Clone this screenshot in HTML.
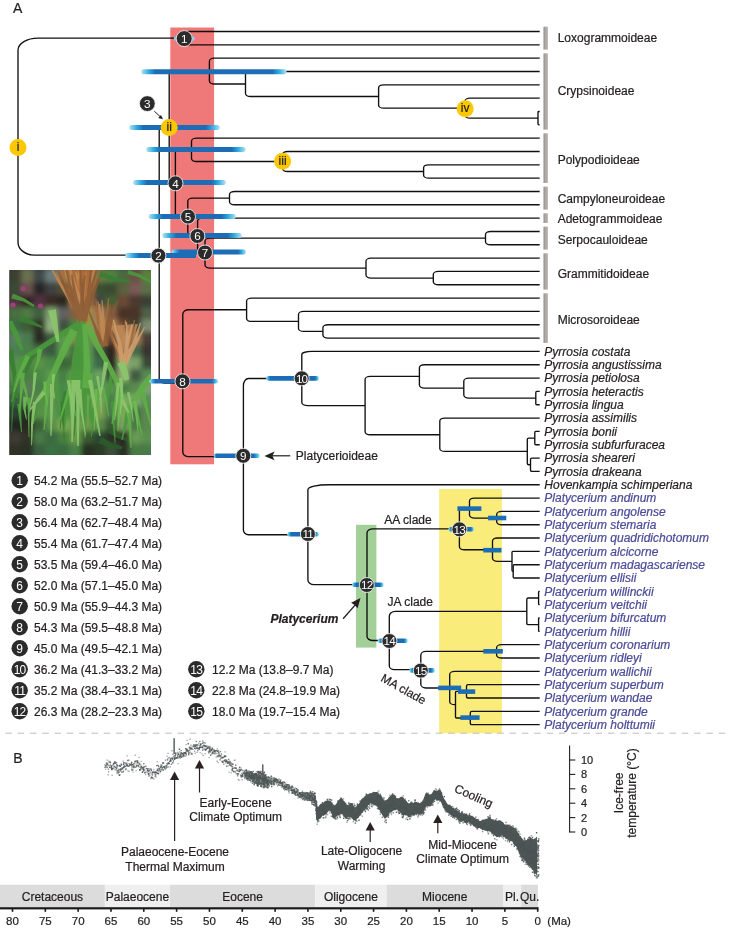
<!DOCTYPE html>
<html><head><meta charset="utf-8"><title>Figure</title>
<style>
html,body{margin:0;padding:0;background:#fff;}
body{width:730px;height:928px;overflow:hidden;font-family:"Liberation Sans", sans-serif;}
svg{display:block;}
</style></head><body>
<svg width="730" height="928" viewBox="0 0 730 928" font-family='"Liberation Sans", sans-serif'><defs><clipPath id="pc"><rect x="9.3" y="270.0" width="141.7" height="185.0"/></clipPath><filter id="pb" x="-5%" y="-5%" width="110%" height="110%"><feGaussianBlur stdDeviation="2.6"/></filter><linearGradient id="bg1" gradientUnits="userSpaceOnUse" x1="174" y1="0" x2="194.5" y2="0"><stop offset="0" stop-color="#B5E2F2"/><stop offset="0.1341" stop-color="#2DA9E0"/><stop offset="0.2439" stop-color="#1D6DB6"/><stop offset="0.7561" stop-color="#1D6DB6"/><stop offset="0.8659" stop-color="#2DA9E0"/><stop offset="1" stop-color="#B5E2F2"/></linearGradient><linearGradient id="bg2" gradientUnits="userSpaceOnUse" x1="141.3" y1="0" x2="286.5" y2="0"><stop offset="0" stop-color="#B5E2F2"/><stop offset="0.0530" stop-color="#2DA9E0"/><stop offset="0.0964" stop-color="#1D6DB6"/><stop offset="0.9036" stop-color="#1D6DB6"/><stop offset="0.9470" stop-color="#2DA9E0"/><stop offset="1" stop-color="#B5E2F2"/></linearGradient><linearGradient id="bg3" gradientUnits="userSpaceOnUse" x1="129.2" y1="0" x2="219.8" y2="0"><stop offset="0" stop-color="#B5E2F2"/><stop offset="0.0850" stop-color="#2DA9E0"/><stop offset="0.1545" stop-color="#1D6DB6"/><stop offset="0.8455" stop-color="#1D6DB6"/><stop offset="0.9150" stop-color="#2DA9E0"/><stop offset="1" stop-color="#B5E2F2"/></linearGradient><linearGradient id="bg4" gradientUnits="userSpaceOnUse" x1="146.2" y1="0" x2="245.6" y2="0"><stop offset="0" stop-color="#B5E2F2"/><stop offset="0.0775" stop-color="#2DA9E0"/><stop offset="0.1408" stop-color="#1D6DB6"/><stop offset="0.8592" stop-color="#1D6DB6"/><stop offset="0.9225" stop-color="#2DA9E0"/><stop offset="1" stop-color="#B5E2F2"/></linearGradient><linearGradient id="bg5" gradientUnits="userSpaceOnUse" x1="133.1" y1="0" x2="225.8" y2="0"><stop offset="0" stop-color="#B5E2F2"/><stop offset="0.0831" stop-color="#2DA9E0"/><stop offset="0.1510" stop-color="#1D6DB6"/><stop offset="0.8490" stop-color="#1D6DB6"/><stop offset="0.9169" stop-color="#2DA9E0"/><stop offset="1" stop-color="#B5E2F2"/></linearGradient><linearGradient id="bg6" gradientUnits="userSpaceOnUse" x1="148.6" y1="0" x2="235.8" y2="0"><stop offset="0" stop-color="#B5E2F2"/><stop offset="0.0883" stop-color="#2DA9E0"/><stop offset="0.1606" stop-color="#1D6DB6"/><stop offset="0.8394" stop-color="#1D6DB6"/><stop offset="0.9117" stop-color="#2DA9E0"/><stop offset="1" stop-color="#B5E2F2"/></linearGradient><linearGradient id="bg7" gradientUnits="userSpaceOnUse" x1="162.3" y1="0" x2="241.7" y2="0"><stop offset="0" stop-color="#B5E2F2"/><stop offset="0.0970" stop-color="#2DA9E0"/><stop offset="0.1763" stop-color="#1D6DB6"/><stop offset="0.8237" stop-color="#1D6DB6"/><stop offset="0.9030" stop-color="#2DA9E0"/><stop offset="1" stop-color="#B5E2F2"/></linearGradient><linearGradient id="bg8" gradientUnits="userSpaceOnUse" x1="171.5" y1="0" x2="246.0" y2="0"><stop offset="0" stop-color="#B5E2F2"/><stop offset="0.0591" stop-color="#2DA9E0"/><stop offset="0.1074" stop-color="#1D6DB6"/><stop offset="0.8926" stop-color="#1D6DB6"/><stop offset="0.9409" stop-color="#2DA9E0"/><stop offset="1" stop-color="#B5E2F2"/></linearGradient><linearGradient id="bg9" gradientUnits="userSpaceOnUse" x1="125.4" y1="0" x2="196.0" y2="0"><stop offset="0" stop-color="#B5E2F2"/><stop offset="0.1091" stop-color="#2DA9E0"/><stop offset="0.1983" stop-color="#1D6DB6"/><stop offset="0.9858" stop-color="#1D6DB6"/><stop offset="0.9922" stop-color="#1D6DB6"/><stop offset="1" stop-color="#1D6DB6"/></linearGradient><linearGradient id="bg10" gradientUnits="userSpaceOnUse" x1="149.4" y1="0" x2="218.0" y2="0"><stop offset="0" stop-color="#B5E2F2"/><stop offset="0.0481" stop-color="#2DA9E0"/><stop offset="0.0875" stop-color="#1D6DB6"/><stop offset="0.9125" stop-color="#1D6DB6"/><stop offset="0.9519" stop-color="#2DA9E0"/><stop offset="1" stop-color="#B5E2F2"/></linearGradient><linearGradient id="bg11" gradientUnits="userSpaceOnUse" x1="213.6" y1="0" x2="259.8" y2="0"><stop offset="0" stop-color="#B5E2F2"/><stop offset="0.0357" stop-color="#2DA9E0"/><stop offset="0.0649" stop-color="#1D6DB6"/><stop offset="0.8701" stop-color="#1D6DB6"/><stop offset="0.9286" stop-color="#2DA9E0"/><stop offset="1" stop-color="#B5E2F2"/></linearGradient><linearGradient id="bg12" gradientUnits="userSpaceOnUse" x1="266.2" y1="0" x2="319.0" y2="0"><stop offset="0" stop-color="#B5E2F2"/><stop offset="0.0417" stop-color="#2DA9E0"/><stop offset="0.0758" stop-color="#1D6DB6"/><stop offset="0.9242" stop-color="#1D6DB6"/><stop offset="0.9583" stop-color="#2DA9E0"/><stop offset="1" stop-color="#B5E2F2"/></linearGradient><linearGradient id="bg13" gradientUnits="userSpaceOnUse" x1="287.3" y1="0" x2="319.0" y2="0"><stop offset="0" stop-color="#B5E2F2"/><stop offset="0.0694" stop-color="#2DA9E0"/><stop offset="0.1262" stop-color="#1D6DB6"/><stop offset="0.8738" stop-color="#1D6DB6"/><stop offset="0.9306" stop-color="#2DA9E0"/><stop offset="1" stop-color="#B5E2F2"/></linearGradient><linearGradient id="bg14" gradientUnits="userSpaceOnUse" x1="352.0" y1="0" x2="383.7" y2="0"><stop offset="0" stop-color="#B5E2F2"/><stop offset="0.0694" stop-color="#2DA9E0"/><stop offset="0.1262" stop-color="#1D6DB6"/><stop offset="0.8738" stop-color="#1D6DB6"/><stop offset="0.9306" stop-color="#2DA9E0"/><stop offset="1" stop-color="#B5E2F2"/></linearGradient><linearGradient id="bg15" gradientUnits="userSpaceOnUse" x1="377.7" y1="0" x2="407.8" y2="0"><stop offset="0" stop-color="#B5E2F2"/><stop offset="0.0731" stop-color="#2DA9E0"/><stop offset="0.1329" stop-color="#1D6DB6"/><stop offset="0.8671" stop-color="#1D6DB6"/><stop offset="0.9269" stop-color="#2DA9E0"/><stop offset="1" stop-color="#B5E2F2"/></linearGradient><linearGradient id="bg16" gradientUnits="userSpaceOnUse" x1="409.3" y1="0" x2="434.9" y2="0"><stop offset="0" stop-color="#B5E2F2"/><stop offset="0.0859" stop-color="#2DA9E0"/><stop offset="0.1563" stop-color="#1D6DB6"/><stop offset="0.8437" stop-color="#1D6DB6"/><stop offset="0.9141" stop-color="#2DA9E0"/><stop offset="1" stop-color="#B5E2F2"/></linearGradient><linearGradient id="bg17" gradientUnits="userSpaceOnUse" x1="448.4" y1="0" x2="474.0" y2="0"><stop offset="0" stop-color="#B5E2F2"/><stop offset="0.0645" stop-color="#2DA9E0"/><stop offset="0.1172" stop-color="#1D6DB6"/><stop offset="0.8828" stop-color="#1D6DB6"/><stop offset="0.9355" stop-color="#2DA9E0"/><stop offset="1" stop-color="#B5E2F2"/></linearGradient><linearGradient id="gbar" x1="0" y1="0" x2="1" y2="0"><stop offset="0" stop-color="#8F8B87"/><stop offset="0.55" stop-color="#B4B0AC"/><stop offset="1" stop-color="#A9A5A1"/></linearGradient></defs><rect width="730" height="928" fill="#FFFFFF"/><g clip-path="url(#pc)"><rect x="9.3" y="270.0" width="141.7" height="185.0" fill="#2B3324"/><g filter="url(#pb)"><rect x="7.30" y="268.00" width="15.50" height="15.90" fill="#3a4030"/><rect x="21.30" y="268.00" width="12.50" height="15.90" fill="#6a7050"/><rect x="33.30" y="268.00" width="12.50" height="15.90" fill="#404848"/><rect x="45.30" y="268.00" width="12.50" height="15.90" fill="#6a7a7a"/><rect x="57.30" y="268.00" width="12.50" height="15.90" fill="#a08050"/><rect x="69.30" y="268.00" width="12.50" height="15.90" fill="#c08850"/><rect x="81.30" y="268.00" width="12.50" height="15.90" fill="#b87840"/><rect x="93.30" y="268.00" width="12.50" height="15.90" fill="#6a7a45"/><rect x="105.30" y="268.00" width="12.50" height="15.90" fill="#508040"/><rect x="117.30" y="268.00" width="12.50" height="15.90" fill="#4a6a40"/><rect x="129.30" y="268.00" width="12.50" height="15.90" fill="#6a5045"/><rect x="141.30" y="268.00" width="15.50" height="15.90" fill="#5a8040"/><rect x="7.30" y="282.40" width="15.50" height="12.90" fill="#3a4a35"/><rect x="21.30" y="282.40" width="12.50" height="12.90" fill="#6a5050"/><rect x="33.30" y="282.40" width="12.50" height="12.90" fill="#252525"/><rect x="45.30" y="282.40" width="12.50" height="12.90" fill="#404040"/><rect x="57.30" y="282.40" width="12.50" height="12.90" fill="#505038"/><rect x="69.30" y="282.40" width="12.50" height="12.90" fill="#c08040"/><rect x="81.30" y="282.40" width="12.50" height="12.90" fill="#b87a45"/><rect x="93.30" y="282.40" width="12.50" height="12.90" fill="#3a5035"/><rect x="105.30" y="282.40" width="12.50" height="12.90" fill="#3a4a30"/><rect x="117.30" y="282.40" width="12.50" height="12.90" fill="#5a6040"/><rect x="129.30" y="282.40" width="12.50" height="12.90" fill="#7a5a55"/><rect x="141.30" y="282.40" width="15.50" height="12.90" fill="#5a7045"/><rect x="7.30" y="294.80" width="15.50" height="12.90" fill="#503540"/><rect x="21.30" y="294.80" width="12.50" height="12.90" fill="#302828"/><rect x="33.30" y="294.80" width="12.50" height="12.90" fill="#503040"/><rect x="45.30" y="294.80" width="12.50" height="12.90" fill="#3a2a25"/><rect x="57.30" y="294.80" width="12.50" height="12.90" fill="#2a2520"/><rect x="69.30" y="294.80" width="12.50" height="12.90" fill="#b08050"/><rect x="81.30" y="294.80" width="12.50" height="12.90" fill="#b07040"/><rect x="93.30" y="294.80" width="12.50" height="12.90" fill="#454840"/><rect x="105.30" y="294.80" width="12.50" height="12.90" fill="#406035"/><rect x="117.30" y="294.80" width="12.50" height="12.90" fill="#6a4a35"/><rect x="129.30" y="294.80" width="12.50" height="12.90" fill="#4a3a30"/><rect x="141.30" y="294.80" width="15.50" height="12.90" fill="#3a4035"/><rect x="7.30" y="307.20" width="15.50" height="12.90" fill="#4a7040"/><rect x="21.30" y="307.20" width="12.50" height="12.90" fill="#507a45"/><rect x="33.30" y="307.20" width="12.50" height="12.90" fill="#406040"/><rect x="45.30" y="307.20" width="12.50" height="12.90" fill="#80a070"/><rect x="57.30" y="307.20" width="12.50" height="12.90" fill="#606060"/><rect x="69.30" y="307.20" width="12.50" height="12.90" fill="#806040"/><rect x="81.30" y="307.20" width="12.50" height="12.90" fill="#a08a45"/><rect x="93.30" y="307.20" width="12.50" height="12.90" fill="#a07a55"/><rect x="105.30" y="307.20" width="12.50" height="12.90" fill="#7a5a45"/><rect x="117.30" y="307.20" width="12.50" height="12.90" fill="#4a3025"/><rect x="129.30" y="307.20" width="12.50" height="12.90" fill="#4a3525"/><rect x="141.30" y="307.20" width="15.50" height="12.90" fill="#506048"/><rect x="7.30" y="319.60" width="15.50" height="12.90" fill="#3a6a40"/><rect x="21.30" y="319.60" width="12.50" height="12.90" fill="#405a38"/><rect x="33.30" y="319.60" width="12.50" height="12.90" fill="#303028"/><rect x="45.30" y="319.60" width="12.50" height="12.90" fill="#90b080"/><rect x="57.30" y="319.60" width="12.50" height="12.90" fill="#405040"/><rect x="69.30" y="319.60" width="12.50" height="12.90" fill="#4a8040"/><rect x="81.30" y="319.60" width="12.50" height="12.90" fill="#8a9a40"/><rect x="93.30" y="319.60" width="12.50" height="12.90" fill="#a08060"/><rect x="105.30" y="319.60" width="12.50" height="12.90" fill="#b08050"/><rect x="117.30" y="319.60" width="12.50" height="12.90" fill="#6a4a35"/><rect x="129.30" y="319.60" width="12.50" height="12.90" fill="#3a4030"/><rect x="141.30" y="319.60" width="15.50" height="12.90" fill="#7a8a70"/><rect x="7.30" y="332.00" width="15.50" height="12.90" fill="#5a8060"/><rect x="21.30" y="332.00" width="12.50" height="12.90" fill="#4a7a50"/><rect x="33.30" y="332.00" width="12.50" height="12.90" fill="#2a2a20"/><rect x="45.30" y="332.00" width="12.50" height="12.90" fill="#405a40"/><rect x="57.30" y="332.00" width="12.50" height="12.90" fill="#5a9a50"/><rect x="69.30" y="332.00" width="12.50" height="12.90" fill="#7a9050"/><rect x="81.30" y="332.00" width="12.50" height="12.90" fill="#5a9a50"/><rect x="93.30" y="332.00" width="12.50" height="12.90" fill="#a07040"/><rect x="105.30" y="332.00" width="12.50" height="12.90" fill="#6a4a35"/><rect x="117.30" y="332.00" width="12.50" height="12.90" fill="#b08a60"/><rect x="129.30" y="332.00" width="12.50" height="12.90" fill="#a07a55"/><rect x="141.30" y="332.00" width="15.50" height="12.90" fill="#4a4038"/><rect x="7.30" y="344.40" width="15.50" height="12.90" fill="#4a8050"/><rect x="21.30" y="344.40" width="12.50" height="12.90" fill="#4a8048"/><rect x="33.30" y="344.40" width="12.50" height="12.90" fill="#4a6a48"/><rect x="45.30" y="344.40" width="12.50" height="12.90" fill="#3a5a40"/><rect x="57.30" y="344.40" width="12.50" height="12.90" fill="#5a9a50"/><rect x="69.30" y="344.40" width="12.50" height="12.90" fill="#4a7040"/><rect x="81.30" y="344.40" width="12.50" height="12.90" fill="#5a9a55"/><rect x="93.30" y="344.40" width="12.50" height="12.90" fill="#3a5a40"/><rect x="105.30" y="344.40" width="12.50" height="12.90" fill="#302520"/><rect x="117.30" y="344.40" width="12.50" height="12.90" fill="#b08a60"/><rect x="129.30" y="344.40" width="12.50" height="12.90" fill="#4a6a48"/><rect x="141.30" y="344.40" width="15.50" height="12.90" fill="#3a3530"/><rect x="7.30" y="356.80" width="15.50" height="12.90" fill="#5a9050"/><rect x="21.30" y="356.80" width="12.50" height="12.90" fill="#4a8a45"/><rect x="33.30" y="356.80" width="12.50" height="12.90" fill="#5a9048"/><rect x="45.30" y="356.80" width="12.50" height="12.90" fill="#4a8a45"/><rect x="57.30" y="356.80" width="12.50" height="12.90" fill="#3a6a38"/><rect x="69.30" y="356.80" width="12.50" height="12.90" fill="#4a6a40"/><rect x="81.30" y="356.80" width="12.50" height="12.90" fill="#5a9a55"/><rect x="93.30" y="356.80" width="12.50" height="12.90" fill="#3a6a48"/><rect x="105.30" y="356.80" width="12.50" height="12.90" fill="#2a2a20"/><rect x="117.30" y="356.80" width="12.50" height="12.90" fill="#8ab070"/><rect x="129.30" y="356.80" width="12.50" height="12.90" fill="#7aa068"/><rect x="141.30" y="356.80" width="15.50" height="12.90" fill="#3a4a38"/><rect x="7.30" y="369.20" width="15.50" height="12.90" fill="#5a9050"/><rect x="21.30" y="369.20" width="12.50" height="12.90" fill="#4a8040"/><rect x="33.30" y="369.20" width="12.50" height="12.90" fill="#4a8a45"/><rect x="45.30" y="369.20" width="12.50" height="12.90" fill="#5a9a50"/><rect x="57.30" y="369.20" width="12.50" height="12.90" fill="#4a8045"/><rect x="69.30" y="369.20" width="12.50" height="12.90" fill="#6aa055"/><rect x="81.30" y="369.20" width="12.50" height="12.90" fill="#4a8a48"/><rect x="93.30" y="369.20" width="12.50" height="12.90" fill="#6aa060"/><rect x="105.30" y="369.20" width="12.50" height="12.90" fill="#3a4a35"/><rect x="117.30" y="369.20" width="12.50" height="12.90" fill="#90b070"/><rect x="129.30" y="369.20" width="12.50" height="12.90" fill="#405a40"/><rect x="141.30" y="369.20" width="15.50" height="12.90" fill="#5a8a58"/><rect x="7.30" y="381.60" width="15.50" height="12.90" fill="#4a8045"/><rect x="21.30" y="381.60" width="12.50" height="12.90" fill="#5a7a58"/><rect x="33.30" y="381.60" width="12.50" height="12.90" fill="#4a8045"/><rect x="45.30" y="381.60" width="12.50" height="12.90" fill="#5a9048"/><rect x="57.30" y="381.60" width="12.50" height="12.90" fill="#4a8a48"/><rect x="69.30" y="381.60" width="12.50" height="12.90" fill="#6aa05a"/><rect x="81.30" y="381.60" width="12.50" height="12.90" fill="#4a8a48"/><rect x="93.30" y="381.60" width="12.50" height="12.90" fill="#5a9a55"/><rect x="105.30" y="381.60" width="12.50" height="12.90" fill="#5a9050"/><rect x="117.30" y="381.60" width="12.50" height="12.90" fill="#4a8045"/><rect x="129.30" y="381.60" width="12.50" height="12.90" fill="#5a8a50"/><rect x="141.30" y="381.60" width="15.50" height="12.90" fill="#7aa070"/><rect x="7.30" y="394.00" width="15.50" height="12.90" fill="#3a6040"/><rect x="21.30" y="394.00" width="12.50" height="12.90" fill="#4a7a48"/><rect x="33.30" y="394.00" width="12.50" height="12.90" fill="#5a8a50"/><rect x="45.30" y="394.00" width="12.50" height="12.90" fill="#5a9050"/><rect x="57.30" y="394.00" width="12.50" height="12.90" fill="#4a8a48"/><rect x="69.30" y="394.00" width="12.50" height="12.90" fill="#4a8a48"/><rect x="81.30" y="394.00" width="12.50" height="12.90" fill="#5a9048"/><rect x="93.30" y="394.00" width="12.50" height="12.90" fill="#7aa858"/><rect x="105.30" y="394.00" width="12.50" height="12.90" fill="#4a8048"/><rect x="117.30" y="394.00" width="12.50" height="12.90" fill="#7aa860"/><rect x="129.30" y="394.00" width="12.50" height="12.90" fill="#7aa868"/><rect x="141.30" y="394.00" width="15.50" height="12.90" fill="#5a9055"/><rect x="7.30" y="406.40" width="15.50" height="12.90" fill="#2a4030"/><rect x="21.30" y="406.40" width="12.50" height="12.90" fill="#253025"/><rect x="33.30" y="406.40" width="12.50" height="12.90" fill="#5a9048"/><rect x="45.30" y="406.40" width="12.50" height="12.90" fill="#5a9a50"/><rect x="57.30" y="406.40" width="12.50" height="12.90" fill="#4a8a45"/><rect x="69.30" y="406.40" width="12.50" height="12.90" fill="#5a9a50"/><rect x="81.30" y="406.40" width="12.50" height="12.90" fill="#5a9048"/><rect x="93.30" y="406.40" width="12.50" height="12.90" fill="#7aa050"/><rect x="105.30" y="406.40" width="12.50" height="12.90" fill="#4a7a48"/><rect x="117.30" y="406.40" width="12.50" height="12.90" fill="#7aa858"/><rect x="129.30" y="406.40" width="12.50" height="12.90" fill="#4a7048"/><rect x="141.30" y="406.40" width="15.50" height="12.90" fill="#5a8a50"/><rect x="7.30" y="418.80" width="15.50" height="12.90" fill="#202820"/><rect x="21.30" y="418.80" width="12.50" height="12.90" fill="#252a20"/><rect x="33.30" y="418.80" width="12.50" height="12.90" fill="#3a6038"/><rect x="45.30" y="418.80" width="12.50" height="12.90" fill="#5a9048"/><rect x="57.30" y="418.80" width="12.50" height="12.90" fill="#7aa850"/><rect x="69.30" y="418.80" width="12.50" height="12.90" fill="#6aa050"/><rect x="81.30" y="418.80" width="12.50" height="12.90" fill="#6a9a48"/><rect x="93.30" y="418.80" width="12.50" height="12.90" fill="#5a8a48"/><rect x="105.30" y="418.80" width="12.50" height="12.90" fill="#3a5a38"/><rect x="117.30" y="418.80" width="12.50" height="12.90" fill="#7aa060"/><rect x="129.30" y="418.80" width="12.50" height="12.90" fill="#4a7a45"/><rect x="141.30" y="418.80" width="15.50" height="12.90" fill="#5a8a50"/><rect x="7.30" y="431.20" width="15.50" height="12.90" fill="#3a3a30"/><rect x="21.30" y="431.20" width="12.50" height="12.90" fill="#303028"/><rect x="33.30" y="431.20" width="12.50" height="12.90" fill="#4a7a45"/><rect x="45.30" y="431.20" width="12.50" height="12.90" fill="#3a6a40"/><rect x="57.30" y="431.20" width="12.50" height="12.90" fill="#4a8040"/><rect x="69.30" y="431.20" width="12.50" height="12.90" fill="#6a9a48"/><rect x="81.30" y="431.20" width="12.50" height="12.90" fill="#3a5a30"/><rect x="93.30" y="431.20" width="12.50" height="12.90" fill="#2a4a30"/><rect x="105.30" y="431.20" width="12.50" height="12.90" fill="#2a3025"/><rect x="117.30" y="431.20" width="12.50" height="12.90" fill="#2a2a20"/><rect x="129.30" y="431.20" width="12.50" height="12.90" fill="#6a9a55"/><rect x="141.30" y="431.20" width="15.50" height="12.90" fill="#5a9050"/><rect x="7.30" y="443.60" width="15.50" height="15.90" fill="#303028"/><rect x="21.30" y="443.60" width="12.50" height="15.90" fill="#2a3025"/><rect x="33.30" y="443.60" width="12.50" height="15.90" fill="#3a6040"/><rect x="45.30" y="443.60" width="12.50" height="15.90" fill="#3a7040"/><rect x="57.30" y="443.60" width="12.50" height="15.90" fill="#3a6a40"/><rect x="69.30" y="443.60" width="12.50" height="15.90" fill="#4a8045"/><rect x="81.30" y="443.60" width="12.50" height="15.90" fill="#253020"/><rect x="93.30" y="443.60" width="12.50" height="15.90" fill="#2a3a28"/><rect x="105.30" y="443.60" width="12.50" height="15.90" fill="#3a5038"/><rect x="117.30" y="443.60" width="12.50" height="15.90" fill="#2a3025"/><rect x="129.30" y="443.60" width="12.50" height="15.90" fill="#4a7a45"/><rect x="141.30" y="443.60" width="15.50" height="15.90" fill="#4a7a48"/></g><path fill="#A8683A" opacity="0.85" d="M62,270 L100,270 L92,300 L86,322 L80,322 L70,298 ZM87.2,319.3 L71.8,296.5 L54.2,273.7 L53.0,274.6 L68.4,298.7 L81.6,322.7ZM84.3,319.8 L70.7,293.9 L60.0,267.9 L58.6,268.4 L67.6,295.2 L79.4,322.2ZM83.9,320.0 L73.4,296.1 L65.2,272.2 L63.8,272.6 L70.1,297.3 L78.6,322.0ZM86.7,320.7 L82.8,296.0 L76.8,271.5 L75.3,271.8 L79.4,296.6 L81.5,321.3ZM84.8,320.7 L81.7,297.8 L81.1,274.8 L79.6,274.7 L77.9,297.9 L78.8,321.3ZM85.1,320.9 L83.2,295.1 L79.0,269.4 L77.5,269.6 L79.7,295.4 L79.4,321.1ZM87.3,320.9 L85.4,295.9 L87.0,270.7 L85.5,270.6 L81.7,295.8 L81.4,321.1ZM84.5,322.1 L94.0,295.4 L98.6,268.8 L97.2,268.5 L90.4,294.3 L78.9,319.9ZM86.9,321.7 L91.6,296.9 L100.6,271.8 L99.2,271.2 L87.8,295.6 L80.7,320.3ZM127.3,362.9 L115.8,342.2 L105.5,321.4 L104.4,321.8 L113.1,343.4 L123.1,365.1ZM126.1,363.8 L123.2,343.2 L118.4,322.7 L117.2,322.9 L119.6,343.6 L120.1,364.2ZM125.4,363.7 L122.0,344.2 L119.9,324.6 L118.7,324.6 L118.7,344.5 L120.0,364.3ZM124.5,364.0 L123.4,343.6 L121.6,323.2 L120.4,323.2 L120.6,343.6 L120.1,364.0ZM126.9,364.5 L130.5,345.6 L135.3,326.5 L134.2,326.2 L127.6,344.8 L122.3,363.5ZM126.4,364.6 L131.0,342.3 L135.1,320.1 L134.0,319.8 L128.1,341.7 L121.9,363.4ZM107.2,345.4 L99.4,322.4 L96.5,299.2 L95.3,299.3 L96.9,322.9 L103.4,346.6ZM106.8,345.5 L102.1,325.3 L95.1,305.3 L93.9,305.6 L98.7,326.1 L101.2,346.5ZM104.8,346.6 L108.7,322.2 L109.1,298.0 L107.9,297.9 L105.4,321.8 L99.3,345.4Z"/><path fill="#C08A55" opacity="0.85" d="M108,326 L138,324 L130,350 L125,364 L120,360 L112,342 ZM84.8,319.7 L68.1,293.9 L52.0,268.0 L50.7,268.8 L65.2,295.6 L80.3,322.3ZM85.1,320.2 L77.6,294.6 L65.1,269.3 L63.8,269.9 L73.5,296.0 L78.4,321.8ZM84.6,320.3 L78.2,294.4 L70.3,268.5 L68.8,268.8 L74.1,295.3 L77.8,321.7ZM84.2,320.7 L80.1,294.4 L70.7,268.4 L69.3,268.9 L76.6,295.2 L78.7,321.3ZM87.8,321.4 L90.2,295.7 L94.8,269.8 L93.3,269.5 L86.5,295.0 L82.0,320.6ZM126.4,362.8 L115.8,342.4 L107.6,321.9 L106.5,322.3 L112.7,343.7 L121.4,365.2ZM127.9,362.9 L118.3,344.6 L111.3,326.3 L110.1,326.6 L115.2,345.8 L123.0,365.1ZM125.1,363.6 L121.1,343.6 L115.6,323.5 L114.5,323.8 L118.2,344.1 L120.5,364.4ZM125.4,364.3 L127.6,342.3 L126.0,320.5 L124.8,320.5 L124.9,342.2 L121.1,363.7ZM126.7,364.7 L132.5,344.4 L135.0,324.2 L133.8,324.0 L129.6,343.7 L122.2,363.3ZM107.2,345.8 L104.4,323.5 L98.3,301.3 L97.2,301.6 L101.3,324.0 L102.0,346.2ZM107.4,345.5 L102.6,324.7 L100.3,303.8 L99.1,303.9 L99.5,325.1 L102.3,346.5ZM104.5,346.1 L105.0,323.1 L102.6,300.1 L101.4,300.2 L102.4,323.1 L100.5,345.9Z"/><path fill="#8A5A35" opacity="0.85" d="M84.6,319.5 L70.9,295.0 L58.5,270.4 L57.1,271.0 L67.3,296.7 L78.7,322.5ZM84.2,320.1 L74.3,295.2 L67.0,270.3 L65.5,270.6 L71.1,296.2 L79.2,321.9ZM85.4,320.1 L77.4,297.4 L72.6,274.5 L71.1,274.7 L73.7,298.2 L79.5,321.9ZM84.2,321.1 L83.9,294.6 L80.7,268.3 L79.2,268.4 L80.6,294.7 L79.1,320.9ZM85.0,321.0 L83.8,298.2 L85.7,275.3 L84.2,275.2 L80.4,298.0 L79.6,321.0ZM84.3,321.8 L90.5,294.9 L91.9,268.3 L90.4,268.1 L86.9,294.3 L78.6,320.2ZM87.2,321.4 L90.4,296.5 L96.9,271.5 L95.5,271.1 L87.1,295.8 L82.0,320.6ZM85.3,322.3 L93.4,298.0 L102.2,273.6 L100.9,273.0 L89.4,296.4 L78.8,319.7ZM104.5,345.3 L95.8,325.3 L87.2,305.3 L86.1,305.7 L93.4,326.2 L100.7,346.7ZM108.3,346.3 L109.5,324.9 L111.1,303.5 L110.0,303.3 L106.1,324.5 L102.6,345.7ZM107.3,346.5 L112.0,325.0 L114.8,303.6 L113.6,303.4 L109.4,324.5 L103.3,345.5ZM107.7,346.4 L111.4,323.8 L118.3,301.1 L117.2,300.7 L108.7,323.1 L103.5,345.6Z"/><path fill="#D0A070" opacity="0.85" d="M125.4,363.6 L121.0,341.5 L113.9,319.6 L112.8,319.9 L117.7,342.2 L119.9,364.4ZM128.1,364.2 L128.6,343.1 L127.0,322.1 L125.8,322.2 L125.4,343.0 L122.8,363.8ZM126.5,364.4 L128.7,344.3 L132.8,324.1 L131.6,323.8 L125.9,343.7 L121.9,363.6ZM125.8,365.4 L135.7,344.1 L141.0,323.0 L139.9,322.7 L132.5,342.8 L120.5,362.6ZM127.0,365.1 L136.0,346.3 L145.1,327.5 L144.1,326.9 L133.4,344.9 L122.9,362.9Z"/><path fill="#2C5A2A" opacity="0.92" d="M98.4,443.1 L109.1,447.4 L121.6,449.5 L122.4,446.5 L110.9,442.6 L101.6,436.9ZM108.2,432.4 L116.9,438.0 L127.4,441.4 L128.6,438.6 L119.1,434.0 L111.8,427.6Z"/><path fill="#3A7E32" opacity="0.92" d="M31.7,351.1 L26.8,365.4 L21.3,379.7 L22.7,380.3 L29.8,366.6 L36.3,352.9ZM7.0,350.5 L11.9,372.3 L16.0,398.1 L18.0,397.9 L16.1,371.7 L13.0,349.5ZM99.2,276.4 L114.6,280.7 L129.8,283.0 L130.2,281.0 L115.4,277.3 L100.8,271.6ZM18.9,320.8 L29.2,323.9 L41.6,327.9 L42.4,326.1 L30.8,320.1 L21.1,315.2ZM73.2,390.5 L74.6,413.5 L73.8,436.5 L74.6,436.5 L76.4,413.5 L76.0,390.4ZM14.7,385.3 L11.8,408.4 L11.2,431.5 L12.0,431.5 L13.5,408.6 L17.3,385.7ZM67.8,380.1 L67.2,391.7 L66.1,403.4 L66.9,403.5 L68.9,391.9 L70.5,380.3ZM60.5,401.5 L62.3,423.8 L64.0,446.0 L64.8,446.0 L64.8,423.6 L64.6,401.3ZM63.8,390.9 L60.6,410.0 L59.8,429.0 L60.6,429.1 L62.5,410.3 L66.7,391.5Z"/><path fill="#4A983C" opacity="0.92" d="M80.0,321.5 L75.6,339.4 L71.9,359.7 L70.0,383.0 L86.0,383.0 L84.1,360.3 L84.4,340.6 L86.0,322.5ZM67.5,379.7 L65.4,405.8 L63.3,431.9 L64.7,432.1 L68.6,406.2 L72.5,380.3ZM79.5,380.1 L81.9,409.1 L84.3,438.0 L85.7,438.0 L85.1,408.9 L84.5,379.9ZM83.5,380.4 L87.9,404.2 L92.3,428.1 L93.7,427.9 L91.1,403.8 L88.5,379.6ZM78.3,321.0 L64.4,329.3 L48.5,339.7 L32.8,350.0 L19.0,358.3 L21.0,361.7 L35.2,354.0 L51.5,344.3 L67.6,334.7 L81.7,327.0ZM19.6,359.3 L14.5,380.6 L11.3,401.9 L12.7,402.1 L17.6,381.4 L24.4,360.7ZM43.9,389.2 L38.2,406.5 L32.4,423.8 L33.6,424.2 L40.8,407.5 L48.1,390.8ZM53.8,378.2 L56.6,396.2 L59.4,414.1 L60.6,413.9 L59.4,395.8 L58.2,377.8ZM6.0,323.8 L13.6,335.1 L20.6,350.5 L23.4,349.5 L18.4,332.9 L12.0,320.2ZM109.8,371.6 L107.6,390.8 L105.4,409.9 L106.6,410.1 L110.4,391.2 L114.2,372.4ZM125.8,411.5 L123.6,425.7 L121.4,439.9 L122.6,440.1 L126.4,426.3 L130.2,412.5ZM127.4,273.9 L139.4,277.4 L150.5,282.9 L151.5,281.1 L140.6,274.6 L128.6,270.1ZM11.2,298.4 L23.3,301.6 L33.5,306.9 L34.5,305.1 L24.7,298.4 L12.8,293.6ZM65.7,374.5 L67.5,393.7 L70.2,412.8 L71.0,412.7 L69.4,393.5 L68.8,374.3ZM17.2,403.9 L19.0,418.0 L21.2,432.0 L22.0,431.9 L21.4,417.8 L21.2,403.6ZM91.8,402.5 L92.7,419.6 L90.9,436.8 L91.7,436.9 L94.4,419.7 L94.3,402.4ZM110.9,401.8 L112.4,422.4 L114.8,442.9 L115.6,442.8 L114.7,422.2 L114.6,401.6Z"/><path fill="#60AE48" opacity="0.92" d="M82.0,324.2 L83.3,345.2 L83.6,368.0 L82.0,387.8 L90.0,388.2 L90.4,368.0 L88.7,344.8 L86.0,323.8ZM70.1,379.4 L64.7,399.6 L59.3,419.8 L60.7,420.2 L67.3,400.4 L73.9,380.6ZM25.8,354.9 L17.8,373.4 L13.3,391.8 L14.7,392.2 L20.8,374.6 L30.2,357.1ZM37.5,348.6 L36.6,360.1 L33.3,371.7 L34.7,372.3 L39.8,360.9 L42.5,349.4ZM70.4,328.2 L60.8,348.5 L51.3,370.7 L41.8,390.9 L46.2,393.1 L56.7,373.3 L67.2,351.5 L77.6,331.8ZM45.8,387.8 L44.6,408.9 L43.4,429.9 L44.6,430.1 L47.4,409.1 L50.2,388.2ZM18.1,372.6 L24.7,392.3 L29.3,412.1 L30.7,411.9 L27.3,391.7 L21.9,371.4ZM85.1,327.4 L94.4,346.4 L104.7,363.3 L113.8,380.9 L120.1,400.6 L123.9,399.4 L118.2,379.1 L109.3,360.7 L99.6,343.6 L90.9,324.6ZM117.8,395.9 L117.6,413.4 L117.4,431.0 L118.6,431.0 L120.4,413.6 L122.2,396.1ZM115.8,389.6 L113.6,406.8 L111.4,423.9 L112.6,424.1 L116.4,407.2 L120.2,390.4ZM149.3,373.8 L139.6,386.2 L131.9,398.8 L127.2,410.2 L130.8,411.8 L136.1,401.2 L144.4,389.8 L154.7,378.2ZM126.8,410.1 L128.6,429.1 L130.4,448.0 L131.6,448.0 L131.4,428.9 L131.2,409.9ZM131.8,402.5 L136.6,418.8 L141.4,435.1 L142.6,434.9 L139.4,418.2 L136.2,401.5ZM139.8,390.5 L145.1,408.3 L150.4,426.1 L151.6,425.9 L147.9,407.7 L144.2,389.5ZM101.3,387.5 L105.4,401.9 L108.3,416.4 L109.1,416.3 L107.3,401.5 L104.2,386.7ZM20.9,372.4 L19.9,392.4 L19.1,412.3 L19.9,412.4 L22.4,392.6 L25.0,372.7ZM68.1,385.0 L71.2,401.0 L75.7,417.0 L76.4,416.8 L73.7,400.6 L72.2,384.4ZM89.8,373.4 L90.8,386.3 L90.2,399.2 L91.0,399.2 L92.7,386.3 L92.8,373.3ZM86.9,394.6 L87.0,410.7 L87.6,426.8 L88.4,426.8 L88.8,410.7 L89.6,394.7ZM97.5,387.7 L95.8,408.4 L96.7,428.9 L97.5,428.9 L97.9,408.5 L101.0,388.1ZM27.8,397.7 L27.8,417.3 L28.6,436.9 L29.4,436.9 L29.5,417.3 L30.5,397.8ZM90.1,382.5 L91.5,395.2 L91.7,408.0 L92.5,408.0 L94.0,395.2 L94.2,382.3Z"/><path fill="#70B852" opacity="0.92" d="M120.4,387.5 L118.4,406.6 L117.6,425.6 L118.4,425.7 L120.1,406.8 L123.0,387.9ZM120.8,395.4 L124.8,406.7 L127.9,418.1 L128.7,417.9 L126.9,406.2 L124.2,394.4ZM43.3,381.6 L44.2,393.6 L47.6,405.5 L48.4,405.3 L46.1,393.3 L46.3,381.5ZM119.9,382.0 L120.3,404.5 L117.8,427.0 L118.6,427.1 L122.5,404.6 L123.4,382.1ZM132.9,401.0 L135.6,417.3 L137.8,433.6 L138.6,433.6 L137.8,417.1 L136.5,400.5ZM67.8,383.0 L69.6,406.1 L71.7,429.2 L72.5,429.2 L71.9,406.0 L71.7,382.8ZM23.2,396.6 L23.2,408.2 L26.0,419.6 L26.8,419.5 L25.6,408.1 L27.3,396.9ZM94.5,389.0 L94.1,409.9 L93.7,430.7 L94.5,430.7 L96.0,409.9 L97.4,389.2Z"/><path fill="#8CC46C" opacity="0.92" d="M71.5,379.9 L71.4,410.9 L71.3,442.0 L72.7,442.0 L74.6,411.1 L76.5,380.1ZM75.5,380.0 L76.4,413.0 L77.2,446.0 L78.8,446.0 L79.6,413.0 L80.5,380.0ZM88.0,380.4 L93.6,408.2 L99.3,436.1 L100.7,435.9 L96.4,407.8 L92.0,379.6ZM49.8,384.0 L50.1,410.0 L50.4,436.0 L51.6,436.0 L52.9,410.0 L54.2,384.0ZM42.2,390.6 L35.9,400.1 L29.5,409.6 L30.5,410.4 L38.1,401.9 L45.8,393.4ZM120.0,401.1 L124.2,407.2 L128.5,413.3 L129.5,412.7 L126.8,405.8 L124.0,398.9ZM103.8,361.6 L101.6,380.8 L99.4,399.9 L100.6,400.1 L104.4,381.2 L108.2,362.4ZM48.1,310.8 L52.2,325.5 L56.5,342.3 L59.5,341.7 L57.8,324.5 L55.9,309.2ZM33.4,372.3 L32.5,390.2 L29.4,408.2 L30.2,408.3 L34.7,390.5 L36.9,372.6ZM116.6,382.6 L115.8,401.3 L114.2,420.1 L115.0,420.2 L117.9,401.6 L119.9,382.9ZM118.9,378.0 L120.8,396.1 L119.8,414.4 L120.6,414.4 L123.1,396.2 L122.7,377.7ZM52.1,374.3 L51.8,386.6 L54.3,398.8 L55.1,398.7 L53.7,386.6 L55.3,374.5ZM96.0,376.4 L99.6,394.9 L101.0,413.5 L101.8,413.4 L101.4,394.7 L98.8,376.0ZM32.9,401.8 L31.0,423.5 L31.2,445.2 L32.0,445.2 L33.2,423.7 L36.4,402.2ZM78.1,389.3 L80.8,412.4 L85.1,435.4 L85.9,435.3 L82.9,412.1 L81.5,389.0ZM126.9,392.6 L130.6,407.1 L132.8,421.6 L133.6,421.5 L132.3,406.8 L129.5,392.0ZM66.7,380.5 L70.2,399.6 L71.5,418.8 L72.3,418.7 L72.2,399.4 L69.8,380.0ZM117.3,363.4 L120.8,371.1 L124.6,380.7 L129.4,379.3 L127.2,368.9 L124.7,360.6Z"/><circle cx="23" cy="288.5" r="2.6" fill="#A0407A"/><circle cx="13" cy="305" r="2.6" fill="#A0407A"/><circle cx="40.5" cy="306" r="2.6" fill="#A0407A"/></g>
<g fill="none" stroke="#111111" stroke-width="1.35" stroke-linecap="butt"><path d="M184.30,38.16 H38.00 C27.00,38.16 18.00,43.56 18.00,50.16 V242.19 C18.00,249.34 25.47,255.19 34.60,255.19 H159.20"/><path d="M539.70,31.50 H189.30 C186.55,31.50 184.30,32.85 184.30,34.50 V41.83 C184.30,43.48 186.55,44.83 189.30,44.83 H539.70"/><path d="M169.20,127.21 H163.20 C161.00,127.21 159.20,128.78 159.20,130.71 V378.68 C159.20,381.16 161.45,383.18 164.20,383.18 H182.80"/><path d="M209.40,71.07 H173.20 C171.00,71.07 169.20,72.42 169.20,74.07 V180.34 C169.20,181.99 171.00,183.34 173.20,183.34 H175.40"/><path d="M539.70,58.16 H214.40 C211.65,58.16 209.40,59.51 209.40,61.16 V80.99 C209.40,82.64 211.65,83.99 214.40,83.99 H245.50"/><path d="M539.70,71.49 H250.50 C247.75,71.49 245.50,72.84 245.50,74.49 V93.48 C245.50,95.13 247.75,96.48 250.50,96.48 H378.60"/><path d="M539.70,84.82 H383.60 C380.85,84.82 378.60,86.17 378.60,87.82 V105.15 C378.60,106.80 380.85,108.15 383.60,108.15 H465.00"/><path d="M539.70,98.15 H470.00 C467.25,98.15 465.00,99.50 465.00,101.15 V115.15 C465.00,116.80 467.25,118.15 470.00,118.15 H538.00"/><path d="M539.70,111.48 H538.80 C538.36,111.48 538.00,111.84 538.00,112.28 V124.01 C538.00,124.45 538.36,124.81 538.80,124.81 H539.70"/><path d="M191.50,149.80 H180.40 C177.65,149.80 175.40,151.15 175.40,152.80 V213.87 C175.40,215.52 177.65,216.87 180.40,216.87 H187.80"/><path d="M539.70,138.14 H196.50 C193.75,138.14 191.50,139.49 191.50,141.14 V158.47 C191.50,160.12 193.75,161.47 196.50,161.47 H282.50"/><path d="M539.70,151.47 H287.50 C284.75,151.47 282.50,152.82 282.50,154.47 V168.47 C282.50,170.12 284.75,171.47 287.50,171.47 H423.60"/><path d="M539.70,164.80 H428.60 C425.85,164.80 423.60,166.15 423.60,167.80 V175.13 C423.60,176.78 425.85,178.13 428.60,178.13 H539.70"/><path d="M229.50,198.12 H192.80 C190.05,198.12 187.80,199.47 187.80,201.12 V232.62 C187.80,234.27 190.05,235.62 192.80,235.62 H197.60"/><path d="M539.70,191.46 H234.50 C231.75,191.46 229.50,192.81 229.50,194.46 V201.79 C229.50,203.44 231.75,204.79 234.50,204.79 H539.70"/><path d="M539.70,218.12 H202.60 C199.85,218.12 197.60,219.47 197.60,221.12 V250.11 C197.60,251.76 199.85,253.11 202.60,253.11 H205.00"/><path d="M485.50,238.12 H210.00 C207.25,238.12 205.00,239.47 205.00,241.12 V265.11 C205.00,266.76 207.25,268.11 210.00,268.11 H366.00"/><path d="M539.70,231.45 H490.50 C487.75,231.45 485.50,232.80 485.50,234.45 V241.78 C485.50,243.43 487.75,244.78 490.50,244.78 H539.70"/><path d="M539.70,258.11 H371.00 C368.25,258.11 366.00,259.46 366.00,261.11 V275.11 C366.00,276.75 368.25,278.11 371.00,278.11 H433.30"/><path d="M539.70,271.44 H438.30 C435.55,271.44 433.30,272.79 433.30,274.44 V281.77 C433.30,283.42 435.55,284.77 438.30,284.77 H539.70"/><path d="M246.60,309.76 H188.50 C185.37,309.76 182.80,311.74 182.80,314.16 V452.10 C182.80,454.58 185.05,456.60 187.80,456.60 H243.40"/><path d="M539.70,298.10 H251.60 C248.85,298.10 246.60,299.45 246.60,301.10 V318.43 C246.60,320.08 248.85,321.43 251.60,321.43 H298.50"/><path d="M539.70,311.43 H303.50 C300.75,311.43 298.50,312.78 298.50,314.43 V328.42 C298.50,330.07 300.75,331.42 303.50,331.42 H322.90"/><path d="M539.70,324.76 H327.90 C325.15,324.76 322.90,326.11 322.90,327.76 V335.09 C322.90,336.74 325.15,338.09 327.90,338.09 H539.70"/><path d="M301.80,378.50 H248.40 C245.65,378.50 243.40,381.65 243.40,385.50 V529.71 C243.40,532.46 245.65,534.71 248.40,534.71 H307.90"/><path d="M539.70,351.42 H311.80 C306.30,351.42 301.80,352.77 301.80,354.42 V402.57 C301.80,404.22 304.50,405.57 307.80,405.57 H365.10"/><path d="M419.40,376.41 H370.10 C367.35,376.41 365.10,377.76 365.10,379.41 V431.73 C365.10,433.38 367.35,434.73 370.10,434.73 H439.80"/><path d="M539.70,364.75 H424.40 C421.65,364.75 419.40,366.10 419.40,367.75 V385.08 C419.40,386.73 421.65,388.08 424.40,388.08 H463.80"/><path d="M539.70,378.08 H468.80 C466.05,378.08 463.80,379.43 463.80,381.08 V395.08 C463.80,396.73 466.05,398.08 468.80,398.08 H535.80"/><path d="M539.70,391.41 H536.80 C536.25,391.41 535.80,391.86 535.80,392.41 V403.74 C535.80,404.29 536.25,404.74 536.80,404.74 H539.70"/><path d="M539.70,418.07 H444.80 C442.05,418.07 439.80,419.42 439.80,421.07 V448.39 C439.80,450.04 442.05,451.39 444.80,451.39 H527.30"/><path d="M534.80,438.06 H528.80 C527.97,438.06 527.30,438.74 527.30,439.56 V463.23 C527.30,464.05 527.97,464.73 528.80,464.73 H530.50"/><path d="M539.70,431.40 H535.80 C535.25,431.40 534.80,431.85 534.80,432.40 V443.73 C534.80,444.28 535.25,444.73 535.80,444.73 H539.70"/><path d="M539.70,458.06 H532.00 C531.17,458.06 530.50,458.74 530.50,459.56 V469.89 C530.50,470.71 531.17,471.39 532.00,471.39 H539.70"/><path d="M539.70,484.72 H328.90 C317.35,484.72 307.90,486.97 307.90,489.72 V579.69 C307.90,582.44 310.60,584.69 313.90,584.69 H367.00"/><path d="M459.40,528.88 H373.00 C369.70,528.88 367.00,530.68 367.00,532.88 V636.51 C367.00,638.71 369.70,640.51 373.00,640.51 H389.30"/><path d="M469.50,508.05 H464.40 C461.65,508.05 459.40,509.40 459.40,511.05 V546.70 C459.40,548.35 461.65,549.70 464.40,549.70 H492.50"/><path d="M539.70,498.05 H474.50 C471.75,498.05 469.50,499.40 469.50,501.05 V515.05 C469.50,516.70 471.75,518.05 474.50,518.05 H496.70"/><path d="M539.70,511.38 H501.70 C498.95,511.38 496.70,512.73 496.70,514.38 V521.71 C496.70,523.36 498.95,524.71 501.70,524.71 H539.70"/><path d="M539.70,538.04 H497.50 C494.75,538.04 492.50,539.39 492.50,541.04 V558.37 C492.50,560.02 494.75,561.37 497.50,561.37 H512.00"/><path d="M539.70,551.37 H513.00 C512.45,551.37 512.00,551.82 512.00,552.37 V570.37 C512.00,570.91 512.45,571.37 513.00,571.37 H513.20"/><path d="M539.70,564.70 H514.20 C513.65,564.70 513.20,565.15 513.20,565.70 V577.03 C513.20,577.58 513.65,578.03 514.20,578.03 H539.70"/><path d="M526.80,611.36 H395.30 C392.00,611.36 389.30,613.61 389.30,616.36 V665.67 C389.30,667.87 391.55,669.67 394.30,669.67 H420.80"/><path d="M538.60,598.03 H528.30 C527.47,598.03 526.80,598.70 526.80,599.53 V623.18 C526.80,624.01 527.47,624.68 528.30,624.68 H538.60"/><path d="M539.70,591.36 H539.20 C538.87,591.36 538.60,591.63 538.60,591.96 V604.09 C538.60,604.42 538.87,604.69 539.20,604.69 H539.70"/><path d="M539.70,618.02 H539.20 C538.87,618.02 538.60,618.29 538.60,618.62 V630.75 C538.60,631.08 538.87,631.35 539.20,631.35 H539.70"/><path d="M496.60,651.35 H425.80 C423.05,651.35 420.80,653.14 420.80,655.35 V684.00 C420.80,686.20 423.05,688.00 425.80,688.00 H449.70"/><path d="M539.70,644.68 H501.60 C498.85,644.68 496.60,646.03 496.60,647.68 V655.01 C496.60,656.66 498.85,658.01 501.60,658.01 H539.70"/><path d="M539.70,671.34 H454.70 C451.95,671.34 449.70,672.69 449.70,674.34 V701.66 C449.70,703.31 451.95,704.66 454.70,704.66 H455.50"/><path d="M466.50,691.34 H456.50 C455.95,691.34 455.50,691.79 455.50,692.34 V717.00 C455.50,717.54 455.95,718.00 456.50,718.00 H470.30"/><path d="M539.70,684.67 H468.00 C467.18,684.67 466.50,685.34 466.50,686.17 V696.50 C466.50,697.33 467.18,698.00 468.00,698.00 H539.70"/><path d="M539.70,711.33 H471.80 C470.98,711.33 470.30,712.00 470.30,712.83 V723.16 C470.30,723.99 470.98,724.66 471.80,724.66 H539.70"/></g>
<g style="mix-blend-mode:multiply">
<rect x="170.3" y="27.5" width="43.8" height="436.8" fill="#EF7978"/>
<rect x="356" y="524.8" width="20.4" height="122.8" fill="#A3CF98"/>
<rect x="439.2" y="489" width="62.7" height="244.2" fill="#FAEC7B"/>
</g>
<rect x="174.00" y="36.10" width="20.50" height="5" rx="2.5" fill="url(#bg1)"/>
<rect x="141.30" y="69.20" width="145.20" height="5.0" rx="2.5" fill="url(#bg2)"/>
<rect x="129.20" y="124.90" width="90.60" height="5.0" rx="2.5" fill="url(#bg3)"/>
<rect x="146.20" y="147.10" width="99.40" height="5.0" rx="2.5" fill="url(#bg4)"/>
<rect x="133.10" y="180.10" width="92.70" height="5.0" rx="2.5" fill="url(#bg5)"/>
<rect x="148.60" y="214.10" width="87.20" height="5.0" rx="2.5" fill="url(#bg6)"/>
<rect x="162.30" y="233.10" width="79.40" height="5.0" rx="2.5" fill="url(#bg7)"/>
<rect x="171.50" y="249.50" width="74.50" height="5.0" rx="2.5" fill="url(#bg8)"/>
<rect x="125.40" y="253.10" width="70.60" height="5.0" rx="1" fill="url(#bg9)"/>
<rect x="149.40" y="378.90" width="68.60" height="4.6" rx="2.3" fill="url(#bg10)"/>
<rect x="213.60" y="453.55" width="46.20" height="4.5" rx="2.25" fill="url(#bg11)"/>
<rect x="266.20" y="376.10" width="52.80" height="4.6" rx="2.3" fill="url(#bg12)"/>
<rect x="287.30" y="531.90" width="31.70" height="4.6" rx="2.3" fill="url(#bg13)"/>
<rect x="352.00" y="582.50" width="31.70" height="4.6" rx="2.3" fill="url(#bg14)"/>
<rect x="377.70" y="638.50" width="30.10" height="4.6" rx="2.3" fill="url(#bg15)"/>
<rect x="409.30" y="668.10" width="25.60" height="4.6" rx="2.3" fill="url(#bg16)"/>
<rect x="448.40" y="526.90" width="25.60" height="4.6" rx="2.3" fill="url(#bg17)"/>
<rect x="457.40" y="506.30" width="24.00" height="4.6" fill="#1D6DB6"/>
<rect x="488.10" y="515.70" width="18.20" height="4.6" fill="#1D6DB6"/>
<rect x="483.30" y="547.90" width="18.20" height="4.6" fill="#1D6DB6"/>
<rect x="483.30" y="649.00" width="19.50" height="4.6" fill="#1D6DB6"/>
<rect x="438.20" y="685.60" width="23.00" height="4.6" fill="#1D6DB6"/>
<rect x="458.00" y="689.30" width="17.20" height="4.6" fill="#1D6DB6"/>
<rect x="460.40" y="715.30" width="19.20" height="4.6" fill="#1D6DB6"/>
<circle cx="18.0" cy="147.5" r="8.5" fill="#FBC800"/>
<text x="18.0" y="151.10" font-size="12" fill="#231F20" text-anchor="middle" stroke="#231F20" stroke-width="0.22">i</text>
<circle cx="169.2" cy="127.4" r="8.5" fill="#FBC800"/>
<text x="169.2" y="131.00" font-size="12" fill="#231F20" text-anchor="middle" stroke="#231F20" stroke-width="0.22">ii</text>
<circle cx="282.6" cy="161.3" r="8.5" fill="#FBC800"/>
<text x="282.6" y="164.90" font-size="12" fill="#231F20" text-anchor="middle" stroke="#231F20" stroke-width="0.22">iii</text>
<circle cx="465.2" cy="108.8" r="8.5" fill="#FBC800"/>
<text x="465.2" y="112.40" font-size="12" fill="#231F20" text-anchor="middle" stroke="#231F20" stroke-width="0.22">iv</text>
<circle cx="184.2" cy="38.6" r="8.0" fill="#2B2B2B" stroke="#FFFFFF" stroke-width="0.8"/>
<text x="184.20" y="42.80" font-size="11.7" fill="#FFFFFF" text-anchor="middle">1</text>
<circle cx="158.4" cy="255.6" r="7.5" fill="#2B2B2B" stroke="#FFFFFF" stroke-width="0.8"/>
<text x="158.40" y="259.80" font-size="11.7" fill="#FFFFFF" text-anchor="middle">2</text>
<circle cx="147.3" cy="103.6" r="7.9" fill="#2B2B2B" stroke="#FFFFFF" stroke-width="0.8"/>
<text x="147.30" y="107.80" font-size="11.7" fill="#FFFFFF" text-anchor="middle">3</text>
<circle cx="175.5" cy="183.3" r="7.5" fill="#2B2B2B" stroke="#FFFFFF" stroke-width="0.8"/>
<text x="175.50" y="187.50" font-size="11.7" fill="#FFFFFF" text-anchor="middle">4</text>
<circle cx="188.0" cy="216.6" r="7.5" fill="#2B2B2B" stroke="#FFFFFF" stroke-width="0.8"/>
<text x="188.00" y="220.80" font-size="11.7" fill="#FFFFFF" text-anchor="middle">5</text>
<circle cx="197.4" cy="236.0" r="7.5" fill="#2B2B2B" stroke="#FFFFFF" stroke-width="0.8"/>
<text x="197.40" y="240.20" font-size="11.7" fill="#FFFFFF" text-anchor="middle">6</text>
<circle cx="205.0" cy="252.5" r="7.5" fill="#2B2B2B" stroke="#FFFFFF" stroke-width="0.8"/>
<text x="205.00" y="256.70" font-size="11.7" fill="#FFFFFF" text-anchor="middle">7</text>
<circle cx="182.5" cy="381.3" r="7.5" fill="#2B2B2B" stroke="#FFFFFF" stroke-width="0.8"/>
<text x="182.50" y="385.50" font-size="11.7" fill="#FFFFFF" text-anchor="middle">8</text>
<circle cx="243.3" cy="455.8" r="7.5" fill="#2B2B2B" stroke="#FFFFFF" stroke-width="0.8"/>
<text x="243.30" y="460.00" font-size="11.7" fill="#FFFFFF" text-anchor="middle">9</text>
<circle cx="301.7" cy="378.3" r="7.5" fill="#2B2B2B" stroke="#FFFFFF" stroke-width="0.8"/>
<text x="301.60" y="382.50" font-size="11.7" fill="#FFFFFF" text-anchor="middle" letter-spacing="-0.8">10</text>
<circle cx="307.9" cy="534.0" r="7.5" fill="#2B2B2B" stroke="#FFFFFF" stroke-width="0.8"/>
<text x="307.80" y="538.20" font-size="11.7" fill="#FFFFFF" text-anchor="middle" letter-spacing="-0.8">11</text>
<circle cx="366.8" cy="585.0" r="7.5" fill="#2B2B2B" stroke="#FFFFFF" stroke-width="0.8"/>
<text x="366.70" y="589.20" font-size="11.7" fill="#FFFFFF" text-anchor="middle" letter-spacing="-0.8">12</text>
<circle cx="459.4" cy="529.3" r="7.5" fill="#2B2B2B" stroke="#FFFFFF" stroke-width="0.8"/>
<text x="459.30" y="533.50" font-size="11.7" fill="#FFFFFF" text-anchor="middle" letter-spacing="-0.8">13</text>
<circle cx="389.4" cy="641.0" r="7.5" fill="#2B2B2B" stroke="#FFFFFF" stroke-width="0.8"/>
<text x="389.30" y="645.20" font-size="11.7" fill="#FFFFFF" text-anchor="middle" letter-spacing="-0.8">14</text>
<circle cx="420.8" cy="670.6" r="7.5" fill="#2B2B2B" stroke="#FFFFFF" stroke-width="0.8"/>
<text x="420.70" y="674.80" font-size="11.7" fill="#FFFFFF" text-anchor="middle" letter-spacing="-0.8">15</text>
<line x1="154.3" y1="111.2" x2="160.8" y2="117.2" stroke="#231F20" stroke-width="1"/>
<path d="M163.0,119.2 L158.2,117.9 L161.0,114.9 Z" fill="#231F20"/>
<rect x="543.5" y="26.70" width="4.3" height="22.93" fill="url(#gbar)"/>
<text x="557.7" y="41.56" font-size="12" fill="#231F20" stroke="#231F20" stroke-width="0.22">Loxogrammoideae</text>
<rect x="543.5" y="53.36" width="4.3" height="76.25" fill="url(#gbar)"/>
<text x="557.7" y="94.59" font-size="12" fill="#231F20" stroke="#231F20" stroke-width="0.22">Crypsinoideae</text>
<rect x="543.5" y="133.34" width="4.3" height="49.59" fill="url(#gbar)"/>
<text x="557.7" y="164.43" font-size="12" fill="#231F20" stroke="#231F20" stroke-width="0.22">Polypodioideae</text>
<rect x="543.5" y="186.66" width="4.3" height="22.93" fill="url(#gbar)"/>
<text x="557.7" y="202.72" font-size="12" fill="#231F20" stroke="#231F20" stroke-width="0.22">Campyloneuroideae</text>
<rect x="543.5" y="213.32" width="4.3" height="9.60" fill="url(#gbar)"/>
<text x="557.7" y="222.72" font-size="12" fill="#231F20" stroke="#231F20" stroke-width="0.22">Adetogrammoideae</text>
<rect x="543.5" y="226.65" width="4.3" height="22.93" fill="url(#gbar)"/>
<text x="557.7" y="244.02" font-size="12" fill="#231F20" stroke="#231F20" stroke-width="0.22">Serpocauloideae</text>
<rect x="543.5" y="253.31" width="4.3" height="36.26" fill="url(#gbar)"/>
<text x="557.7" y="277.74" font-size="12" fill="#231F20" stroke="#231F20" stroke-width="0.22">Grammitidoideae</text>
<rect x="543.5" y="293.30" width="4.3" height="49.59" fill="url(#gbar)"/>
<text x="557.7" y="323.70" font-size="12" fill="#231F20" stroke="#231F20" stroke-width="0.22">Microsoroideae</text>
<text x="544.3" y="355.82" font-size="12" font-style="italic" fill="#231F20" stroke="#231F20" stroke-width="0.22">Pyrrosia costata</text>
<text x="544.3" y="369.15" font-size="12" font-style="italic" fill="#231F20" stroke="#231F20" stroke-width="0.22">Pyrrosia angustissima</text>
<text x="544.3" y="382.48" font-size="12" font-style="italic" fill="#231F20" stroke="#231F20" stroke-width="0.22">Pyrrosia petiolosa</text>
<text x="544.3" y="395.81" font-size="12" font-style="italic" fill="#231F20" stroke="#231F20" stroke-width="0.22">Pyrrosia heteractis</text>
<text x="544.3" y="409.14" font-size="12" font-style="italic" fill="#231F20" stroke="#231F20" stroke-width="0.22">Pyrrosia lingua</text>
<text x="544.3" y="422.47" font-size="12" font-style="italic" fill="#231F20" stroke="#231F20" stroke-width="0.22">Pyrrosia assimilis</text>
<text x="544.3" y="435.80" font-size="12" font-style="italic" fill="#231F20" stroke="#231F20" stroke-width="0.22">Pyrrosia bonii</text>
<text x="544.3" y="449.13" font-size="12" font-style="italic" fill="#231F20" stroke="#231F20" stroke-width="0.22">Pyrrosia subfurfuracea</text>
<text x="544.3" y="462.46" font-size="12" font-style="italic" fill="#231F20" stroke="#231F20" stroke-width="0.22">Pyrrosia sheareri</text>
<text x="544.3" y="475.79" font-size="12" font-style="italic" fill="#231F20" stroke="#231F20" stroke-width="0.22">Pyrrosia drakeana</text>
<text x="544.3" y="489.12" font-size="12" font-style="italic" fill="#231F20" stroke="#231F20" stroke-width="0.22">Hovenkampia schimperiana</text>
<text x="544.3" y="502.45" font-size="12" font-style="italic" fill="#4B4B98" stroke="#4B4B98" stroke-width="0.22">Platycerium andinum</text>
<text x="544.3" y="515.78" font-size="12" font-style="italic" fill="#4B4B98" stroke="#4B4B98" stroke-width="0.22">Platycerium angolense</text>
<text x="544.3" y="529.11" font-size="12" font-style="italic" fill="#4B4B98" stroke="#4B4B98" stroke-width="0.22">Platycerium stemaria</text>
<text x="544.3" y="542.44" font-size="12" font-style="italic" fill="#4B4B98" stroke="#4B4B98" stroke-width="0.22">Platycerium quadridichotomum</text>
<text x="544.3" y="555.77" font-size="12" font-style="italic" fill="#4B4B98" stroke="#4B4B98" stroke-width="0.22">Platycerium alcicorne</text>
<text x="544.3" y="569.10" font-size="12" font-style="italic" fill="#4B4B98" stroke="#4B4B98" stroke-width="0.22">Platycerium madagascariense</text>
<text x="544.3" y="582.43" font-size="12" font-style="italic" fill="#4B4B98" stroke="#4B4B98" stroke-width="0.22">Platycerium ellisii</text>
<text x="544.3" y="595.76" font-size="12" font-style="italic" fill="#4B4B98" stroke="#4B4B98" stroke-width="0.22">Platycerium willinckii</text>
<text x="544.3" y="609.09" font-size="12" font-style="italic" fill="#4B4B98" stroke="#4B4B98" stroke-width="0.22">Platycerium veitchii</text>
<text x="544.3" y="622.42" font-size="12" font-style="italic" fill="#4B4B98" stroke="#4B4B98" stroke-width="0.22">Platycerium bifurcatum</text>
<text x="544.3" y="635.75" font-size="12" font-style="italic" fill="#4B4B98" stroke="#4B4B98" stroke-width="0.22">Platycerium hillii</text>
<text x="544.3" y="649.08" font-size="12" font-style="italic" fill="#4B4B98" stroke="#4B4B98" stroke-width="0.22">Platycerium coronarium</text>
<text x="544.3" y="662.41" font-size="12" font-style="italic" fill="#4B4B98" stroke="#4B4B98" stroke-width="0.22">Platycerium ridleyi</text>
<text x="544.3" y="675.74" font-size="12" font-style="italic" fill="#4B4B98" stroke="#4B4B98" stroke-width="0.22">Platycerium wallichii</text>
<text x="544.3" y="689.07" font-size="12" font-style="italic" fill="#4B4B98" stroke="#4B4B98" stroke-width="0.22">Platycerium superbum</text>
<text x="544.3" y="702.40" font-size="12" font-style="italic" fill="#4B4B98" stroke="#4B4B98" stroke-width="0.22">Platycerium wandae</text>
<text x="544.3" y="715.73" font-size="12" font-style="italic" fill="#4B4B98" stroke="#4B4B98" stroke-width="0.22">Platycerium grande</text>
<text x="544.3" y="729.06" font-size="12" font-style="italic" fill="#4B4B98" stroke="#4B4B98" stroke-width="0.22">Platycerium holttumii</text>
<text x="13" y="13.2" font-size="14" fill="#231F20" stroke="#231F20" stroke-width="0.22">A</text>
<line x1="268" y1="455.8" x2="290.2" y2="455.8" stroke="#231F20" stroke-width="1.2"/>
<path d="M264.4,455.9 L274.6,451.5 L272.4,455.9 L274.6,460.3 Z" fill="#231F20"/>
<text x="295.8" y="460.1" font-size="12" fill="#231F20" stroke="#231F20" stroke-width="0.22">Platycerioideae</text>
<text x="384.3" y="523.9" font-size="12" fill="#231F20" stroke="#231F20" stroke-width="0.22">AA clade</text>
<text x="387.6" y="606.2" font-size="12" fill="#231F20" stroke="#231F20" stroke-width="0.22">JA clade</text>
<text x="0" y="0" font-size="12" fill="#231F20" transform="translate(380.1,680.5) rotate(29.5)" stroke="#231F20" stroke-width="0.22">MA clade</text>
<text x="270.4" y="622.6" font-size="12" font-weight="bold" font-style="italic" fill="#231F20" stroke="#231F20" stroke-width="0.22">Platycerium</text>
<line x1="343.1" y1="618.8" x2="355.5" y2="604.6" stroke="#231F20" stroke-width="1.3"/>
<path d="M360.5,597.9 L357.6,608.3 L354.6,605.0 L351.1,602.7 Z" fill="#231F20"/>
<circle cx="19.7" cy="480.2" r="8.2" fill="#2B2B2B"/>
<text x="19.70" y="484.50" font-size="12" fill="#FFFFFF" text-anchor="middle">1</text>
<text x="34" y="484.60" font-size="12" fill="#231F20" stroke="#231F20" stroke-width="0.22">54.2 Ma (55.5–52.7 Ma)</text>
<circle cx="19.7" cy="501.2" r="8.2" fill="#2B2B2B"/>
<text x="19.70" y="505.50" font-size="12" fill="#FFFFFF" text-anchor="middle">2</text>
<text x="34" y="505.60" font-size="12" fill="#231F20" stroke="#231F20" stroke-width="0.22">58.0 Ma (63.2–51.7 Ma)</text>
<circle cx="19.7" cy="522.2" r="8.2" fill="#2B2B2B"/>
<text x="19.70" y="526.50" font-size="12" fill="#FFFFFF" text-anchor="middle">3</text>
<text x="34" y="526.60" font-size="12" fill="#231F20" stroke="#231F20" stroke-width="0.22">56.4 Ma (62.7–48.4 Ma)</text>
<circle cx="19.7" cy="543.2" r="8.2" fill="#2B2B2B"/>
<text x="19.70" y="547.50" font-size="12" fill="#FFFFFF" text-anchor="middle">4</text>
<text x="34" y="547.60" font-size="12" fill="#231F20" stroke="#231F20" stroke-width="0.22">55.4 Ma (61.7–47.4 Ma)</text>
<circle cx="19.7" cy="564.2" r="8.2" fill="#2B2B2B"/>
<text x="19.70" y="568.50" font-size="12" fill="#FFFFFF" text-anchor="middle">5</text>
<text x="34" y="568.60" font-size="12" fill="#231F20" stroke="#231F20" stroke-width="0.22">53.5 Ma (59.4–46.0 Ma)</text>
<circle cx="19.7" cy="585.2" r="8.2" fill="#2B2B2B"/>
<text x="19.70" y="589.50" font-size="12" fill="#FFFFFF" text-anchor="middle">6</text>
<text x="34" y="589.60" font-size="12" fill="#231F20" stroke="#231F20" stroke-width="0.22">52.0 Ma (57.1–45.0 Ma)</text>
<circle cx="19.7" cy="606.2" r="8.2" fill="#2B2B2B"/>
<text x="19.70" y="610.50" font-size="12" fill="#FFFFFF" text-anchor="middle">7</text>
<text x="34" y="610.60" font-size="12" fill="#231F20" stroke="#231F20" stroke-width="0.22">50.9 Ma (55.9–44.3 Ma)</text>
<circle cx="19.7" cy="627.2" r="8.2" fill="#2B2B2B"/>
<text x="19.70" y="631.50" font-size="12" fill="#FFFFFF" text-anchor="middle">8</text>
<text x="34" y="631.60" font-size="12" fill="#231F20" stroke="#231F20" stroke-width="0.22">54.3 Ma (59.5–48.8 Ma)</text>
<circle cx="19.7" cy="648.2" r="8.2" fill="#2B2B2B"/>
<text x="19.70" y="652.50" font-size="12" fill="#FFFFFF" text-anchor="middle">9</text>
<text x="34" y="652.60" font-size="12" fill="#231F20" stroke="#231F20" stroke-width="0.22">45.0 Ma (49.5–42.1 Ma)</text>
<circle cx="19.7" cy="669.2" r="8.2" fill="#2B2B2B"/>
<text x="19.60" y="673.50" font-size="12" fill="#FFFFFF" text-anchor="middle" letter-spacing="-0.8">10</text>
<text x="34" y="673.60" font-size="12" fill="#231F20" stroke="#231F20" stroke-width="0.22">36.2 Ma (41.3–33.2 Ma)</text>
<circle cx="19.7" cy="690.2" r="8.2" fill="#2B2B2B"/>
<text x="19.60" y="694.50" font-size="12" fill="#FFFFFF" text-anchor="middle" letter-spacing="-0.8">11</text>
<text x="34" y="694.60" font-size="12" fill="#231F20" stroke="#231F20" stroke-width="0.22">35.2 Ma (38.4–33.1 Ma)</text>
<circle cx="19.7" cy="711.2" r="8.2" fill="#2B2B2B"/>
<text x="19.60" y="715.50" font-size="12" fill="#FFFFFF" text-anchor="middle" letter-spacing="-0.8">12</text>
<text x="34" y="715.60" font-size="12" fill="#231F20" stroke="#231F20" stroke-width="0.22">26.3 Ma (28.2–23.3 Ma)</text>
<circle cx="196.3" cy="669.2" r="8.2" fill="#2B2B2B"/>
<text x="196.20" y="673.50" font-size="12" fill="#FFFFFF" text-anchor="middle" letter-spacing="-0.8">13</text>
<text x="212" y="673.60" font-size="12" fill="#231F20" stroke="#231F20" stroke-width="0.22">12.2 Ma (13.8–9.7 Ma)</text>
<circle cx="196.3" cy="690.2" r="8.2" fill="#2B2B2B"/>
<text x="196.20" y="694.50" font-size="12" fill="#FFFFFF" text-anchor="middle" letter-spacing="-0.8">14</text>
<text x="212" y="694.60" font-size="12" fill="#231F20" stroke="#231F20" stroke-width="0.22">22.8 Ma (24.8–19.9 Ma)</text>
<circle cx="196.3" cy="711.2" r="8.2" fill="#2B2B2B"/>
<text x="196.20" y="715.50" font-size="12" fill="#FFFFFF" text-anchor="middle" letter-spacing="-0.8">15</text>
<text x="212" y="715.60" font-size="12" fill="#231F20" stroke="#231F20" stroke-width="0.22">18.0 Ma (19.7–15.4 Ma)</text>
<line x1="5.3" y1="733.2" x2="730" y2="733.2" stroke="#BDBDBD" stroke-width="1" stroke-dasharray="6.5 5.8"/>
<text x="13.2" y="763.4" font-size="14" fill="#231F20" stroke="#231F20" stroke-width="0.22">B</text>
<rect x="0" y="884.7" width="104.90" height="22.4" fill="#DCDCDC"/>
<text x="52.45" y="900.8" font-size="12" fill="#231F20" text-anchor="middle" stroke="#231F20" stroke-width="0.22">Cretaceous</text>
<rect x="104.9" y="884.7" width="65.10" height="22.4" fill="#EFEFEF"/>
<text x="137.45" y="900.8" font-size="12" fill="#231F20" text-anchor="middle" stroke="#231F20" stroke-width="0.22">Palaeocene</text>
<rect x="170.0" y="884.7" width="145.20" height="22.4" fill="#DCDCDC"/>
<text x="242.60" y="900.8" font-size="12" fill="#231F20" text-anchor="middle" stroke="#231F20" stroke-width="0.22">Eocene</text>
<rect x="315.2" y="884.7" width="71.40" height="22.4" fill="#EFEFEF"/>
<text x="350.90" y="900.8" font-size="12" fill="#231F20" text-anchor="middle" stroke="#231F20" stroke-width="0.22">Oligocene</text>
<rect x="386.6" y="884.7" width="116.40" height="22.4" fill="#DCDCDC"/>
<text x="444.80" y="900.8" font-size="12" fill="#231F20" text-anchor="middle" stroke="#231F20" stroke-width="0.22">Miocene</text>
<rect x="503.0" y="884.7" width="18.20" height="22.4" fill="#EFEFEF"/>
<text x="512.10" y="900.8" font-size="12" fill="#231F20" text-anchor="middle" stroke="#231F20" stroke-width="0.22">Pl.</text>
<rect x="521.2" y="884.7" width="16.80" height="22.4" fill="#DCDCDC"/>
<text x="529.60" y="900.8" font-size="12" fill="#231F20" text-anchor="middle" stroke="#231F20" stroke-width="0.22">Qu.</text>
<rect x="0" y="907.2" width="538.6" height="2.2" fill="#1A1A1A"/>
<rect x="536.90" y="909" width="1.6" height="2.8" fill="#1A1A1A"/>
<text x="537.70" y="925.2" font-size="11.5" fill="#231F20" text-anchor="middle" stroke="#231F20" stroke-width="0.22">0</text>
<rect x="504.08" y="909" width="1.6" height="2.8" fill="#1A1A1A"/>
<text x="504.88" y="925.2" font-size="11.5" fill="#231F20" text-anchor="middle" stroke="#231F20" stroke-width="0.22">5</text>
<rect x="471.25" y="909" width="1.6" height="2.8" fill="#1A1A1A"/>
<text x="472.05" y="925.2" font-size="11.5" fill="#231F20" text-anchor="middle" stroke="#231F20" stroke-width="0.22">10</text>
<rect x="438.43" y="909" width="1.6" height="2.8" fill="#1A1A1A"/>
<text x="439.23" y="925.2" font-size="11.5" fill="#231F20" text-anchor="middle" stroke="#231F20" stroke-width="0.22">15</text>
<rect x="405.60" y="909" width="1.6" height="2.8" fill="#1A1A1A"/>
<text x="406.40" y="925.2" font-size="11.5" fill="#231F20" text-anchor="middle" stroke="#231F20" stroke-width="0.22">20</text>
<rect x="372.78" y="909" width="1.6" height="2.8" fill="#1A1A1A"/>
<text x="373.58" y="925.2" font-size="11.5" fill="#231F20" text-anchor="middle" stroke="#231F20" stroke-width="0.22">25</text>
<rect x="339.95" y="909" width="1.6" height="2.8" fill="#1A1A1A"/>
<text x="340.75" y="925.2" font-size="11.5" fill="#231F20" text-anchor="middle" stroke="#231F20" stroke-width="0.22">30</text>
<rect x="307.13" y="909" width="1.6" height="2.8" fill="#1A1A1A"/>
<text x="307.93" y="925.2" font-size="11.5" fill="#231F20" text-anchor="middle" stroke="#231F20" stroke-width="0.22">35</text>
<rect x="274.30" y="909" width="1.6" height="2.8" fill="#1A1A1A"/>
<text x="275.10" y="925.2" font-size="11.5" fill="#231F20" text-anchor="middle" stroke="#231F20" stroke-width="0.22">40</text>
<rect x="241.48" y="909" width="1.6" height="2.8" fill="#1A1A1A"/>
<text x="242.28" y="925.2" font-size="11.5" fill="#231F20" text-anchor="middle" stroke="#231F20" stroke-width="0.22">45</text>
<rect x="208.65" y="909" width="1.6" height="2.8" fill="#1A1A1A"/>
<text x="209.45" y="925.2" font-size="11.5" fill="#231F20" text-anchor="middle" stroke="#231F20" stroke-width="0.22">50</text>
<rect x="175.82" y="909" width="1.6" height="2.8" fill="#1A1A1A"/>
<text x="176.62" y="925.2" font-size="11.5" fill="#231F20" text-anchor="middle" stroke="#231F20" stroke-width="0.22">55</text>
<rect x="143.00" y="909" width="1.6" height="2.8" fill="#1A1A1A"/>
<text x="143.80" y="925.2" font-size="11.5" fill="#231F20" text-anchor="middle" stroke="#231F20" stroke-width="0.22">60</text>
<rect x="110.18" y="909" width="1.6" height="2.8" fill="#1A1A1A"/>
<text x="110.98" y="925.2" font-size="11.5" fill="#231F20" text-anchor="middle" stroke="#231F20" stroke-width="0.22">65</text>
<rect x="77.35" y="909" width="1.6" height="2.8" fill="#1A1A1A"/>
<text x="78.15" y="925.2" font-size="11.5" fill="#231F20" text-anchor="middle" stroke="#231F20" stroke-width="0.22">70</text>
<rect x="44.52" y="909" width="1.6" height="2.8" fill="#1A1A1A"/>
<text x="45.32" y="925.2" font-size="11.5" fill="#231F20" text-anchor="middle" stroke="#231F20" stroke-width="0.22">75</text>
<rect x="11.70" y="909" width="1.6" height="2.8" fill="#1A1A1A"/>
<text x="12.50" y="925.2" font-size="11.5" fill="#231F20" text-anchor="middle" stroke="#231F20" stroke-width="0.22">80</text>
<text x="547.3" y="924.8" font-size="11.5" fill="#231F20" stroke="#231F20" stroke-width="0.22">(Ma)</text>
<line x1="569.6" y1="745.6" x2="569.6" y2="832.6" stroke="#231F20" stroke-width="1.1"/>
<line x1="569.6" y1="832.00" x2="575.3" y2="832.00" stroke="#231F20" stroke-width="1.1"/>
<text x="581.0" y="836.00" font-size="11" fill="#231F20" stroke="#231F20" stroke-width="0.22">0</text>
<line x1="569.6" y1="817.60" x2="575.3" y2="817.60" stroke="#231F20" stroke-width="1.1"/>
<text x="581.0" y="821.60" font-size="11" fill="#231F20" stroke="#231F20" stroke-width="0.22">2</text>
<line x1="569.6" y1="803.20" x2="575.3" y2="803.20" stroke="#231F20" stroke-width="1.1"/>
<text x="581.0" y="807.20" font-size="11" fill="#231F20" stroke="#231F20" stroke-width="0.22">4</text>
<line x1="569.6" y1="788.80" x2="575.3" y2="788.80" stroke="#231F20" stroke-width="1.1"/>
<text x="581.0" y="792.80" font-size="11" fill="#231F20" stroke="#231F20" stroke-width="0.22">6</text>
<line x1="569.6" y1="774.40" x2="575.3" y2="774.40" stroke="#231F20" stroke-width="1.1"/>
<text x="581.0" y="778.40" font-size="11" fill="#231F20" stroke="#231F20" stroke-width="0.22">8</text>
<line x1="569.6" y1="760.00" x2="575.3" y2="760.00" stroke="#231F20" stroke-width="1.1"/>
<text x="581.0" y="764.00" font-size="11" fill="#231F20" stroke="#231F20" stroke-width="0.22">10</text>
<text transform="translate(622.6,792.8) rotate(-90)" font-size="12" fill="#231F20" text-anchor="middle" stroke="#231F20" stroke-width="0.22">Ice-free</text>
<text transform="translate(636.3,793.0) rotate(-90)" font-size="12" fill="#231F20" text-anchor="middle" stroke="#231F20" stroke-width="0.22">temperature (°C)</text>
<polygon points="316.0,803.5 317.3,806.4 318.6,806.6 319.9,805.0 321.2,803.9 322.5,802.8 323.8,802.4 325.1,800.7 326.4,801.1 327.7,800.6 329.0,800.9 330.3,801.5 331.6,802.3 332.9,804.8 334.2,805.5 335.5,804.8 336.8,803.0 338.1,800.4 339.4,800.1 340.7,797.7 342.0,798.5 343.3,801.0 344.6,801.7 345.9,804.1 347.2,804.7 348.5,805.0 349.8,803.6 351.1,802.9 352.4,803.7 353.7,806.3 355.0,807.6 356.3,806.2 357.6,804.6 358.9,803.8 360.2,801.4 361.5,798.9 362.8,798.3 364.1,796.9 365.4,795.5 366.7,794.3 368.0,794.2 369.3,793.5 370.6,793.2 371.9,793.1 373.2,791.8 374.5,792.1 375.8,792.0 377.1,791.9 378.4,793.3 379.7,795.7 381.0,795.3 382.3,797.3 383.6,800.2 384.9,800.6 386.2,799.9 387.5,799.6 388.8,797.2 390.1,796.0 391.4,795.0 392.7,794.3 394.0,795.2 395.3,796.6 396.6,798.4 397.9,798.5 399.2,798.1 400.5,796.9 401.8,796.5 403.1,796.9 404.4,799.3 405.7,799.9 407.0,801.4 408.3,803.6 409.6,803.2 410.9,802.2 412.2,802.5 413.5,803.2 414.8,801.3 416.1,802.3 417.4,802.5 418.7,802.6 420.0,803.5 421.3,802.4 422.6,800.8 423.9,798.1 425.2,794.3 426.5,792.2 427.8,793.4 429.1,794.5 430.4,794.4 431.7,793.8 433.0,791.5 434.3,790.2 435.6,790.6 436.9,790.6 438.2,790.8 439.5,789.4 440.8,789.9 442.1,793.8 443.4,797.3 444.7,799.9 446.0,801.5 447.3,804.1 448.6,804.8 449.9,804.6 451.2,805.9 452.5,808.1 453.8,807.8 455.1,809.4 456.4,809.0 457.7,811.5 459.0,810.8 460.3,813.3 461.6,812.4 462.9,812.4 464.2,814.5 465.5,814.0 466.8,814.2 468.1,815.4 469.4,814.8 470.7,815.5 472.0,816.2 473.3,816.6 474.6,817.7 475.9,818.8 477.2,819.1 478.5,820.2 479.8,821.1 481.1,820.8 482.4,819.5 483.7,819.4 485.0,820.1 486.3,818.7 487.6,818.6 488.9,817.0 490.2,817.6 491.5,819.2 492.8,819.4 494.1,820.6 495.4,820.6 496.7,820.9 498.0,820.7 499.3,820.7 500.6,821.1 501.9,821.5 503.2,822.2 504.5,824.4 505.8,824.4 507.1,824.5 508.4,824.8 509.7,826.4 511.0,825.4 512.3,827.1 513.6,828.3 514.9,827.8 516.2,828.9 517.5,832.2 518.8,833.3 520.1,836.7 521.4,837.4 522.7,839.6 524.0,840.4 525.3,839.9 526.6,840.3 527.9,838.3 529.2,839.0 530.5,837.8 531.8,838.3 533.1,839.3 534.4,838.7 535.7,838.6 537.0,836.5 537.0,876.3 535.7,873.7 534.4,873.4 533.1,870.3 531.8,869.5 530.5,866.4 529.2,866.0 527.9,864.8 526.6,862.6 525.3,861.0 524.0,860.0 522.7,857.8 521.4,857.2 520.1,855.6 518.8,852.4 517.5,849.8 516.2,846.3 514.9,845.8 513.6,844.4 512.3,841.3 511.0,841.1 509.7,841.1 508.4,840.2 507.1,838.9 505.8,838.9 504.5,837.1 503.2,837.4 501.9,834.8 500.6,836.5 499.3,837.0 498.0,836.6 496.7,837.3 495.4,836.1 494.1,834.9 492.8,834.4 491.5,832.8 490.2,831.3 488.9,831.0 487.6,831.3 486.3,830.5 485.0,830.4 483.7,829.9 482.4,830.2 481.1,828.6 479.8,827.9 478.5,828.3 477.2,828.4 475.9,827.6 474.6,826.0 473.3,826.1 472.0,824.3 470.7,823.9 469.4,822.5 468.1,821.9 466.8,823.0 465.5,822.9 464.2,822.1 462.9,820.6 461.6,821.4 460.3,821.4 459.0,820.9 457.7,820.0 456.4,817.8 455.1,817.0 453.8,817.7 452.5,815.7 451.2,815.6 449.9,814.6 448.6,813.0 447.3,812.6 446.0,811.4 444.7,809.6 443.4,806.6 442.1,805.1 440.8,801.4 439.5,800.5 438.2,800.1 436.9,800.7 435.6,798.9 434.3,800.5 433.0,801.9 431.7,803.7 430.4,806.2 429.1,806.5 427.8,806.4 426.5,806.6 425.2,807.3 423.9,810.8 422.6,813.2 421.3,813.6 420.0,814.4 418.7,815.2 417.4,813.4 416.1,813.8 414.8,815.7 413.5,814.6 412.2,815.2 410.9,815.2 409.6,816.4 408.3,817.5 407.0,815.4 405.7,815.5 404.4,814.8 403.1,815.9 401.8,814.1 400.5,812.5 399.2,811.0 397.9,810.0 396.6,808.8 395.3,810.2 394.0,810.1 392.7,811.2 391.4,812.3 390.1,812.3 388.8,814.9 387.5,816.6 386.2,817.8 384.9,819.0 383.6,817.0 382.3,815.3 381.0,812.6 379.7,810.3 378.4,809.5 377.1,806.4 375.8,805.4 374.5,805.0 373.2,803.8 371.9,804.3 370.6,802.7 369.3,805.0 368.0,805.1 366.7,807.2 365.4,809.0 364.1,809.6 362.8,812.6 361.5,813.6 360.2,815.1 358.9,817.3 357.6,818.0 356.3,820.0 355.0,820.8 353.7,820.0 352.4,818.9 351.1,817.3 349.8,818.1 348.5,817.0 347.2,817.6 345.9,818.6 344.6,816.9 343.3,815.9 342.0,814.0 340.7,814.2 339.4,814.9 338.1,815.4 336.8,816.1 335.5,817.7 334.2,819.1 332.9,817.9 331.6,813.7 330.3,811.2 329.0,810.1 327.7,812.0 326.4,814.3 325.1,814.0 323.8,816.1 322.5,815.6 321.2,817.3 319.9,818.4 318.6,819.4 317.3,820.7 316.0,819.5" fill="#505958"/>
<path fill="#4A5352" opacity="0.5" d="M104.0 766.6h1.4v1.4h-1.4zM104.9 768.4h1.4v1.4h-1.4zM104.2 764.0h1.4v1.4h-1.4zM105.8 763.0h1.4v1.4h-1.4zM106.5 759.4h1.4v1.4h-1.4zM107.2 762.3h1.4v1.4h-1.4zM107.9 771.0h1.4v1.4h-1.4zM107.2 764.0h1.4v1.4h-1.4zM107.5 774.1h1.3v1.3h-1.3zM108.2 760.6h1.4v1.4h-1.4zM109.0 761.4h1.4v1.4h-1.4zM109.8 764.7h1.4v1.4h-1.4zM109.4 761.4h1.4v1.4h-1.4zM109.7 763.5h1.4v1.4h-1.4zM111.9 767.4h1.4v1.4h-1.4zM111.0 769.0h1.4v1.4h-1.4zM111.5 774.8h1.3v1.3h-1.3zM112.0 764.6h1.4v1.4h-1.4zM112.5 767.5h1.4v1.4h-1.4zM113.8 762.2h1.4v1.4h-1.4zM113.2 766.2h1.4v1.4h-1.4zM113.0 767.9h1.4v1.4h-1.4zM114.6 769.1h1.4v1.4h-1.4zM114.5 766.8h1.4v1.4h-1.4zM116.0 770.0h1.4v1.4h-1.4zM116.0 772.2h1.4v1.4h-1.4zM117.2 773.0h1.4v1.4h-1.4zM118.0 769.6h1.4v1.4h-1.4zM118.2 771.3h1.4v1.4h-1.4zM119.1 765.1h1.4v1.4h-1.4zM119.4 774.1h1.4v1.4h-1.4zM120.6 764.1h1.4v1.4h-1.4zM121.0 771.0h1.4v1.4h-1.4zM120.9 771.5h1.4v1.4h-1.4zM122.2 771.5h1.4v1.4h-1.4zM123.1 762.3h1.4v1.4h-1.4zM122.5 760.5h1.3v1.3h-1.3zM123.4 766.4h1.4v1.4h-1.4zM125.4 765.4h1.4v1.4h-1.4zM125.5 768.1h1.4v1.4h-1.4zM126.5 755.3h1.3v1.3h-1.3zM127.3 765.6h1.4v1.4h-1.4zM127.3 770.2h1.4v1.4h-1.4zM128.3 763.0h1.4v1.4h-1.4zM129.1 764.9h1.4v1.4h-1.4zM128.5 770.7h1.3v1.3h-1.3zM128.9 763.1h1.4v1.4h-1.4zM129.1 763.5h1.4v1.4h-1.4zM130.9 764.2h1.4v1.4h-1.4zM132.0 763.9h1.4v1.4h-1.4zM132.2 769.1h1.4v1.4h-1.4zM132.5 771.4h1.3v1.3h-1.3zM135.1 766.4h1.4v1.4h-1.4zM134.5 754.6h1.3v1.3h-1.3zM135.3 763.2h1.4v1.4h-1.4zM135.9 761.3h1.4v1.4h-1.4zM135.7 765.8h1.4v1.4h-1.4zM135.5 770.0h1.3v1.3h-1.3zM137.0 761.9h1.4v1.4h-1.4zM137.7 765.0h1.4v1.4h-1.4zM138.1 764.2h1.4v1.4h-1.4zM138.0 762.1h1.4v1.4h-1.4zM138.5 766.4h1.4v1.4h-1.4zM138.5 756.8h1.3v1.3h-1.3zM140.0 764.3h1.4v1.4h-1.4zM139.9 766.4h1.4v1.4h-1.4zM140.1 769.1h1.4v1.4h-1.4zM140.5 760.7h1.3v1.3h-1.3zM141.3 767.9h1.4v1.4h-1.4zM142.0 767.1h1.4v1.4h-1.4zM142.3 770.6h1.4v1.4h-1.4zM143.9 772.1h1.4v1.4h-1.4zM144.9 773.8h1.4v1.4h-1.4zM144.2 769.6h1.4v1.4h-1.4zM146.0 768.1h1.4v1.4h-1.4zM146.8 771.3h1.4v1.4h-1.4zM147.0 771.7h1.4v1.4h-1.4zM148.5 772.7h1.4v1.4h-1.4zM148.7 768.5h1.4v1.4h-1.4zM149.6 772.0h1.4v1.4h-1.4zM149.1 774.3h1.4v1.4h-1.4zM149.1 774.2h1.4v1.4h-1.4zM150.2 777.9h1.4v1.4h-1.4zM150.4 771.3h1.4v1.4h-1.4zM150.5 768.3h1.3v1.3h-1.3zM151.1 776.3h1.4v1.4h-1.4zM152.1 770.9h1.4v1.4h-1.4zM152.2 777.7h1.4v1.4h-1.4zM154.0 773.2h1.4v1.4h-1.4zM153.1 769.2h1.4v1.4h-1.4zM153.5 778.4h1.3v1.3h-1.3zM155.0 771.9h1.4v1.4h-1.4zM155.1 771.0h1.4v1.4h-1.4zM154.9 774.2h1.4v1.4h-1.4zM155.5 776.4h1.3v1.3h-1.3zM156.1 769.9h1.4v1.4h-1.4zM156.5 760.9h1.3v1.3h-1.3zM157.6 771.2h1.4v1.4h-1.4zM158.2 769.9h1.4v1.4h-1.4zM159.1 768.3h1.4v1.4h-1.4zM160.0 764.3h1.4v1.4h-1.4zM159.9 767.2h1.4v1.4h-1.4zM160.6 765.7h1.4v1.4h-1.4zM161.6 768.2h1.4v1.4h-1.4zM163.7 765.9h1.4v1.4h-1.4zM163.0 762.2h1.4v1.4h-1.4zM164.8 759.5h1.4v1.4h-1.4zM165.7 767.5h1.4v1.4h-1.4zM166.0 763.0h1.4v1.4h-1.4zM166.9 758.2h1.4v1.4h-1.4zM166.5 755.8h1.3v1.3h-1.3zM167.5 766.3h1.4v1.4h-1.4zM167.5 752.8h1.3v1.3h-1.3zM168.6 762.8h1.4v1.4h-1.4zM169.5 766.1h1.4v1.4h-1.4zM169.8 759.0h1.4v1.4h-1.4zM170.2 757.6h1.4v1.4h-1.4zM171.6 757.3h1.4v1.4h-1.4zM172.0 757.8h1.4v1.4h-1.4zM171.5 750.1h1.3v1.3h-1.3zM172.1 753.7h1.4v1.4h-1.4zM172.8 755.5h1.4v1.4h-1.4zM173.7 756.5h1.4v1.4h-1.4zM173.2 755.8h1.4v1.4h-1.4zM173.5 757.2h1.4v1.4h-1.4zM175.1 757.0h1.4v1.4h-1.4zM176.8 754.7h1.4v1.4h-1.4zM176.2 752.2h1.4v1.4h-1.4zM178.1 753.4h1.4v1.4h-1.4zM177.3 751.8h1.4v1.4h-1.4zM177.5 762.9h1.3v1.3h-1.3zM178.1 753.5h1.4v1.4h-1.4zM179.0 751.2h1.4v1.4h-1.4zM178.9 754.6h1.4v1.4h-1.4zM180.0 754.7h1.4v1.4h-1.4zM179.4 757.5h1.4v1.4h-1.4zM180.0 752.1h1.4v1.4h-1.4zM180.8 753.9h1.4v1.4h-1.4zM181.7 754.8h1.4v1.4h-1.4zM182.0 755.2h1.4v1.4h-1.4zM182.5 753.9h1.4v1.4h-1.4zM184.1 752.3h1.4v1.4h-1.4zM183.4 752.1h1.4v1.4h-1.4zM183.6 753.1h1.4v1.4h-1.4zM184.8 752.2h1.4v1.4h-1.4zM184.3 755.6h1.4v1.4h-1.4zM185.6 754.8h1.4v1.4h-1.4zM185.5 743.9h1.3v1.3h-1.3zM186.9 750.6h1.4v1.4h-1.4zM186.3 750.0h1.4v1.4h-1.4zM186.5 749.3h1.4v1.4h-1.4zM186.5 739.7h1.3v1.3h-1.3zM188.7 752.0h1.4v1.4h-1.4zM189.6 748.3h1.4v1.4h-1.4zM189.5 751.5h1.4v1.4h-1.4zM189.5 738.6h1.3v1.3h-1.3zM190.2 744.5h1.4v1.4h-1.4zM190.4 746.6h1.4v1.4h-1.4zM190.5 753.3h1.4v1.4h-1.4zM191.4 753.6h1.4v1.4h-1.4zM191.3 748.5h1.4v1.4h-1.4zM192.2 746.4h1.4v1.4h-1.4zM192.4 748.7h1.4v1.4h-1.4zM192.3 745.3h1.4v1.4h-1.4zM193.5 744.8h1.4v1.4h-1.4zM193.9 750.5h1.4v1.4h-1.4zM194.2 746.9h1.4v1.4h-1.4zM194.3 745.6h1.4v1.4h-1.4zM194.5 752.6h1.3v1.3h-1.3zM195.1 744.0h1.4v1.4h-1.4zM196.1 747.6h1.4v1.4h-1.4zM196.9 746.4h1.4v1.4h-1.4zM196.5 751.7h1.3v1.3h-1.3zM198.1 742.6h1.4v1.4h-1.4zM198.1 744.7h1.4v1.4h-1.4zM199.7 744.6h1.4v1.4h-1.4zM199.5 751.9h1.3v1.3h-1.3zM200.0 743.8h1.4v1.4h-1.4zM200.1 746.5h1.4v1.4h-1.4zM201.5 753.3h1.3v1.3h-1.3zM201.9 745.3h1.4v1.4h-1.4zM203.0 748.4h1.4v1.4h-1.4zM202.5 754.9h1.3v1.3h-1.3zM203.9 747.8h1.4v1.4h-1.4zM204.5 753.1h1.3v1.3h-1.3zM205.1 749.3h1.4v1.4h-1.4zM207.0 745.4h1.4v1.4h-1.4zM206.1 748.2h1.4v1.4h-1.4zM206.8 746.8h1.4v1.4h-1.4zM207.9 747.5h1.4v1.4h-1.4zM209.1 745.7h1.4v1.4h-1.4zM208.5 756.9h1.3v1.3h-1.3zM209.4 751.1h1.4v1.4h-1.4zM212.9 749.4h1.4v1.4h-1.4zM214.7 753.1h1.4v1.4h-1.4zM214.7 751.5h1.4v1.4h-1.4zM214.0 752.8h1.4v1.4h-1.4zM215.5 756.4h1.4v1.4h-1.4zM215.0 751.7h1.4v1.4h-1.4zM214.9 752.0h1.4v1.4h-1.4zM216.3 752.9h1.4v1.4h-1.4zM216.6 748.2h1.4v1.4h-1.4zM216.5 760.6h1.3v1.3h-1.3zM217.6 756.0h1.4v1.4h-1.4zM217.6 749.8h1.4v1.4h-1.4zM218.0 751.5h1.4v1.4h-1.4zM217.5 761.9h1.3v1.3h-1.3zM218.2 756.1h1.4v1.4h-1.4zM219.1 755.6h1.4v1.4h-1.4zM220.4 756.0h1.4v1.4h-1.4zM220.4 754.5h1.4v1.4h-1.4zM221.5 756.7h1.4v1.4h-1.4zM221.8 760.7h1.4v1.4h-1.4zM222.4 757.2h1.4v1.4h-1.4zM222.2 760.9h1.4v1.4h-1.4zM224.7 760.2h1.4v1.4h-1.4zM225.0 762.2h1.4v1.4h-1.4zM224.5 751.2h1.3v1.3h-1.3zM226.6 761.0h1.4v1.4h-1.4zM226.8 762.3h1.4v1.4h-1.4zM227.4 765.2h1.4v1.4h-1.4zM227.7 761.8h1.4v1.4h-1.4zM229.1 760.5h1.4v1.4h-1.4zM228.5 771.4h1.3v1.3h-1.3zM229.7 763.0h1.4v1.4h-1.4zM229.4 762.8h1.4v1.4h-1.4zM230.4 764.6h1.4v1.4h-1.4zM230.5 772.3h1.3v1.3h-1.3zM231.0 763.2h1.4v1.4h-1.4zM231.6 770.0h1.4v1.4h-1.4zM232.2 770.1h1.4v1.4h-1.4zM233.3 770.8h1.4v1.4h-1.4zM233.2 767.5h1.4v1.4h-1.4zM233.9 767.0h1.4v1.4h-1.4zM233.5 759.8h1.3v1.3h-1.3zM234.7 770.9h1.4v1.4h-1.4zM234.5 770.8h1.4v1.4h-1.4zM234.7 771.8h1.4v1.4h-1.4zM234.5 759.4h1.3v1.3h-1.3zM235.3 767.2h1.4v1.4h-1.4zM236.4 769.2h1.4v1.4h-1.4zM236.3 769.8h1.4v1.4h-1.4zM237.7 772.9h1.4v1.4h-1.4zM237.5 778.8h1.3v1.3h-1.3zM238.5 779.6h1.3v1.3h-1.3zM239.6 769.2h1.4v1.4h-1.4zM239.9 774.9h1.4v1.4h-1.4zM239.8 774.2h1.4v1.4h-1.4zM240.3 767.4h1.4v1.4h-1.4zM240.5 776.3h1.4v1.4h-1.4zM241.6 774.6h1.4v1.4h-1.4zM241.9 775.7h1.4v1.4h-1.4zM241.5 779.1h1.3v1.3h-1.3zM242.7 770.2h1.4v1.4h-1.4zM242.0 775.8h1.4v1.4h-1.4zM242.2 770.0h1.4v1.4h-1.4zM243.3 773.1h1.4v1.4h-1.4zM242.9 773.1h1.4v1.4h-1.4zM244.3 771.6h1.4v1.4h-1.4zM245.1 776.2h1.4v1.4h-1.4zM244.0 777.8h1.4v1.4h-1.4zM244.2 776.7h1.4v1.4h-1.4zM245.9 777.6h1.4v1.4h-1.4zM245.6 773.0h1.4v1.4h-1.4zM245.6 777.4h1.4v1.4h-1.4zM245.5 775.6h1.4v1.4h-1.4zM245.2 773.6h1.4v1.4h-1.4zM245.3 774.9h1.4v1.4h-1.4zM245.9 772.5h1.4v1.4h-1.4zM246.5 774.8h1.4v1.4h-1.4zM245.7 777.2h1.4v1.4h-1.4zM246.4 770.6h1.4v1.4h-1.4zM246.8 773.4h1.4v1.4h-1.4zM247.4 773.4h1.4v1.4h-1.4zM247.5 774.3h1.4v1.4h-1.4zM247.5 775.4h1.4v1.4h-1.4zM248.2 773.9h1.4v1.4h-1.4zM248.2 774.5h1.4v1.4h-1.4zM248.1 775.7h1.4v1.4h-1.4zM248.3 770.1h1.4v1.4h-1.4zM247.9 770.8h1.4v1.4h-1.4zM247.1 779.7h1.4v1.4h-1.4zM247.1 774.0h1.4v1.4h-1.4zM247.6 773.5h1.4v1.4h-1.4zM248.2 773.7h1.4v1.4h-1.4zM247.7 774.9h1.4v1.4h-1.4zM247.7 774.3h1.4v1.4h-1.4zM249.0 777.4h1.4v1.4h-1.4zM249.1 772.7h1.4v1.4h-1.4zM248.1 776.6h1.4v1.4h-1.4zM248.3 775.0h1.4v1.4h-1.4zM248.7 779.3h1.4v1.4h-1.4zM249.1 779.5h1.4v1.4h-1.4zM249.0 771.3h1.4v1.4h-1.4zM249.3 776.4h1.4v1.4h-1.4zM248.7 773.9h1.4v1.4h-1.4zM249.9 775.9h1.4v1.4h-1.4zM249.8 776.1h1.4v1.4h-1.4zM250.6 775.7h1.4v1.4h-1.4zM250.2 781.0h1.4v1.4h-1.4zM250.0 771.2h1.4v1.4h-1.4zM250.4 777.9h1.4v1.4h-1.4zM250.2 775.5h1.4v1.4h-1.4zM250.8 776.1h1.4v1.4h-1.4zM250.8 776.7h1.4v1.4h-1.4zM250.5 777.0h1.4v1.4h-1.4zM251.0 777.0h1.4v1.4h-1.4zM251.2 776.3h1.4v1.4h-1.4zM251.7 780.2h1.4v1.4h-1.4zM251.3 777.0h1.4v1.4h-1.4zM251.2 774.4h1.4v1.4h-1.4zM251.6 771.9h1.4v1.4h-1.4zM251.5 777.0h1.4v1.4h-1.4zM251.2 776.2h1.4v1.4h-1.4zM252.0 773.3h1.4v1.4h-1.4zM251.8 776.3h1.4v1.4h-1.4zM251.9 778.5h1.4v1.4h-1.4zM252.1 779.3h1.4v1.4h-1.4zM252.5 774.6h1.4v1.4h-1.4zM252.2 774.3h1.4v1.4h-1.4zM253.1 775.8h1.4v1.4h-1.4zM252.2 778.7h1.4v1.4h-1.4zM252.2 778.6h1.4v1.4h-1.4zM252.6 775.1h1.4v1.4h-1.4zM252.9 778.8h1.4v1.4h-1.4zM252.0 772.9h1.4v1.4h-1.4zM253.4 776.1h1.4v1.4h-1.4zM253.1 776.0h1.4v1.4h-1.4zM253.1 774.2h1.4v1.4h-1.4zM253.5 773.9h1.4v1.4h-1.4zM253.8 777.2h1.4v1.4h-1.4zM254.5 775.6h1.4v1.4h-1.4zM253.7 775.6h1.4v1.4h-1.4zM253.6 776.6h1.4v1.4h-1.4zM255.2 782.4h1.4v1.4h-1.4zM255.0 775.9h1.4v1.4h-1.4zM255.2 776.9h1.4v1.4h-1.4zM254.9 774.5h1.4v1.4h-1.4zM254.7 777.1h1.4v1.4h-1.4zM254.8 774.3h1.4v1.4h-1.4zM254.8 777.6h1.4v1.4h-1.4zM256.3 777.6h1.4v1.4h-1.4zM256.2 782.0h1.4v1.4h-1.4zM255.8 770.9h1.4v1.4h-1.4zM256.1 781.4h1.4v1.4h-1.4zM255.8 778.7h1.4v1.4h-1.4zM255.8 775.4h1.4v1.4h-1.4zM256.8 774.6h1.4v1.4h-1.4zM256.2 778.7h1.4v1.4h-1.4zM256.6 784.5h1.4v1.4h-1.4zM257.0 776.7h1.4v1.4h-1.4zM256.7 775.2h1.4v1.4h-1.4zM256.3 782.7h1.4v1.4h-1.4zM256.4 781.3h1.4v1.4h-1.4zM256.0 780.0h1.4v1.4h-1.4zM257.7 774.6h1.4v1.4h-1.4zM257.5 780.9h1.4v1.4h-1.4zM257.1 771.8h1.4v1.4h-1.4zM257.0 775.4h1.4v1.4h-1.4zM257.6 774.7h1.4v1.4h-1.4zM256.7 781.0h1.4v1.4h-1.4zM257.8 772.4h1.4v1.4h-1.4zM256.9 779.5h1.4v1.4h-1.4zM257.6 781.3h1.4v1.4h-1.4zM257.9 782.3h1.4v1.4h-1.4zM258.6 772.7h1.4v1.4h-1.4zM258.7 776.1h1.4v1.4h-1.4zM257.5 776.7h1.4v1.4h-1.4zM258.0 777.1h1.4v1.4h-1.4zM258.0 774.3h1.4v1.4h-1.4zM258.4 776.2h1.4v1.4h-1.4zM258.4 783.6h1.4v1.4h-1.4zM259.5 778.0h1.4v1.4h-1.4zM258.7 775.5h1.4v1.4h-1.4zM258.8 771.1h1.4v1.4h-1.4zM259.5 777.1h1.4v1.4h-1.4zM258.7 780.8h1.4v1.4h-1.4zM258.6 777.0h1.4v1.4h-1.4zM258.6 782.0h1.4v1.4h-1.4zM258.6 778.0h1.4v1.4h-1.4zM259.0 772.8h1.4v1.4h-1.4zM260.1 770.5h1.4v1.4h-1.4zM259.8 780.7h1.4v1.4h-1.4zM260.1 776.8h1.4v1.4h-1.4zM260.0 775.4h1.4v1.4h-1.4zM259.4 779.4h1.4v1.4h-1.4zM260.1 775.8h1.4v1.4h-1.4zM259.7 776.2h1.4v1.4h-1.4zM259.2 779.7h1.4v1.4h-1.4zM259.5 775.6h1.4v1.4h-1.4zM259.7 778.7h1.4v1.4h-1.4zM259.5 778.5h1.4v1.4h-1.4zM259.9 782.8h1.4v1.4h-1.4zM260.5 774.3h1.4v1.4h-1.4zM261.0 777.3h1.4v1.4h-1.4zM260.8 780.4h1.4v1.4h-1.4zM260.7 776.2h1.4v1.4h-1.4zM260.2 781.2h1.4v1.4h-1.4zM260.1 780.6h1.4v1.4h-1.4zM260.4 776.9h1.4v1.4h-1.4zM260.3 779.4h1.4v1.4h-1.4zM260.6 778.7h1.4v1.4h-1.4zM261.0 773.7h1.4v1.4h-1.4zM260.0 785.7h1.4v1.4h-1.4zM260.5 782.2h1.4v1.4h-1.4zM261.1 784.3h1.4v1.4h-1.4zM260.2 777.2h1.4v1.4h-1.4zM261.0 781.6h1.4v1.4h-1.4zM261.5 776.3h1.4v1.4h-1.4zM261.8 779.3h1.4v1.4h-1.4zM261.0 779.0h1.4v1.4h-1.4zM260.8 778.4h1.4v1.4h-1.4zM261.0 777.7h1.4v1.4h-1.4zM261.6 774.0h1.4v1.4h-1.4zM261.8 770.8h1.4v1.4h-1.4zM260.9 770.9h1.4v1.4h-1.4zM261.9 770.7h1.4v1.4h-1.4zM262.7 776.2h1.4v1.4h-1.4zM262.2 776.3h1.4v1.4h-1.4zM262.6 781.2h1.4v1.4h-1.4zM262.6 787.2h1.4v1.4h-1.4zM261.9 775.0h1.4v1.4h-1.4zM262.8 774.4h1.4v1.4h-1.4zM262.4 771.9h1.4v1.4h-1.4zM262.8 782.4h1.4v1.4h-1.4zM262.8 783.7h1.4v1.4h-1.4zM262.7 777.9h1.4v1.4h-1.4zM262.7 778.6h1.4v1.4h-1.4zM262.6 779.8h1.4v1.4h-1.4zM262.6 778.7h1.4v1.4h-1.4zM263.4 778.6h1.4v1.4h-1.4zM262.7 775.7h1.4v1.4h-1.4zM263.3 780.3h1.4v1.4h-1.4zM263.2 774.2h1.4v1.4h-1.4zM263.9 781.6h1.4v1.4h-1.4zM264.2 777.5h1.4v1.4h-1.4zM263.1 779.3h1.4v1.4h-1.4zM264.0 783.0h1.4v1.4h-1.4zM264.0 783.8h1.4v1.4h-1.4zM264.6 783.0h1.4v1.4h-1.4zM263.9 776.2h1.4v1.4h-1.4zM264.0 778.2h1.4v1.4h-1.4zM264.1 785.1h1.4v1.4h-1.4zM264.9 777.6h1.4v1.4h-1.4zM264.4 779.5h1.4v1.4h-1.4zM264.2 780.3h1.4v1.4h-1.4zM264.2 775.2h1.4v1.4h-1.4zM264.5 782.9h1.4v1.4h-1.4zM264.5 779.3h1.4v1.4h-1.4zM265.8 782.9h1.4v1.4h-1.4zM265.1 781.9h1.4v1.4h-1.4zM264.9 779.6h1.4v1.4h-1.4zM265.7 781.2h1.4v1.4h-1.4zM264.7 778.8h1.4v1.4h-1.4zM264.8 786.6h1.4v1.4h-1.4zM264.8 783.5h1.4v1.4h-1.4zM265.7 776.0h1.4v1.4h-1.4zM264.7 784.3h1.4v1.4h-1.4zM264.9 778.0h1.4v1.4h-1.4zM265.8 776.6h1.4v1.4h-1.4zM266.1 779.3h1.4v1.4h-1.4zM265.7 785.4h1.4v1.4h-1.4zM266.3 777.4h1.4v1.4h-1.4zM266.6 782.7h1.4v1.4h-1.4zM265.7 781.6h1.4v1.4h-1.4zM265.7 783.8h1.4v1.4h-1.4zM266.1 784.6h1.4v1.4h-1.4zM266.3 781.8h1.4v1.4h-1.4zM266.7 781.0h1.4v1.4h-1.4zM266.6 778.7h1.4v1.4h-1.4zM265.8 779.5h1.4v1.4h-1.4zM266.7 777.6h1.4v1.4h-1.4zM267.3 777.9h1.4v1.4h-1.4zM267.4 779.6h1.4v1.4h-1.4zM267.4 781.3h1.4v1.4h-1.4zM266.7 778.7h1.4v1.4h-1.4zM267.3 781.7h1.4v1.4h-1.4zM266.8 783.4h1.4v1.4h-1.4zM267.5 780.1h1.4v1.4h-1.4zM268.2 777.2h1.4v1.4h-1.4zM267.8 778.3h1.4v1.4h-1.4zM267.3 776.6h1.4v1.4h-1.4zM268.2 782.0h1.4v1.4h-1.4zM267.2 782.3h1.4v1.4h-1.4zM268.6 779.1h1.4v1.4h-1.4zM268.2 781.7h1.4v1.4h-1.4zM269.1 781.2h1.4v1.4h-1.4zM269.1 780.2h1.4v1.4h-1.4zM269.0 781.0h1.4v1.4h-1.4zM268.7 784.7h1.4v1.4h-1.4zM268.1 777.1h1.4v1.4h-1.4zM269.8 782.1h1.4v1.4h-1.4zM269.8 778.8h1.4v1.4h-1.4zM269.5 781.0h1.4v1.4h-1.4zM268.9 782.2h1.4v1.4h-1.4zM269.8 777.6h1.4v1.4h-1.4zM269.8 777.4h1.4v1.4h-1.4zM270.2 783.5h1.4v1.4h-1.4zM271.0 778.6h1.4v1.4h-1.4zM270.1 781.6h1.4v1.4h-1.4zM270.4 777.8h1.4v1.4h-1.4zM271.0 776.2h1.4v1.4h-1.4zM270.9 781.4h1.4v1.4h-1.4zM271.9 780.1h1.4v1.4h-1.4zM272.1 778.8h1.4v1.4h-1.4zM272.2 783.9h1.4v1.4h-1.4zM272.7 778.2h1.4v1.4h-1.4zM274.3 780.8h1.4v1.4h-1.4zM274.3 777.7h1.4v1.4h-1.4zM274.3 781.0h1.4v1.4h-1.4zM274.1 783.1h1.4v1.4h-1.4zM275.9 781.7h1.4v1.4h-1.4zM275.2 780.9h1.4v1.4h-1.4zM276.3 782.1h1.4v1.4h-1.4zM276.3 781.6h1.4v1.4h-1.4zM276.9 781.3h1.4v1.4h-1.4zM276.9 785.1h1.4v1.4h-1.4zM277.4 780.5h1.4v1.4h-1.4zM278.1 782.3h1.4v1.4h-1.4zM277.6 781.8h1.4v1.4h-1.4zM278.0 784.3h1.4v1.4h-1.4zM279.7 781.5h1.4v1.4h-1.4zM280.1 779.1h1.4v1.4h-1.4zM280.4 783.5h1.4v1.4h-1.4zM280.0 784.5h1.4v1.4h-1.4zM280.7 782.8h1.4v1.4h-1.4zM281.0 782.3h1.4v1.4h-1.4zM281.2 786.8h1.4v1.4h-1.4zM281.5 783.6h1.4v1.4h-1.4zM282.0 784.4h1.4v1.4h-1.4zM284.1 789.3h1.4v1.4h-1.4zM285.1 783.6h1.4v1.4h-1.4zM285.7 788.2h1.4v1.4h-1.4zM285.1 787.2h1.4v1.4h-1.4zM285.5 785.9h1.4v1.4h-1.4zM286.1 786.3h1.4v1.4h-1.4zM286.6 785.9h1.4v1.4h-1.4zM286.2 783.7h1.4v1.4h-1.4zM287.5 788.1h1.4v1.4h-1.4zM288.5 792.0h1.4v1.4h-1.4zM289.0 785.1h1.4v1.4h-1.4zM288.7 786.0h1.4v1.4h-1.4zM289.2 789.5h1.4v1.4h-1.4zM289.9 787.6h1.4v1.4h-1.4zM289.3 787.2h1.4v1.4h-1.4zM289.8 789.5h1.4v1.4h-1.4zM289.2 787.5h1.4v1.4h-1.4zM290.9 786.5h1.4v1.4h-1.4zM290.8 790.6h1.4v1.4h-1.4zM291.9 787.2h1.4v1.4h-1.4zM291.9 789.5h1.4v1.4h-1.4zM292.5 791.0h1.4v1.4h-1.4zM292.2 791.5h1.4v1.4h-1.4zM293.6 790.4h1.4v1.4h-1.4zM293.6 788.1h1.4v1.4h-1.4zM294.1 791.7h1.4v1.4h-1.4zM294.7 787.2h1.4v1.4h-1.4zM295.0 793.0h1.4v1.4h-1.4zM295.7 791.4h1.4v1.4h-1.4zM295.4 792.0h1.4v1.4h-1.4zM295.4 790.8h1.4v1.4h-1.4zM297.1 794.0h1.4v1.4h-1.4zM297.6 790.3h1.4v1.4h-1.4zM298.0 792.6h1.4v1.4h-1.4zM297.7 790.2h1.4v1.4h-1.4zM297.4 797.3h1.4v1.4h-1.4zM298.1 792.0h1.4v1.4h-1.4zM298.0 794.5h1.4v1.4h-1.4zM298.6 796.3h1.4v1.4h-1.4zM298.4 793.2h1.4v1.4h-1.4zM298.2 794.4h1.4v1.4h-1.4zM299.5 792.2h1.4v1.4h-1.4zM300.8 793.9h1.4v1.4h-1.4zM300.6 797.9h1.4v1.4h-1.4zM301.0 797.8h1.4v1.4h-1.4zM301.0 795.8h1.4v1.4h-1.4zM301.9 790.4h1.4v1.4h-1.4zM302.0 794.3h1.4v1.4h-1.4zM301.9 792.8h1.4v1.4h-1.4zM301.9 795.4h1.4v1.4h-1.4zM302.1 796.3h1.4v1.4h-1.4zM302.3 795.4h1.4v1.4h-1.4zM302.1 796.5h1.4v1.4h-1.4zM302.1 792.4h1.4v1.4h-1.4zM302.4 792.6h1.4v1.4h-1.4zM302.4 796.5h1.4v1.4h-1.4zM302.0 794.7h1.4v1.4h-1.4zM303.4 795.1h1.4v1.4h-1.4zM303.4 798.2h1.4v1.4h-1.4zM303.5 794.5h1.4v1.4h-1.4zM303.8 795.5h1.4v1.4h-1.4zM303.3 798.8h1.4v1.4h-1.4zM304.0 795.8h1.4v1.4h-1.4zM304.7 797.1h1.4v1.4h-1.4zM304.6 798.2h1.4v1.4h-1.4zM304.5 795.7h1.4v1.4h-1.4zM304.1 795.3h1.4v1.4h-1.4zM304.5 791.7h1.4v1.4h-1.4zM304.1 794.0h1.4v1.4h-1.4zM305.7 797.2h1.4v1.4h-1.4zM305.6 795.7h1.4v1.4h-1.4zM305.5 795.9h1.4v1.4h-1.4zM305.7 795.9h1.4v1.4h-1.4zM306.5 797.0h1.4v1.4h-1.4zM307.0 792.0h1.4v1.4h-1.4zM306.8 794.7h1.4v1.4h-1.4zM306.3 792.2h1.4v1.4h-1.4zM308.0 796.6h1.4v1.4h-1.4zM307.8 797.5h1.4v1.4h-1.4zM307.9 794.5h1.4v1.4h-1.4zM307.5 793.3h1.4v1.4h-1.4zM307.6 799.8h1.4v1.4h-1.4zM307.9 797.9h1.4v1.4h-1.4zM308.9 794.4h1.4v1.4h-1.4zM308.3 795.0h1.4v1.4h-1.4zM308.5 797.5h1.4v1.4h-1.4zM308.9 797.2h1.4v1.4h-1.4zM308.8 793.5h1.4v1.4h-1.4zM308.9 794.3h1.4v1.4h-1.4zM308.2 799.5h1.4v1.4h-1.4zM309.5 796.5h1.4v1.4h-1.4zM309.0 793.0h1.4v1.4h-1.4zM309.3 795.2h1.4v1.4h-1.4zM309.7 794.9h1.4v1.4h-1.4zM309.0 794.5h1.4v1.4h-1.4zM309.3 795.1h1.4v1.4h-1.4zM310.8 798.3h1.4v1.4h-1.4zM311.0 797.4h1.4v1.4h-1.4zM310.5 797.8h1.4v1.4h-1.4zM310.1 792.3h1.4v1.4h-1.4zM311.3 798.0h1.4v1.4h-1.4zM311.2 793.5h1.4v1.4h-1.4zM311.0 801.4h1.4v1.4h-1.4zM311.9 794.1h1.4v1.4h-1.4zM311.4 800.4h1.4v1.4h-1.4zM311.2 797.5h1.4v1.4h-1.4zM311.8 796.1h1.4v1.4h-1.4zM312.1 797.8h1.4v1.4h-1.4zM312.3 796.8h1.4v1.4h-1.4zM312.7 799.1h1.4v1.4h-1.4zM312.3 796.5h1.4v1.4h-1.4zM312.0 797.1h1.4v1.4h-1.4zM313.3 797.2h1.4v1.4h-1.4zM314.1 793.1h1.4v1.4h-1.4zM313.5 799.3h1.4v1.4h-1.4zM313.9 799.1h1.4v1.4h-1.4zM312.9 798.5h1.4v1.4h-1.4zM313.4 803.8h1.4v1.4h-1.4zM313.9 802.8h1.4v1.4h-1.4zM314.0 801.2h1.4v1.4h-1.4zM314.6 801.3h1.4v1.4h-1.4zM314.5 796.2h1.4v1.4h-1.4zM314.4 795.9h1.4v1.4h-1.4zM314.2 805.4h1.4v1.4h-1.4zM314.2 797.3h1.4v1.4h-1.4zM314.5 799.0h1.4v1.4h-1.4zM314.5 804.4h1.4v1.4h-1.4zM314.9 799.7h1.4v1.4h-1.4zM315.6 807.2h1.4v1.4h-1.4zM315.3 810.0h1.4v1.4h-1.4zM315.2 810.5h1.4v1.4h-1.4zM315.9 807.1h1.4v1.4h-1.4zM315.3 799.9h1.4v1.4h-1.4zM315.3 803.6h1.4v1.4h-1.4zM315.1 809.7h1.4v1.4h-1.4zM315.1 812.9h1.4v1.4h-1.4zM316.5 823.5h1.4v1.4h-1.4zM316.1 815.8h1.4v1.4h-1.4zM316.5 814.3h1.4v1.4h-1.4zM317.1 808.6h1.4v1.4h-1.4zM316.7 821.4h1.4v1.4h-1.4zM316.5 814.1h1.4v1.4h-1.4zM316.7 808.7h1.4v1.4h-1.4zM316.3 815.6h1.4v1.4h-1.4zM318.2 812.5h1.4v1.4h-1.4zM318.2 814.7h1.4v1.4h-1.4zM318.0 820.8h1.4v1.4h-1.4zM318.3 810.8h1.4v1.4h-1.4zM318.3 814.1h1.4v1.4h-1.4zM318.2 820.2h1.4v1.4h-1.4zM317.5 817.4h1.4v1.4h-1.4zM319.4 813.2h1.4v1.4h-1.4zM319.0 814.4h1.4v1.4h-1.4zM318.5 808.0h1.4v1.4h-1.4zM318.5 810.1h1.4v1.4h-1.4zM319.6 817.6h1.4v1.4h-1.4zM320.0 816.5h1.4v1.4h-1.4zM320.3 804.6h1.4v1.4h-1.4zM320.2 805.9h1.4v1.4h-1.4zM320.8 808.4h1.4v1.4h-1.4zM320.5 808.1h1.4v1.4h-1.4zM320.4 803.8h1.4v1.4h-1.4zM321.6 813.1h1.4v1.4h-1.4zM321.6 805.5h1.4v1.4h-1.4zM321.6 809.8h1.4v1.4h-1.4zM321.7 810.3h1.4v1.4h-1.4zM321.9 813.0h1.4v1.4h-1.4zM322.2 811.1h1.4v1.4h-1.4zM322.5 807.6h1.4v1.4h-1.4zM322.6 808.9h1.4v1.4h-1.4zM324.1 805.8h1.4v1.4h-1.4zM323.9 812.9h1.4v1.4h-1.4zM324.1 809.9h1.4v1.4h-1.4zM324.4 812.7h1.4v1.4h-1.4zM324.9 806.2h1.4v1.4h-1.4zM324.0 810.6h1.4v1.4h-1.4zM324.1 808.7h1.4v1.4h-1.4zM325.2 815.3h1.4v1.4h-1.4zM325.6 803.9h1.4v1.4h-1.4zM325.9 808.8h1.4v1.4h-1.4zM326.0 804.0h1.4v1.4h-1.4zM325.0 808.5h1.4v1.4h-1.4zM325.4 810.2h1.4v1.4h-1.4zM325.9 801.6h1.4v1.4h-1.4zM326.4 803.2h1.4v1.4h-1.4zM326.6 810.1h1.4v1.4h-1.4zM326.4 799.9h1.4v1.4h-1.4zM326.9 813.9h1.4v1.4h-1.4zM326.9 808.7h1.4v1.4h-1.4zM328.7 810.1h1.4v1.4h-1.4zM327.9 808.1h1.4v1.4h-1.4zM327.7 808.6h1.4v1.4h-1.4zM328.7 801.5h1.4v1.4h-1.4zM329.0 805.2h1.4v1.4h-1.4zM329.2 812.3h1.4v1.4h-1.4zM330.5 806.3h1.4v1.4h-1.4zM330.9 809.7h1.4v1.4h-1.4zM330.3 807.4h1.4v1.4h-1.4zM332.5 815.3h1.4v1.4h-1.4zM332.1 814.1h1.4v1.4h-1.4zM332.1 811.8h1.4v1.4h-1.4zM332.3 806.4h1.4v1.4h-1.4zM332.2 809.8h1.4v1.4h-1.4zM331.9 808.1h1.4v1.4h-1.4zM334.0 806.3h1.4v1.4h-1.4zM333.8 811.7h1.4v1.4h-1.4zM333.2 809.0h1.4v1.4h-1.4zM334.4 813.3h1.4v1.4h-1.4zM334.2 815.1h1.4v1.4h-1.4zM334.7 811.1h1.4v1.4h-1.4zM335.1 815.5h1.4v1.4h-1.4zM335.5 814.5h1.4v1.4h-1.4zM336.0 808.7h1.4v1.4h-1.4zM336.5 805.4h1.4v1.4h-1.4zM336.4 807.6h1.4v1.4h-1.4zM337.7 810.3h1.4v1.4h-1.4zM336.8 813.9h1.4v1.4h-1.4zM337.9 812.8h1.4v1.4h-1.4zM336.7 818.0h1.4v1.4h-1.4zM337.2 810.1h1.4v1.4h-1.4zM338.1 813.6h1.4v1.4h-1.4zM338.4 801.2h1.4v1.4h-1.4zM338.0 806.6h1.4v1.4h-1.4zM339.0 807.0h1.4v1.4h-1.4zM340.1 804.5h1.4v1.4h-1.4zM340.4 805.2h1.4v1.4h-1.4zM339.5 808.4h1.4v1.4h-1.4zM340.8 806.5h1.4v1.4h-1.4zM341.7 798.8h1.4v1.4h-1.4zM341.7 805.5h1.4v1.4h-1.4zM340.8 811.8h1.4v1.4h-1.4zM342.2 805.6h1.4v1.4h-1.4zM342.1 809.4h1.4v1.4h-1.4zM341.9 810.8h1.4v1.4h-1.4zM342.8 798.1h1.4v1.4h-1.4zM342.7 800.7h1.4v1.4h-1.4zM343.0 807.2h1.4v1.4h-1.4zM342.3 805.2h1.4v1.4h-1.4zM343.8 804.2h1.4v1.4h-1.4zM344.2 808.7h1.4v1.4h-1.4zM345.5 803.2h1.4v1.4h-1.4zM346.2 812.3h1.4v1.4h-1.4zM346.1 813.1h1.4v1.4h-1.4zM345.8 813.1h1.4v1.4h-1.4zM346.2 821.5h1.4v1.4h-1.4zM346.6 808.4h1.4v1.4h-1.4zM348.2 814.5h1.4v1.4h-1.4zM347.9 802.0h1.4v1.4h-1.4zM347.4 808.9h1.4v1.4h-1.4zM348.1 811.6h1.4v1.4h-1.4zM348.8 809.2h1.4v1.4h-1.4zM348.8 802.4h1.4v1.4h-1.4zM349.5 804.6h1.4v1.4h-1.4zM350.7 809.9h1.4v1.4h-1.4zM350.0 818.1h1.4v1.4h-1.4zM350.4 808.3h1.4v1.4h-1.4zM350.5 815.8h1.4v1.4h-1.4zM352.2 813.0h1.4v1.4h-1.4zM352.0 809.7h1.4v1.4h-1.4zM352.0 814.5h1.4v1.4h-1.4zM351.4 811.2h1.4v1.4h-1.4zM351.9 814.3h1.4v1.4h-1.4zM351.7 810.4h1.4v1.4h-1.4zM351.1 816.7h1.4v1.4h-1.4zM351.6 807.1h1.4v1.4h-1.4zM352.4 812.1h1.4v1.4h-1.4zM352.7 821.0h1.4v1.4h-1.4zM353.3 811.9h1.4v1.4h-1.4zM353.4 803.2h1.4v1.4h-1.4zM352.5 809.5h1.4v1.4h-1.4zM353.0 818.4h1.4v1.4h-1.4zM354.5 814.5h1.4v1.4h-1.4zM354.3 807.5h1.4v1.4h-1.4zM353.7 815.8h1.4v1.4h-1.4zM354.7 807.3h1.4v1.4h-1.4zM354.6 817.5h1.4v1.4h-1.4zM353.9 804.6h1.4v1.4h-1.4zM355.9 813.7h1.4v1.4h-1.4zM355.7 816.4h1.4v1.4h-1.4zM357.3 808.9h1.4v1.4h-1.4zM356.6 809.1h1.4v1.4h-1.4zM357.4 811.5h1.4v1.4h-1.4zM356.5 815.9h1.4v1.4h-1.4zM356.9 812.0h1.4v1.4h-1.4zM356.4 820.7h1.4v1.4h-1.4zM357.3 812.1h1.4v1.4h-1.4zM358.2 810.6h1.4v1.4h-1.4zM358.3 813.5h1.4v1.4h-1.4zM358.2 814.4h1.4v1.4h-1.4zM358.4 814.4h1.4v1.4h-1.4zM359.3 808.9h1.4v1.4h-1.4zM359.9 809.1h1.4v1.4h-1.4zM359.2 808.7h1.4v1.4h-1.4zM359.0 811.4h1.4v1.4h-1.4zM360.8 810.2h1.4v1.4h-1.4zM361.1 810.4h1.4v1.4h-1.4zM360.7 808.6h1.4v1.4h-1.4zM361.6 815.5h1.4v1.4h-1.4zM361.5 811.6h1.4v1.4h-1.4zM362.0 800.2h1.4v1.4h-1.4zM362.2 810.0h1.4v1.4h-1.4zM362.4 806.5h1.4v1.4h-1.4zM362.9 805.1h1.4v1.4h-1.4zM364.5 798.4h1.4v1.4h-1.4zM364.1 806.2h1.4v1.4h-1.4zM364.9 806.7h1.4v1.4h-1.4zM364.8 796.1h1.4v1.4h-1.4zM366.2 808.6h1.4v1.4h-1.4zM365.8 807.5h1.4v1.4h-1.4zM366.2 803.3h1.4v1.4h-1.4zM365.5 798.9h1.4v1.4h-1.4zM367.1 805.9h1.4v1.4h-1.4zM366.8 797.3h1.4v1.4h-1.4zM366.7 797.0h1.4v1.4h-1.4zM367.4 806.8h1.4v1.4h-1.4zM367.5 799.7h1.4v1.4h-1.4zM368.4 806.0h1.4v1.4h-1.4zM370.3 798.7h1.4v1.4h-1.4zM369.5 803.2h1.4v1.4h-1.4zM369.6 798.8h1.4v1.4h-1.4zM370.1 799.6h1.4v1.4h-1.4zM371.5 806.0h1.4v1.4h-1.4zM370.9 803.3h1.4v1.4h-1.4zM370.7 794.7h1.4v1.4h-1.4zM370.7 792.9h1.4v1.4h-1.4zM371.0 803.7h1.4v1.4h-1.4zM371.4 798.7h1.4v1.4h-1.4zM370.8 801.6h1.4v1.4h-1.4zM372.6 797.7h1.4v1.4h-1.4zM372.1 793.6h1.4v1.4h-1.4zM371.9 798.0h1.4v1.4h-1.4zM372.2 804.8h1.4v1.4h-1.4zM373.9 798.9h1.4v1.4h-1.4zM373.7 796.1h1.4v1.4h-1.4zM374.3 794.4h1.4v1.4h-1.4zM373.2 803.1h1.4v1.4h-1.4zM375.3 793.9h1.4v1.4h-1.4zM374.4 797.5h1.4v1.4h-1.4zM374.8 797.7h1.4v1.4h-1.4zM375.8 798.7h1.4v1.4h-1.4zM376.1 795.8h1.4v1.4h-1.4zM376.8 794.7h1.4v1.4h-1.4zM376.8 801.6h1.4v1.4h-1.4zM377.5 792.5h1.4v1.4h-1.4zM378.1 790.2h1.4v1.4h-1.4zM377.1 791.3h1.4v1.4h-1.4zM379.5 795.3h1.4v1.4h-1.4zM379.0 797.6h1.4v1.4h-1.4zM378.9 797.6h1.4v1.4h-1.4zM379.1 802.1h1.4v1.4h-1.4zM379.0 794.8h1.4v1.4h-1.4zM378.3 805.6h1.4v1.4h-1.4zM378.4 802.5h1.4v1.4h-1.4zM379.2 802.0h1.4v1.4h-1.4zM378.7 802.1h1.4v1.4h-1.4zM379.7 807.6h1.4v1.4h-1.4zM380.6 798.4h1.4v1.4h-1.4zM380.0 811.5h1.4v1.4h-1.4zM380.5 796.6h1.4v1.4h-1.4zM380.4 801.4h1.4v1.4h-1.4zM380.5 803.0h1.4v1.4h-1.4zM381.2 804.1h1.4v1.4h-1.4zM381.3 809.0h1.4v1.4h-1.4zM381.3 803.9h1.4v1.4h-1.4zM381.5 810.8h1.4v1.4h-1.4zM380.9 804.1h1.4v1.4h-1.4zM381.6 802.6h1.4v1.4h-1.4zM383.2 807.7h1.4v1.4h-1.4zM382.3 802.5h1.4v1.4h-1.4zM382.8 805.5h1.4v1.4h-1.4zM382.8 807.3h1.4v1.4h-1.4zM383.1 799.8h1.4v1.4h-1.4zM383.0 799.0h1.4v1.4h-1.4zM383.1 808.5h1.4v1.4h-1.4zM382.4 812.7h1.4v1.4h-1.4zM383.3 810.4h1.4v1.4h-1.4zM382.7 808.0h1.4v1.4h-1.4zM383.8 807.4h1.4v1.4h-1.4zM384.0 821.1h1.4v1.4h-1.4zM384.6 819.5h1.4v1.4h-1.4zM385.4 810.9h1.4v1.4h-1.4zM385.3 813.3h1.4v1.4h-1.4zM385.6 813.0h1.4v1.4h-1.4zM385.7 807.3h1.4v1.4h-1.4zM386.4 809.2h1.4v1.4h-1.4zM386.7 801.0h1.4v1.4h-1.4zM386.3 806.8h1.4v1.4h-1.4zM386.2 810.2h1.4v1.4h-1.4zM386.7 810.2h1.4v1.4h-1.4zM387.6 807.2h1.4v1.4h-1.4zM388.0 808.0h1.4v1.4h-1.4zM387.7 805.0h1.4v1.4h-1.4zM388.1 801.0h1.4v1.4h-1.4zM387.7 809.7h1.4v1.4h-1.4zM387.9 815.4h1.4v1.4h-1.4zM388.2 809.4h1.4v1.4h-1.4zM387.7 810.3h1.4v1.4h-1.4zM389.2 794.5h1.4v1.4h-1.4zM389.6 811.8h1.4v1.4h-1.4zM389.2 810.3h1.4v1.4h-1.4zM389.6 800.9h1.4v1.4h-1.4zM389.2 809.2h1.4v1.4h-1.4zM389.4 808.9h1.4v1.4h-1.4zM389.5 804.4h1.4v1.4h-1.4zM391.1 805.7h1.4v1.4h-1.4zM390.0 802.2h1.4v1.4h-1.4zM390.3 804.5h1.4v1.4h-1.4zM390.5 812.5h1.4v1.4h-1.4zM390.7 813.9h1.4v1.4h-1.4zM391.8 801.9h1.4v1.4h-1.4zM392.2 793.3h1.4v1.4h-1.4zM392.2 808.9h1.4v1.4h-1.4zM391.6 794.2h1.4v1.4h-1.4zM391.5 799.7h1.4v1.4h-1.4zM393.5 808.5h1.4v1.4h-1.4zM392.9 803.8h1.4v1.4h-1.4zM392.9 795.1h1.4v1.4h-1.4zM392.8 804.2h1.4v1.4h-1.4zM392.9 804.8h1.4v1.4h-1.4zM394.0 808.8h1.4v1.4h-1.4zM394.0 805.7h1.4v1.4h-1.4zM396.4 803.5h1.4v1.4h-1.4zM396.3 802.7h1.4v1.4h-1.4zM397.5 802.0h1.4v1.4h-1.4zM397.2 802.2h1.4v1.4h-1.4zM397.6 800.9h1.4v1.4h-1.4zM398.7 806.7h1.4v1.4h-1.4zM398.2 812.8h1.4v1.4h-1.4zM398.4 799.7h1.4v1.4h-1.4zM398.4 808.1h1.4v1.4h-1.4zM399.9 812.4h1.4v1.4h-1.4zM399.7 804.2h1.4v1.4h-1.4zM399.7 802.6h1.4v1.4h-1.4zM399.4 805.9h1.4v1.4h-1.4zM399.6 807.3h1.4v1.4h-1.4zM400.7 810.5h1.4v1.4h-1.4zM401.1 812.0h1.4v1.4h-1.4zM400.8 807.2h1.4v1.4h-1.4zM401.2 800.8h1.4v1.4h-1.4zM402.1 816.2h1.4v1.4h-1.4zM402.7 803.6h1.4v1.4h-1.4zM402.5 808.5h1.4v1.4h-1.4zM402.7 795.1h1.4v1.4h-1.4zM403.5 811.8h1.4v1.4h-1.4zM404.0 805.4h1.4v1.4h-1.4zM403.8 813.4h1.4v1.4h-1.4zM403.9 799.3h1.4v1.4h-1.4zM405.3 807.0h1.4v1.4h-1.4zM404.7 798.3h1.4v1.4h-1.4zM404.6 802.3h1.4v1.4h-1.4zM405.2 806.5h1.4v1.4h-1.4zM404.5 804.9h1.4v1.4h-1.4zM404.5 809.4h1.4v1.4h-1.4zM405.1 810.8h1.4v1.4h-1.4zM405.2 808.0h1.4v1.4h-1.4zM405.1 818.3h1.4v1.4h-1.4zM406.1 805.9h1.4v1.4h-1.4zM405.6 804.0h1.4v1.4h-1.4zM406.4 817.1h1.4v1.4h-1.4zM406.4 808.0h1.4v1.4h-1.4zM405.9 805.1h1.4v1.4h-1.4zM405.9 810.0h1.4v1.4h-1.4zM407.8 803.3h1.4v1.4h-1.4zM407.5 807.5h1.4v1.4h-1.4zM407.7 803.8h1.4v1.4h-1.4zM408.5 806.0h1.4v1.4h-1.4zM409.3 805.5h1.4v1.4h-1.4zM408.7 806.7h1.4v1.4h-1.4zM408.5 813.2h1.4v1.4h-1.4zM409.2 809.0h1.4v1.4h-1.4zM408.4 815.9h1.4v1.4h-1.4zM408.6 809.9h1.4v1.4h-1.4zM408.9 805.4h1.4v1.4h-1.4zM409.3 809.7h1.4v1.4h-1.4zM409.9 809.6h1.4v1.4h-1.4zM410.7 805.0h1.4v1.4h-1.4zM410.4 815.3h1.4v1.4h-1.4zM410.3 809.3h1.4v1.4h-1.4zM409.9 815.3h1.4v1.4h-1.4zM410.2 813.6h1.4v1.4h-1.4zM411.1 802.1h1.4v1.4h-1.4zM411.4 805.4h1.4v1.4h-1.4zM411.6 811.1h1.4v1.4h-1.4zM411.6 814.3h1.4v1.4h-1.4zM411.4 810.6h1.4v1.4h-1.4zM411.2 811.0h1.4v1.4h-1.4zM412.3 814.9h1.4v1.4h-1.4zM412.8 809.3h1.4v1.4h-1.4zM413.7 807.2h1.4v1.4h-1.4zM414.2 809.8h1.4v1.4h-1.4zM415.7 809.9h1.4v1.4h-1.4zM415.6 802.8h1.4v1.4h-1.4zM414.8 806.5h1.4v1.4h-1.4zM415.2 807.9h1.4v1.4h-1.4zM415.1 804.0h1.4v1.4h-1.4zM416.3 808.2h1.4v1.4h-1.4zM417.1 816.3h1.4v1.4h-1.4zM416.1 810.5h1.4v1.4h-1.4zM417.1 803.5h1.4v1.4h-1.4zM418.2 810.7h1.4v1.4h-1.4zM418.5 806.5h1.4v1.4h-1.4zM418.4 807.0h1.4v1.4h-1.4zM417.9 806.5h1.4v1.4h-1.4zM417.9 811.2h1.4v1.4h-1.4zM418.1 806.3h1.4v1.4h-1.4zM419.2 804.0h1.4v1.4h-1.4zM419.3 805.4h1.4v1.4h-1.4zM418.7 809.1h1.4v1.4h-1.4zM419.6 812.2h1.4v1.4h-1.4zM419.7 806.6h1.4v1.4h-1.4zM418.9 809.6h1.4v1.4h-1.4zM419.8 810.4h1.4v1.4h-1.4zM418.8 805.5h1.4v1.4h-1.4zM420.1 802.9h1.4v1.4h-1.4zM421.0 803.7h1.4v1.4h-1.4zM421.3 807.8h1.4v1.4h-1.4zM421.9 806.2h1.4v1.4h-1.4zM421.8 810.9h1.4v1.4h-1.4zM421.6 814.5h1.4v1.4h-1.4zM421.8 809.0h1.4v1.4h-1.4zM422.6 803.3h1.4v1.4h-1.4zM423.6 806.7h1.4v1.4h-1.4zM423.7 808.1h1.4v1.4h-1.4zM424.9 806.7h1.4v1.4h-1.4zM424.7 802.3h1.4v1.4h-1.4zM423.9 804.8h1.4v1.4h-1.4zM424.5 807.7h1.4v1.4h-1.4zM425.6 800.4h1.4v1.4h-1.4zM426.3 804.9h1.4v1.4h-1.4zM425.3 803.0h1.4v1.4h-1.4zM426.0 800.7h1.4v1.4h-1.4zM425.8 794.1h1.4v1.4h-1.4zM425.7 793.4h1.4v1.4h-1.4zM426.8 806.9h1.4v1.4h-1.4zM427.3 799.2h1.4v1.4h-1.4zM426.7 796.1h1.4v1.4h-1.4zM427.9 799.2h1.4v1.4h-1.4zM428.6 797.0h1.4v1.4h-1.4zM428.5 804.7h1.4v1.4h-1.4zM428.0 800.3h1.4v1.4h-1.4zM427.7 796.2h1.4v1.4h-1.4zM427.7 802.1h1.4v1.4h-1.4zM429.1 797.2h1.4v1.4h-1.4zM430.0 799.3h1.4v1.4h-1.4zM429.7 804.8h1.4v1.4h-1.4zM429.3 801.9h1.4v1.4h-1.4zM429.1 797.6h1.4v1.4h-1.4zM429.9 799.1h1.4v1.4h-1.4zM430.6 799.4h1.4v1.4h-1.4zM431.4 800.9h1.4v1.4h-1.4zM431.6 801.2h1.4v1.4h-1.4zM432.3 793.6h1.4v1.4h-1.4zM431.7 804.3h1.4v1.4h-1.4zM432.6 796.6h1.4v1.4h-1.4zM433.7 791.5h1.4v1.4h-1.4zM433.6 794.0h1.4v1.4h-1.4zM434.8 788.3h1.4v1.4h-1.4zM434.5 793.6h1.4v1.4h-1.4zM434.4 793.0h1.4v1.4h-1.4zM436.1 791.8h1.4v1.4h-1.4zM436.6 795.2h1.4v1.4h-1.4zM435.7 792.4h1.4v1.4h-1.4zM435.7 788.5h1.4v1.4h-1.4zM437.8 792.7h1.4v1.4h-1.4zM437.4 802.3h1.4v1.4h-1.4zM437.7 794.7h1.4v1.4h-1.4zM437.4 792.5h1.4v1.4h-1.4zM438.6 796.4h1.4v1.4h-1.4zM438.6 797.5h1.4v1.4h-1.4zM438.4 797.3h1.4v1.4h-1.4zM440.0 793.5h1.4v1.4h-1.4zM439.8 797.2h1.4v1.4h-1.4zM440.4 798.1h1.4v1.4h-1.4zM441.6 796.2h1.4v1.4h-1.4zM440.8 798.6h1.4v1.4h-1.4zM440.9 792.0h1.4v1.4h-1.4zM441.1 796.9h1.4v1.4h-1.4zM441.3 798.3h1.4v1.4h-1.4zM442.4 805.4h1.4v1.4h-1.4zM443.0 799.9h1.4v1.4h-1.4zM442.8 801.1h1.4v1.4h-1.4zM442.3 805.7h1.4v1.4h-1.4zM442.5 798.5h1.4v1.4h-1.4zM443.1 798.8h1.4v1.4h-1.4zM442.6 803.5h1.4v1.4h-1.4zM442.4 805.0h1.4v1.4h-1.4zM444.1 803.7h1.4v1.4h-1.4zM444.5 805.6h1.4v1.4h-1.4zM444.2 809.3h1.4v1.4h-1.4zM444.3 800.3h1.4v1.4h-1.4zM443.7 802.9h1.4v1.4h-1.4zM445.1 804.1h1.4v1.4h-1.4zM445.8 803.1h1.4v1.4h-1.4zM444.8 810.2h1.4v1.4h-1.4zM445.2 804.9h1.4v1.4h-1.4zM445.6 804.8h1.4v1.4h-1.4zM446.4 806.1h1.4v1.4h-1.4zM447.0 806.4h1.4v1.4h-1.4zM446.0 807.0h1.4v1.4h-1.4zM446.8 811.6h1.4v1.4h-1.4zM447.5 807.9h1.4v1.4h-1.4zM447.8 809.2h1.4v1.4h-1.4zM448.6 813.3h1.4v1.4h-1.4zM449.5 806.4h1.4v1.4h-1.4zM449.2 809.3h1.4v1.4h-1.4zM449.7 812.6h1.4v1.4h-1.4zM449.0 807.1h1.4v1.4h-1.4zM450.7 808.9h1.4v1.4h-1.4zM449.9 809.3h1.4v1.4h-1.4zM450.4 813.6h1.4v1.4h-1.4zM452.0 812.4h1.4v1.4h-1.4zM452.1 806.0h1.4v1.4h-1.4zM453.2 810.5h1.4v1.4h-1.4zM453.0 815.5h1.4v1.4h-1.4zM452.5 809.3h1.4v1.4h-1.4zM452.6 811.3h1.4v1.4h-1.4zM454.8 810.9h1.4v1.4h-1.4zM454.7 809.7h1.4v1.4h-1.4zM454.7 809.2h1.4v1.4h-1.4zM454.6 808.4h1.4v1.4h-1.4zM454.7 812.5h1.4v1.4h-1.4zM455.2 810.7h1.4v1.4h-1.4zM455.2 811.7h1.4v1.4h-1.4zM455.9 812.6h1.4v1.4h-1.4zM457.0 814.8h1.4v1.4h-1.4zM456.7 815.1h1.4v1.4h-1.4zM456.5 811.4h1.4v1.4h-1.4zM456.8 816.4h1.4v1.4h-1.4zM458.7 815.6h1.4v1.4h-1.4zM458.3 814.8h1.4v1.4h-1.4zM458.6 814.5h1.4v1.4h-1.4zM459.8 818.6h1.4v1.4h-1.4zM459.7 814.6h1.4v1.4h-1.4zM459.7 815.5h1.4v1.4h-1.4zM459.5 814.6h1.4v1.4h-1.4zM459.6 812.7h1.4v1.4h-1.4zM459.7 813.5h1.4v1.4h-1.4zM461.1 816.7h1.4v1.4h-1.4zM460.6 816.6h1.4v1.4h-1.4zM461.4 817.8h1.4v1.4h-1.4zM462.4 815.0h1.4v1.4h-1.4zM462.3 816.5h1.4v1.4h-1.4zM462.4 816.8h1.4v1.4h-1.4zM462.4 818.6h1.4v1.4h-1.4zM463.9 817.0h1.4v1.4h-1.4zM463.5 814.6h1.4v1.4h-1.4zM464.3 818.0h1.4v1.4h-1.4zM464.8 821.2h1.4v1.4h-1.4zM466.2 821.7h1.4v1.4h-1.4zM465.8 820.6h1.4v1.4h-1.4zM466.5 820.4h1.4v1.4h-1.4zM465.8 813.1h1.4v1.4h-1.4zM467.3 818.9h1.4v1.4h-1.4zM466.9 821.2h1.4v1.4h-1.4zM466.8 819.6h1.4v1.4h-1.4zM466.8 821.0h1.4v1.4h-1.4zM468.5 822.3h1.4v1.4h-1.4zM468.8 819.1h1.4v1.4h-1.4zM468.8 818.5h1.4v1.4h-1.4zM468.9 817.0h1.4v1.4h-1.4zM470.2 818.0h1.4v1.4h-1.4zM470.5 822.0h1.4v1.4h-1.4zM469.8 824.4h1.4v1.4h-1.4zM471.2 816.8h1.4v1.4h-1.4zM471.0 816.6h1.4v1.4h-1.4zM471.2 823.7h1.4v1.4h-1.4zM473.1 820.6h1.4v1.4h-1.4zM474.1 824.8h1.4v1.4h-1.4zM473.6 825.5h1.4v1.4h-1.4zM475.0 826.5h1.4v1.4h-1.4zM476.8 824.2h1.4v1.4h-1.4zM476.2 822.8h1.4v1.4h-1.4zM478.0 820.5h1.4v1.4h-1.4zM477.3 822.4h1.4v1.4h-1.4zM478.0 824.4h1.4v1.4h-1.4zM477.6 821.5h1.4v1.4h-1.4zM477.9 824.4h1.4v1.4h-1.4zM478.7 821.1h1.4v1.4h-1.4zM479.2 824.3h1.4v1.4h-1.4zM479.0 824.1h1.4v1.4h-1.4zM480.2 823.5h1.4v1.4h-1.4zM479.9 825.9h1.4v1.4h-1.4zM480.6 823.9h1.4v1.4h-1.4zM480.1 822.4h1.4v1.4h-1.4zM482.0 824.2h1.4v1.4h-1.4zM482.1 823.6h1.4v1.4h-1.4zM481.1 825.3h1.4v1.4h-1.4zM481.1 825.1h1.4v1.4h-1.4zM482.0 828.3h1.4v1.4h-1.4zM482.4 828.3h1.4v1.4h-1.4zM483.0 824.6h1.4v1.4h-1.4zM482.6 823.7h1.4v1.4h-1.4zM482.8 824.9h1.4v1.4h-1.4zM484.5 821.9h1.4v1.4h-1.4zM485.9 828.8h1.4v1.4h-1.4zM486.1 828.7h1.4v1.4h-1.4zM484.9 829.5h1.4v1.4h-1.4zM485.7 824.0h1.4v1.4h-1.4zM485.8 824.0h1.4v1.4h-1.4zM486.5 829.4h1.4v1.4h-1.4zM486.7 819.7h1.4v1.4h-1.4zM487.3 825.3h1.4v1.4h-1.4zM486.7 823.5h1.4v1.4h-1.4zM486.3 825.9h1.4v1.4h-1.4zM487.0 831.1h1.4v1.4h-1.4zM488.0 828.4h1.4v1.4h-1.4zM488.2 822.4h1.4v1.4h-1.4zM488.5 822.6h1.4v1.4h-1.4zM488.7 822.6h1.4v1.4h-1.4zM489.8 827.2h1.4v1.4h-1.4zM489.6 823.3h1.4v1.4h-1.4zM489.2 814.6h1.4v1.4h-1.4zM489.3 826.7h1.4v1.4h-1.4zM488.9 819.4h1.4v1.4h-1.4zM489.1 830.9h1.4v1.4h-1.4zM490.5 831.0h1.4v1.4h-1.4zM491.1 830.0h1.4v1.4h-1.4zM490.8 833.1h1.4v1.4h-1.4zM490.3 826.1h1.4v1.4h-1.4zM492.0 826.5h1.4v1.4h-1.4zM492.4 818.9h1.4v1.4h-1.4zM492.0 831.7h1.4v1.4h-1.4zM491.6 827.7h1.4v1.4h-1.4zM491.6 829.4h1.4v1.4h-1.4zM492.9 831.1h1.4v1.4h-1.4zM492.9 818.9h1.4v1.4h-1.4zM493.3 831.0h1.4v1.4h-1.4zM493.2 827.3h1.4v1.4h-1.4zM493.5 827.7h1.4v1.4h-1.4zM492.9 827.6h1.4v1.4h-1.4zM493.8 825.0h1.4v1.4h-1.4zM494.4 827.7h1.4v1.4h-1.4zM494.9 820.1h1.4v1.4h-1.4zM495.4 831.0h1.4v1.4h-1.4zM496.2 839.0h1.4v1.4h-1.4zM496.0 830.8h1.4v1.4h-1.4zM497.5 835.3h1.4v1.4h-1.4zM496.7 825.3h1.4v1.4h-1.4zM497.2 829.5h1.4v1.4h-1.4zM497.1 826.2h1.4v1.4h-1.4zM497.4 822.7h1.4v1.4h-1.4zM497.6 831.0h1.4v1.4h-1.4zM496.6 827.1h1.4v1.4h-1.4zM498.2 828.8h1.4v1.4h-1.4zM498.5 825.5h1.4v1.4h-1.4zM498.8 833.5h1.4v1.4h-1.4zM498.0 824.8h1.4v1.4h-1.4zM498.3 832.1h1.4v1.4h-1.4zM499.6 820.4h1.4v1.4h-1.4zM499.4 834.0h1.4v1.4h-1.4zM500.2 830.1h1.4v1.4h-1.4zM500.1 825.3h1.4v1.4h-1.4zM499.7 824.0h1.4v1.4h-1.4zM500.0 821.0h1.4v1.4h-1.4zM501.5 836.6h1.4v1.4h-1.4zM501.7 832.0h1.4v1.4h-1.4zM500.8 822.3h1.4v1.4h-1.4zM501.5 830.0h1.4v1.4h-1.4zM500.7 826.2h1.4v1.4h-1.4zM502.8 825.4h1.4v1.4h-1.4zM502.4 834.7h1.4v1.4h-1.4zM502.7 838.1h1.4v1.4h-1.4zM501.9 832.7h1.4v1.4h-1.4zM502.5 826.5h1.4v1.4h-1.4zM501.8 828.8h1.4v1.4h-1.4zM502.6 827.2h1.4v1.4h-1.4zM502.2 823.5h1.4v1.4h-1.4zM504.2 834.9h1.4v1.4h-1.4zM503.2 832.6h1.4v1.4h-1.4zM503.1 830.9h1.4v1.4h-1.4zM504.1 831.3h1.4v1.4h-1.4zM503.4 829.0h1.4v1.4h-1.4zM503.4 826.7h1.4v1.4h-1.4zM505.1 827.6h1.4v1.4h-1.4zM505.3 831.4h1.4v1.4h-1.4zM504.9 828.3h1.4v1.4h-1.4zM505.2 835.0h1.4v1.4h-1.4zM504.8 839.8h1.4v1.4h-1.4zM505.7 829.8h1.4v1.4h-1.4zM506.6 830.7h1.4v1.4h-1.4zM506.8 829.7h1.4v1.4h-1.4zM506.7 840.8h1.4v1.4h-1.4zM506.3 830.9h1.4v1.4h-1.4zM505.9 836.1h1.4v1.4h-1.4zM506.5 832.4h1.4v1.4h-1.4zM506.5 830.8h1.4v1.4h-1.4zM507.9 832.2h1.4v1.4h-1.4zM507.8 831.9h1.4v1.4h-1.4zM507.2 832.7h1.4v1.4h-1.4zM508.0 824.5h1.4v1.4h-1.4zM507.1 828.7h1.4v1.4h-1.4zM508.2 831.8h1.4v1.4h-1.4zM509.1 827.7h1.4v1.4h-1.4zM508.8 831.9h1.4v1.4h-1.4zM508.4 832.9h1.4v1.4h-1.4zM508.5 830.2h1.4v1.4h-1.4zM509.4 832.9h1.4v1.4h-1.4zM509.4 833.2h1.4v1.4h-1.4zM510.5 832.5h1.4v1.4h-1.4zM509.8 832.7h1.4v1.4h-1.4zM510.8 838.8h1.4v1.4h-1.4zM509.6 835.8h1.4v1.4h-1.4zM510.3 836.0h1.4v1.4h-1.4zM510.2 838.2h1.4v1.4h-1.4zM510.9 832.6h1.4v1.4h-1.4zM511.8 832.0h1.4v1.4h-1.4zM511.2 840.1h1.4v1.4h-1.4zM511.1 835.8h1.4v1.4h-1.4zM511.2 838.1h1.4v1.4h-1.4zM511.7 835.1h1.4v1.4h-1.4zM511.0 838.7h1.4v1.4h-1.4zM512.7 838.1h1.4v1.4h-1.4zM512.3 837.7h1.4v1.4h-1.4zM513.0 837.6h1.4v1.4h-1.4zM512.4 828.8h1.4v1.4h-1.4zM514.1 840.0h1.4v1.4h-1.4zM513.8 838.7h1.4v1.4h-1.4zM513.9 836.2h1.4v1.4h-1.4zM515.5 836.5h1.4v1.4h-1.4zM515.3 834.3h1.4v1.4h-1.4zM515.9 831.4h1.4v1.4h-1.4zM515.7 835.2h1.4v1.4h-1.4zM514.8 836.4h1.4v1.4h-1.4zM516.2 837.4h1.4v1.4h-1.4zM516.7 839.8h1.4v1.4h-1.4zM516.3 828.5h1.4v1.4h-1.4zM517.1 839.7h1.4v1.4h-1.4zM516.6 843.8h1.4v1.4h-1.4zM516.9 837.8h1.4v1.4h-1.4zM517.2 837.8h1.4v1.4h-1.4zM516.7 833.2h1.4v1.4h-1.4zM517.4 833.9h1.4v1.4h-1.4zM518.5 840.5h1.4v1.4h-1.4zM517.9 839.4h1.4v1.4h-1.4zM518.5 831.3h1.4v1.4h-1.4zM517.6 843.6h1.4v1.4h-1.4zM518.6 845.0h1.4v1.4h-1.4zM518.9 845.2h1.4v1.4h-1.4zM519.6 840.6h1.4v1.4h-1.4zM519.7 849.4h1.4v1.4h-1.4zM519.9 846.1h1.4v1.4h-1.4zM519.5 855.7h1.4v1.4h-1.4zM519.3 833.6h1.4v1.4h-1.4zM519.1 844.4h1.4v1.4h-1.4zM518.7 852.9h1.4v1.4h-1.4zM519.5 838.9h1.4v1.4h-1.4zM520.7 850.9h1.4v1.4h-1.4zM520.9 845.2h1.4v1.4h-1.4zM520.5 846.4h1.4v1.4h-1.4zM520.7 855.0h1.4v1.4h-1.4zM521.2 849.0h1.4v1.4h-1.4zM520.8 856.6h1.4v1.4h-1.4zM520.1 840.9h1.4v1.4h-1.4zM521.0 850.2h1.4v1.4h-1.4zM521.9 851.4h1.4v1.4h-1.4zM521.5 838.4h1.4v1.4h-1.4zM522.3 839.2h1.4v1.4h-1.4zM522.2 845.2h1.4v1.4h-1.4zM522.3 859.7h1.4v1.4h-1.4zM522.3 853.8h1.4v1.4h-1.4zM521.7 850.6h1.4v1.4h-1.4zM523.4 841.0h1.4v1.4h-1.4zM523.4 859.3h1.4v1.4h-1.4zM522.7 856.0h1.4v1.4h-1.4zM523.7 859.8h1.4v1.4h-1.4zM522.7 848.5h1.4v1.4h-1.4zM523.4 848.8h1.4v1.4h-1.4zM522.8 861.2h1.4v1.4h-1.4zM523.6 849.5h1.4v1.4h-1.4zM523.0 844.6h1.4v1.4h-1.4zM524.0 853.6h1.4v1.4h-1.4zM524.2 860.2h1.4v1.4h-1.4zM525.0 852.6h1.4v1.4h-1.4zM525.1 858.9h1.4v1.4h-1.4zM524.4 849.0h1.4v1.4h-1.4zM524.1 846.0h1.4v1.4h-1.4zM524.6 863.7h1.4v1.4h-1.4zM525.6 859.8h1.4v1.4h-1.4zM526.3 851.3h1.4v1.4h-1.4zM525.5 858.3h1.4v1.4h-1.4zM526.7 852.8h1.4v1.4h-1.4zM526.8 852.2h1.4v1.4h-1.4zM526.7 848.7h1.4v1.4h-1.4zM527.7 858.7h1.4v1.4h-1.4zM527.0 847.7h1.4v1.4h-1.4zM527.5 846.7h1.4v1.4h-1.4zM526.7 841.4h1.4v1.4h-1.4zM526.5 853.1h1.4v1.4h-1.4zM526.5 853.0h1.4v1.4h-1.4zM528.4 840.9h1.4v1.4h-1.4zM528.8 848.2h1.4v1.4h-1.4zM528.9 863.2h1.4v1.4h-1.4zM528.0 846.0h1.4v1.4h-1.4zM528.0 850.2h1.4v1.4h-1.4zM528.7 862.9h1.4v1.4h-1.4zM527.9 865.5h1.4v1.4h-1.4zM528.7 847.6h1.4v1.4h-1.4zM528.4 861.8h1.4v1.4h-1.4zM528.2 855.1h1.4v1.4h-1.4zM528.2 863.9h1.4v1.4h-1.4zM527.9 847.6h1.4v1.4h-1.4zM528.3 846.0h1.4v1.4h-1.4zM530.1 849.8h1.4v1.4h-1.4zM530.0 844.7h1.4v1.4h-1.4zM529.3 854.4h1.4v1.4h-1.4zM529.9 853.7h1.4v1.4h-1.4zM530.2 838.4h1.4v1.4h-1.4zM530.2 860.7h1.4v1.4h-1.4zM529.6 836.9h1.4v1.4h-1.4zM530.0 852.0h1.4v1.4h-1.4zM529.3 847.5h1.4v1.4h-1.4zM530.6 858.6h1.4v1.4h-1.4zM530.9 854.3h1.4v1.4h-1.4zM530.8 857.6h1.4v1.4h-1.4zM531.3 841.1h1.4v1.4h-1.4zM530.8 860.7h1.4v1.4h-1.4zM530.9 856.5h1.4v1.4h-1.4zM530.9 843.1h1.4v1.4h-1.4zM530.6 863.6h1.4v1.4h-1.4zM530.7 835.1h1.4v1.4h-1.4zM532.5 857.5h1.4v1.4h-1.4zM532.1 845.6h1.4v1.4h-1.4zM532.1 862.2h1.4v1.4h-1.4zM532.0 868.6h1.4v1.4h-1.4zM532.9 852.6h1.4v1.4h-1.4zM532.1 850.7h1.4v1.4h-1.4zM532.6 853.0h1.4v1.4h-1.4zM533.2 847.3h1.4v1.4h-1.4zM533.3 850.6h1.4v1.4h-1.4zM533.3 857.9h1.4v1.4h-1.4zM534.0 863.1h1.4v1.4h-1.4zM534.1 842.4h1.4v1.4h-1.4zM534.0 862.3h1.4v1.4h-1.4zM534.0 868.8h1.4v1.4h-1.4zM533.8 840.3h1.4v1.4h-1.4zM533.4 849.6h1.4v1.4h-1.4zM533.3 858.9h1.4v1.4h-1.4zM533.8 853.7h1.4v1.4h-1.4zM533.0 844.3h1.4v1.4h-1.4zM534.9 847.0h1.4v1.4h-1.4zM535.2 875.7h1.4v1.4h-1.4zM535.0 850.6h1.4v1.4h-1.4zM534.9 853.1h1.4v1.4h-1.4zM534.6 855.8h1.4v1.4h-1.4zM534.7 842.1h1.4v1.4h-1.4zM535.1 856.1h1.4v1.4h-1.4zM535.0 867.3h1.4v1.4h-1.4zM534.5 867.1h1.4v1.4h-1.4zM534.7 850.7h1.4v1.4h-1.4zM534.5 856.1h1.4v1.4h-1.4zM536.5 860.9h1.4v1.4h-1.4zM536.2 840.7h1.4v1.4h-1.4zM536.6 843.5h1.4v1.4h-1.4zM536.5 869.2h1.4v1.4h-1.4zM536.8 853.1h1.4v1.4h-1.4zM535.9 849.1h1.4v1.4h-1.4zM536.2 858.3h1.4v1.4h-1.4zM535.9 837.0h1.4v1.4h-1.4zM535.6 864.0h1.4v1.4h-1.4zM536.3 866.1h1.4v1.4h-1.4zM537.1 856.4h1.4v1.4h-1.4zM537.6 875.5h1.4v1.4h-1.4zM537.1 854.1h1.4v1.4h-1.4zM537.3 855.9h1.4v1.4h-1.4zM538.0 867.7h1.4v1.4h-1.4zM537.8 841.2h1.4v1.4h-1.4zM538.0 859.6h1.4v1.4h-1.4zM537.7 863.7h1.4v1.4h-1.4zM537.2 849.1h1.4v1.4h-1.4zM537.3 853.9h1.4v1.4h-1.4zM537.7 861.0h1.4v1.4h-1.4zM537.6 855.8h1.4v1.4h-1.4zM538.1 845.1h1.4v1.4h-1.4zM537.3 874.0h1.4v1.4h-1.4zM537.2 852.4h1.4v1.4h-1.4zM537.6 867.6h1.4v1.4h-1.4z"/>
<path fill="#4A5352" opacity="0.7" d="M105.0 764.9h1.4v1.4h-1.4zM106.0 764.4h1.4v1.4h-1.4zM105.1 766.4h1.4v1.4h-1.4zM105.1 766.0h1.4v1.4h-1.4zM105.9 762.2h1.4v1.4h-1.4zM106.5 766.6h1.4v1.4h-1.4zM107.7 768.4h1.4v1.4h-1.4zM108.2 764.9h1.4v1.4h-1.4zM112.8 763.3h1.4v1.4h-1.4zM113.5 765.5h1.4v1.4h-1.4zM115.0 766.6h1.4v1.4h-1.4zM115.9 764.1h1.4v1.4h-1.4zM115.8 762.0h1.4v1.4h-1.4zM116.5 764.6h1.4v1.4h-1.4zM116.1 766.5h1.4v1.4h-1.4zM116.3 764.8h1.4v1.4h-1.4zM117.3 770.1h1.4v1.4h-1.4zM117.0 770.6h1.4v1.4h-1.4zM117.3 771.6h1.4v1.4h-1.4zM118.8 764.8h1.4v1.4h-1.4zM118.1 771.8h1.4v1.4h-1.4zM120.1 768.3h1.4v1.4h-1.4zM119.6 770.1h1.4v1.4h-1.4zM120.6 763.6h1.4v1.4h-1.4zM120.8 764.0h1.4v1.4h-1.4zM121.4 767.1h1.4v1.4h-1.4zM122.7 770.5h1.4v1.4h-1.4zM123.0 766.9h1.4v1.4h-1.4zM125.1 762.3h1.4v1.4h-1.4zM125.0 768.8h1.4v1.4h-1.4zM123.9 765.6h1.4v1.4h-1.4zM123.9 765.2h1.4v1.4h-1.4zM125.2 763.3h1.4v1.4h-1.4zM124.9 765.8h1.4v1.4h-1.4zM126.1 764.5h1.4v1.4h-1.4zM126.2 762.8h1.4v1.4h-1.4zM126.6 764.5h1.4v1.4h-1.4zM127.0 759.8h1.4v1.4h-1.4zM127.5 765.7h1.4v1.4h-1.4zM128.0 759.6h1.4v1.4h-1.4zM128.3 765.3h1.4v1.4h-1.4zM130.7 762.9h1.4v1.4h-1.4zM131.4 769.5h1.4v1.4h-1.4zM131.1 768.4h1.4v1.4h-1.4zM131.3 766.3h1.4v1.4h-1.4zM132.5 766.2h1.4v1.4h-1.4zM132.1 764.0h1.4v1.4h-1.4zM133.2 764.7h1.4v1.4h-1.4zM133.0 766.8h1.4v1.4h-1.4zM134.2 761.3h1.4v1.4h-1.4zM134.3 766.4h1.4v1.4h-1.4zM135.9 765.3h1.4v1.4h-1.4zM136.1 760.3h1.4v1.4h-1.4zM137.7 765.3h1.4v1.4h-1.4zM137.6 765.4h1.4v1.4h-1.4zM139.1 769.6h1.4v1.4h-1.4zM141.0 765.7h1.4v1.4h-1.4zM140.1 767.9h1.4v1.4h-1.4zM142.4 768.5h1.4v1.4h-1.4zM143.1 763.1h1.4v1.4h-1.4zM142.8 768.0h1.4v1.4h-1.4zM143.0 770.0h1.4v1.4h-1.4zM144.2 771.9h1.4v1.4h-1.4zM145.6 767.7h1.4v1.4h-1.4zM145.2 771.4h1.4v1.4h-1.4zM145.1 765.5h1.4v1.4h-1.4zM146.9 769.8h1.4v1.4h-1.4zM147.6 773.2h1.4v1.4h-1.4zM147.9 770.4h1.4v1.4h-1.4zM148.2 775.3h1.4v1.4h-1.4zM149.7 768.4h1.4v1.4h-1.4zM151.7 774.3h1.4v1.4h-1.4zM151.3 773.2h1.4v1.4h-1.4zM151.8 777.0h1.4v1.4h-1.4zM152.8 771.6h1.4v1.4h-1.4zM153.1 771.9h1.4v1.4h-1.4zM154.5 775.7h1.4v1.4h-1.4zM154.9 774.0h1.4v1.4h-1.4zM156.0 764.9h1.4v1.4h-1.4zM156.7 768.6h1.4v1.4h-1.4zM157.3 768.7h1.4v1.4h-1.4zM158.0 765.8h1.4v1.4h-1.4zM159.9 766.7h1.4v1.4h-1.4zM160.0 770.7h1.4v1.4h-1.4zM161.1 764.5h1.4v1.4h-1.4zM161.1 769.0h1.4v1.4h-1.4zM162.1 766.5h1.4v1.4h-1.4zM163.9 766.3h1.4v1.4h-1.4zM164.7 765.3h1.4v1.4h-1.4zM165.4 765.3h1.4v1.4h-1.4zM166.2 764.7h1.4v1.4h-1.4zM167.1 763.6h1.4v1.4h-1.4zM168.2 762.5h1.4v1.4h-1.4zM168.4 757.1h1.4v1.4h-1.4zM169.9 760.0h1.4v1.4h-1.4zM170.1 758.3h1.4v1.4h-1.4zM170.2 760.6h1.4v1.4h-1.4zM170.7 763.5h1.4v1.4h-1.4zM172.0 758.7h1.4v1.4h-1.4zM174.5 754.9h1.4v1.4h-1.4zM176.9 755.4h1.4v1.4h-1.4zM176.9 756.7h1.4v1.4h-1.4zM177.3 757.3h1.4v1.4h-1.4zM177.8 753.3h1.4v1.4h-1.4zM179.9 754.4h1.4v1.4h-1.4zM180.7 756.5h1.4v1.4h-1.4zM180.5 749.9h1.4v1.4h-1.4zM181.4 756.0h1.4v1.4h-1.4zM182.8 755.4h1.4v1.4h-1.4zM182.9 752.5h1.4v1.4h-1.4zM182.9 754.5h1.4v1.4h-1.4zM182.9 753.3h1.4v1.4h-1.4zM185.7 749.7h1.4v1.4h-1.4zM185.0 752.3h1.4v1.4h-1.4zM185.6 750.7h1.4v1.4h-1.4zM186.0 748.6h1.4v1.4h-1.4zM187.6 751.0h1.4v1.4h-1.4zM187.0 750.0h1.4v1.4h-1.4zM188.1 752.5h1.4v1.4h-1.4zM188.1 749.9h1.4v1.4h-1.4zM188.9 746.4h1.4v1.4h-1.4zM188.9 749.6h1.4v1.4h-1.4zM191.1 752.8h1.4v1.4h-1.4zM193.0 745.5h1.4v1.4h-1.4zM193.3 744.1h1.4v1.4h-1.4zM195.0 748.2h1.4v1.4h-1.4zM195.6 740.8h1.4v1.4h-1.4zM195.9 747.3h1.4v1.4h-1.4zM197.0 749.8h1.4v1.4h-1.4zM197.9 747.6h1.4v1.4h-1.4zM199.0 746.2h1.4v1.4h-1.4zM199.1 740.7h1.4v1.4h-1.4zM201.8 747.2h1.4v1.4h-1.4zM202.0 742.6h1.4v1.4h-1.4zM202.1 740.4h1.4v1.4h-1.4zM203.1 744.6h1.4v1.4h-1.4zM203.5 745.5h1.4v1.4h-1.4zM203.0 741.9h1.4v1.4h-1.4zM205.0 744.9h1.4v1.4h-1.4zM204.3 742.4h1.4v1.4h-1.4zM204.9 749.2h1.4v1.4h-1.4zM208.0 752.2h1.4v1.4h-1.4zM207.8 751.1h1.4v1.4h-1.4zM208.7 750.2h1.4v1.4h-1.4zM209.4 751.0h1.4v1.4h-1.4zM210.1 754.2h1.4v1.4h-1.4zM209.9 754.5h1.4v1.4h-1.4zM211.0 749.8h1.4v1.4h-1.4zM213.1 752.9h1.4v1.4h-1.4zM212.0 748.6h1.4v1.4h-1.4zM213.1 752.4h1.4v1.4h-1.4zM214.0 750.7h1.4v1.4h-1.4zM213.6 749.4h1.4v1.4h-1.4zM217.9 754.9h1.4v1.4h-1.4zM217.9 751.7h1.4v1.4h-1.4zM218.3 753.0h1.4v1.4h-1.4zM219.4 759.1h1.4v1.4h-1.4zM219.5 755.0h1.4v1.4h-1.4zM219.7 750.8h1.4v1.4h-1.4zM220.8 753.2h1.4v1.4h-1.4zM220.3 757.5h1.4v1.4h-1.4zM221.4 760.8h1.4v1.4h-1.4zM222.6 756.6h1.4v1.4h-1.4zM223.8 754.9h1.4v1.4h-1.4zM223.1 763.4h1.4v1.4h-1.4zM225.9 765.5h1.4v1.4h-1.4zM228.0 758.8h1.4v1.4h-1.4zM228.1 762.0h1.4v1.4h-1.4zM229.5 761.3h1.4v1.4h-1.4zM229.6 764.5h1.4v1.4h-1.4zM230.9 765.9h1.4v1.4h-1.4zM230.2 764.8h1.4v1.4h-1.4zM231.0 762.4h1.4v1.4h-1.4zM231.9 765.7h1.4v1.4h-1.4zM234.4 767.4h1.4v1.4h-1.4zM235.8 773.2h1.4v1.4h-1.4zM236.5 769.9h1.4v1.4h-1.4zM236.9 775.1h1.4v1.4h-1.4zM237.6 770.5h1.4v1.4h-1.4zM237.7 773.2h1.4v1.4h-1.4zM238.6 769.3h1.4v1.4h-1.4zM238.4 768.6h1.4v1.4h-1.4zM241.0 775.9h1.4v1.4h-1.4zM241.3 772.8h1.4v1.4h-1.4zM242.7 771.9h1.4v1.4h-1.4zM244.1 772.2h1.4v1.4h-1.4zM243.1 772.4h1.4v1.4h-1.4zM244.0 776.2h1.4v1.4h-1.4zM244.3 769.7h1.4v1.4h-1.4zM245.0 772.7h1.4v1.4h-1.4zM244.2 772.8h1.4v1.4h-1.4zM244.7 775.8h1.4v1.4h-1.4zM245.3 775.6h1.4v1.4h-1.4zM245.7 769.6h1.4v1.4h-1.4zM245.6 772.6h1.4v1.4h-1.4zM245.8 775.4h1.4v1.4h-1.4zM245.9 772.7h1.4v1.4h-1.4zM244.9 774.8h1.4v1.4h-1.4zM246.7 776.4h1.4v1.4h-1.4zM245.5 772.8h1.4v1.4h-1.4zM246.0 778.3h1.4v1.4h-1.4zM245.8 773.7h1.4v1.4h-1.4zM247.1 771.8h1.4v1.4h-1.4zM246.9 778.0h1.4v1.4h-1.4zM247.5 774.7h1.4v1.4h-1.4zM247.4 775.3h1.4v1.4h-1.4zM247.3 772.8h1.4v1.4h-1.4zM246.6 774.7h1.4v1.4h-1.4zM246.5 772.8h1.4v1.4h-1.4zM246.9 778.8h1.4v1.4h-1.4zM247.7 771.8h1.4v1.4h-1.4zM247.9 775.2h1.4v1.4h-1.4zM248.1 775.3h1.4v1.4h-1.4zM248.4 771.6h1.4v1.4h-1.4zM248.3 775.9h1.4v1.4h-1.4zM248.8 772.6h1.4v1.4h-1.4zM249.0 774.6h1.4v1.4h-1.4zM248.9 773.0h1.4v1.4h-1.4zM249.7 772.1h1.4v1.4h-1.4zM249.2 775.0h1.4v1.4h-1.4zM249.3 775.7h1.4v1.4h-1.4zM249.2 772.8h1.4v1.4h-1.4zM249.5 775.0h1.4v1.4h-1.4zM249.4 771.2h1.4v1.4h-1.4zM250.1 774.1h1.4v1.4h-1.4zM250.0 776.3h1.4v1.4h-1.4zM249.6 775.8h1.4v1.4h-1.4zM250.4 772.3h1.4v1.4h-1.4zM249.6 775.9h1.4v1.4h-1.4zM250.2 774.6h1.4v1.4h-1.4zM250.0 779.8h1.4v1.4h-1.4zM250.6 774.3h1.4v1.4h-1.4zM249.7 777.6h1.4v1.4h-1.4zM251.1 773.3h1.4v1.4h-1.4zM250.6 773.5h1.4v1.4h-1.4zM250.8 773.4h1.4v1.4h-1.4zM250.7 776.7h1.4v1.4h-1.4zM250.6 775.3h1.4v1.4h-1.4zM251.4 777.0h1.4v1.4h-1.4zM252.3 776.2h1.4v1.4h-1.4zM251.3 778.5h1.4v1.4h-1.4zM251.2 775.1h1.4v1.4h-1.4zM251.5 772.2h1.4v1.4h-1.4zM251.7 782.7h1.4v1.4h-1.4zM251.3 774.1h1.4v1.4h-1.4zM252.5 773.7h1.4v1.4h-1.4zM252.8 776.4h1.4v1.4h-1.4zM252.6 779.2h1.4v1.4h-1.4zM252.6 770.7h1.4v1.4h-1.4zM252.6 775.4h1.4v1.4h-1.4zM252.8 775.6h1.4v1.4h-1.4zM252.1 772.5h1.4v1.4h-1.4zM251.9 773.0h1.4v1.4h-1.4zM253.7 779.4h1.4v1.4h-1.4zM253.2 776.9h1.4v1.4h-1.4zM253.6 784.0h1.4v1.4h-1.4zM252.9 777.7h1.4v1.4h-1.4zM253.6 777.8h1.4v1.4h-1.4zM253.5 776.8h1.4v1.4h-1.4zM253.8 780.5h1.4v1.4h-1.4zM253.5 773.7h1.4v1.4h-1.4zM254.0 781.6h1.4v1.4h-1.4zM254.0 780.1h1.4v1.4h-1.4zM253.8 776.1h1.4v1.4h-1.4zM253.5 776.6h1.4v1.4h-1.4zM254.3 773.0h1.4v1.4h-1.4zM254.2 778.4h1.4v1.4h-1.4zM253.8 779.4h1.4v1.4h-1.4zM254.4 776.1h1.4v1.4h-1.4zM254.2 775.7h1.4v1.4h-1.4zM254.3 781.0h1.4v1.4h-1.4zM255.0 779.1h1.4v1.4h-1.4zM255.5 778.8h1.4v1.4h-1.4zM254.4 777.9h1.4v1.4h-1.4zM255.2 781.9h1.4v1.4h-1.4zM254.7 778.9h1.4v1.4h-1.4zM254.7 778.1h1.4v1.4h-1.4zM255.4 773.9h1.4v1.4h-1.4zM254.5 777.2h1.4v1.4h-1.4zM255.2 779.5h1.4v1.4h-1.4zM254.8 778.6h1.4v1.4h-1.4zM255.0 776.8h1.4v1.4h-1.4zM255.8 777.7h1.4v1.4h-1.4zM255.7 779.7h1.4v1.4h-1.4zM256.2 779.0h1.4v1.4h-1.4zM255.2 773.9h1.4v1.4h-1.4zM255.8 777.7h1.4v1.4h-1.4zM255.2 778.3h1.4v1.4h-1.4zM256.0 775.5h1.4v1.4h-1.4zM255.7 775.1h1.4v1.4h-1.4zM255.9 772.9h1.4v1.4h-1.4zM256.0 773.1h1.4v1.4h-1.4zM256.3 783.8h1.4v1.4h-1.4zM256.1 774.5h1.4v1.4h-1.4zM256.4 774.4h1.4v1.4h-1.4zM256.8 777.8h1.4v1.4h-1.4zM256.3 775.1h1.4v1.4h-1.4zM257.0 779.7h1.4v1.4h-1.4zM256.9 784.9h1.4v1.4h-1.4zM257.0 778.6h1.4v1.4h-1.4zM256.9 782.7h1.4v1.4h-1.4zM257.8 777.1h1.4v1.4h-1.4zM257.8 777.8h1.4v1.4h-1.4zM257.6 784.7h1.4v1.4h-1.4zM256.9 779.3h1.4v1.4h-1.4zM256.7 778.9h1.4v1.4h-1.4zM258.4 775.0h1.4v1.4h-1.4zM257.9 773.0h1.4v1.4h-1.4zM258.0 777.9h1.4v1.4h-1.4zM258.3 776.1h1.4v1.4h-1.4zM258.2 776.9h1.4v1.4h-1.4zM257.8 779.3h1.4v1.4h-1.4zM258.3 781.5h1.4v1.4h-1.4zM258.7 782.9h1.4v1.4h-1.4zM257.9 777.2h1.4v1.4h-1.4zM258.6 776.3h1.4v1.4h-1.4zM258.4 780.8h1.4v1.4h-1.4zM258.3 771.0h1.4v1.4h-1.4zM258.6 783.6h1.4v1.4h-1.4zM258.7 772.3h1.4v1.4h-1.4zM259.5 771.9h1.4v1.4h-1.4zM259.4 777.6h1.4v1.4h-1.4zM260.0 782.7h1.4v1.4h-1.4zM260.2 781.6h1.4v1.4h-1.4zM259.2 774.5h1.4v1.4h-1.4zM260.2 783.3h1.4v1.4h-1.4zM260.2 772.8h1.4v1.4h-1.4zM259.9 774.2h1.4v1.4h-1.4zM259.7 776.3h1.4v1.4h-1.4zM259.6 774.1h1.4v1.4h-1.4zM259.9 772.3h1.4v1.4h-1.4zM260.3 785.3h1.4v1.4h-1.4zM261.0 778.2h1.4v1.4h-1.4zM261.1 778.6h1.4v1.4h-1.4zM260.6 778.0h1.4v1.4h-1.4zM260.0 774.8h1.4v1.4h-1.4zM260.5 780.8h1.4v1.4h-1.4zM260.2 778.5h1.4v1.4h-1.4zM260.7 782.5h1.4v1.4h-1.4zM261.9 776.5h1.4v1.4h-1.4zM261.4 778.9h1.4v1.4h-1.4zM261.3 779.1h1.4v1.4h-1.4zM261.0 772.7h1.4v1.4h-1.4zM261.4 774.0h1.4v1.4h-1.4zM261.5 777.8h1.4v1.4h-1.4zM261.6 777.0h1.4v1.4h-1.4zM261.4 777.9h1.4v1.4h-1.4zM261.3 773.9h1.4v1.4h-1.4zM261.7 778.7h1.4v1.4h-1.4zM261.9 783.1h1.4v1.4h-1.4zM262.0 783.7h1.4v1.4h-1.4zM262.5 778.0h1.4v1.4h-1.4zM262.5 784.4h1.4v1.4h-1.4zM262.6 779.2h1.4v1.4h-1.4zM261.6 783.4h1.4v1.4h-1.4zM262.2 774.9h1.4v1.4h-1.4zM263.1 783.1h1.4v1.4h-1.4zM262.8 778.1h1.4v1.4h-1.4zM262.5 777.4h1.4v1.4h-1.4zM262.7 786.2h1.4v1.4h-1.4zM262.7 779.4h1.4v1.4h-1.4zM263.2 785.0h1.4v1.4h-1.4zM262.8 777.8h1.4v1.4h-1.4zM263.7 786.9h1.4v1.4h-1.4zM263.4 784.6h1.4v1.4h-1.4zM263.3 777.4h1.4v1.4h-1.4zM263.7 778.6h1.4v1.4h-1.4zM264.2 778.6h1.4v1.4h-1.4zM263.2 786.6h1.4v1.4h-1.4zM264.0 777.5h1.4v1.4h-1.4zM264.1 781.7h1.4v1.4h-1.4zM264.2 778.4h1.4v1.4h-1.4zM264.6 785.6h1.4v1.4h-1.4zM264.3 780.3h1.4v1.4h-1.4zM264.0 777.3h1.4v1.4h-1.4zM265.1 777.7h1.4v1.4h-1.4zM264.8 776.2h1.4v1.4h-1.4zM265.0 779.4h1.4v1.4h-1.4zM265.2 782.2h1.4v1.4h-1.4zM265.3 778.4h1.4v1.4h-1.4zM265.4 776.4h1.4v1.4h-1.4zM265.1 780.8h1.4v1.4h-1.4zM265.1 778.5h1.4v1.4h-1.4zM264.9 779.5h1.4v1.4h-1.4zM265.2 782.5h1.4v1.4h-1.4zM266.2 782.7h1.4v1.4h-1.4zM266.0 782.5h1.4v1.4h-1.4zM266.2 786.7h1.4v1.4h-1.4zM266.4 780.4h1.4v1.4h-1.4zM265.6 782.6h1.4v1.4h-1.4zM267.4 781.1h1.4v1.4h-1.4zM267.4 782.6h1.4v1.4h-1.4zM267.1 779.9h1.4v1.4h-1.4zM266.9 781.6h1.4v1.4h-1.4zM266.4 782.8h1.4v1.4h-1.4zM267.2 778.7h1.4v1.4h-1.4zM267.9 783.5h1.4v1.4h-1.4zM267.2 779.0h1.4v1.4h-1.4zM268.5 781.8h1.4v1.4h-1.4zM268.5 785.4h1.4v1.4h-1.4zM268.1 779.2h1.4v1.4h-1.4zM269.0 780.3h1.4v1.4h-1.4zM269.6 781.3h1.4v1.4h-1.4zM269.8 782.4h1.4v1.4h-1.4zM269.9 780.2h1.4v1.4h-1.4zM270.2 780.3h1.4v1.4h-1.4zM270.5 778.0h1.4v1.4h-1.4zM271.4 777.4h1.4v1.4h-1.4zM271.0 780.5h1.4v1.4h-1.4zM271.1 782.5h1.4v1.4h-1.4zM272.8 779.0h1.4v1.4h-1.4zM272.4 780.9h1.4v1.4h-1.4zM272.0 781.0h1.4v1.4h-1.4zM273.5 784.0h1.4v1.4h-1.4zM273.3 780.9h1.4v1.4h-1.4zM273.5 779.8h1.4v1.4h-1.4zM273.0 781.0h1.4v1.4h-1.4zM273.7 781.1h1.4v1.4h-1.4zM274.3 779.3h1.4v1.4h-1.4zM275.0 781.1h1.4v1.4h-1.4zM275.4 778.5h1.4v1.4h-1.4zM275.8 779.2h1.4v1.4h-1.4zM276.2 783.3h1.4v1.4h-1.4zM277.2 779.7h1.4v1.4h-1.4zM277.2 781.7h1.4v1.4h-1.4zM277.3 781.6h1.4v1.4h-1.4zM278.6 784.5h1.4v1.4h-1.4zM278.0 783.7h1.4v1.4h-1.4zM278.4 778.4h1.4v1.4h-1.4zM278.5 780.5h1.4v1.4h-1.4zM279.2 781.7h1.4v1.4h-1.4zM280.0 781.4h1.4v1.4h-1.4zM280.1 782.5h1.4v1.4h-1.4zM280.4 782.5h1.4v1.4h-1.4zM280.5 784.6h1.4v1.4h-1.4zM280.7 785.1h1.4v1.4h-1.4zM281.8 785.9h1.4v1.4h-1.4zM281.3 785.1h1.4v1.4h-1.4zM282.1 782.8h1.4v1.4h-1.4zM281.9 785.3h1.4v1.4h-1.4zM282.3 780.9h1.4v1.4h-1.4zM282.9 786.2h1.4v1.4h-1.4zM282.0 782.2h1.4v1.4h-1.4zM284.0 785.2h1.4v1.4h-1.4zM283.8 785.6h1.4v1.4h-1.4zM283.2 788.3h1.4v1.4h-1.4zM283.0 781.8h1.4v1.4h-1.4zM284.8 785.3h1.4v1.4h-1.4zM284.2 787.6h1.4v1.4h-1.4zM284.9 786.1h1.4v1.4h-1.4zM285.0 786.7h1.4v1.4h-1.4zM286.0 789.1h1.4v1.4h-1.4zM286.1 789.1h1.4v1.4h-1.4zM286.9 784.5h1.4v1.4h-1.4zM288.0 784.6h1.4v1.4h-1.4zM286.9 784.0h1.4v1.4h-1.4zM286.9 788.1h1.4v1.4h-1.4zM287.4 788.8h1.4v1.4h-1.4zM287.8 786.6h1.4v1.4h-1.4zM289.0 788.2h1.4v1.4h-1.4zM288.1 790.5h1.4v1.4h-1.4zM287.9 789.2h1.4v1.4h-1.4zM289.2 787.4h1.4v1.4h-1.4zM290.1 787.1h1.4v1.4h-1.4zM289.5 786.4h1.4v1.4h-1.4zM290.9 788.8h1.4v1.4h-1.4zM290.6 786.8h1.4v1.4h-1.4zM290.4 787.4h1.4v1.4h-1.4zM290.6 789.6h1.4v1.4h-1.4zM290.7 787.5h1.4v1.4h-1.4zM291.3 792.4h1.4v1.4h-1.4zM292.1 786.5h1.4v1.4h-1.4zM292.6 788.8h1.4v1.4h-1.4zM292.2 790.8h1.4v1.4h-1.4zM293.0 789.1h1.4v1.4h-1.4zM292.2 791.0h1.4v1.4h-1.4zM293.7 788.7h1.4v1.4h-1.4zM294.0 790.4h1.4v1.4h-1.4zM295.1 794.7h1.4v1.4h-1.4zM294.9 794.3h1.4v1.4h-1.4zM295.2 791.3h1.4v1.4h-1.4zM295.4 789.2h1.4v1.4h-1.4zM296.6 794.7h1.4v1.4h-1.4zM296.2 791.1h1.4v1.4h-1.4zM297.0 793.5h1.4v1.4h-1.4zM297.0 792.0h1.4v1.4h-1.4zM297.7 795.5h1.4v1.4h-1.4zM296.9 790.6h1.4v1.4h-1.4zM298.9 792.7h1.4v1.4h-1.4zM299.5 792.6h1.4v1.4h-1.4zM299.7 793.4h1.4v1.4h-1.4zM300.6 794.1h1.4v1.4h-1.4zM300.2 794.0h1.4v1.4h-1.4zM301.4 791.5h1.4v1.4h-1.4zM302.0 792.5h1.4v1.4h-1.4zM302.0 794.4h1.4v1.4h-1.4zM301.4 793.7h1.4v1.4h-1.4zM301.6 793.5h1.4v1.4h-1.4zM302.6 793.0h1.4v1.4h-1.4zM302.0 798.8h1.4v1.4h-1.4zM302.2 795.2h1.4v1.4h-1.4zM303.0 793.1h1.4v1.4h-1.4zM302.9 795.1h1.4v1.4h-1.4zM303.9 794.8h1.4v1.4h-1.4zM303.1 792.7h1.4v1.4h-1.4zM303.4 794.4h1.4v1.4h-1.4zM303.1 797.8h1.4v1.4h-1.4zM304.0 795.4h1.4v1.4h-1.4zM304.8 792.6h1.4v1.4h-1.4zM304.6 798.7h1.4v1.4h-1.4zM304.0 798.4h1.4v1.4h-1.4zM304.2 799.5h1.4v1.4h-1.4zM304.9 797.5h1.4v1.4h-1.4zM304.3 793.0h1.4v1.4h-1.4zM304.8 797.3h1.4v1.4h-1.4zM306.0 795.5h1.4v1.4h-1.4zM305.8 795.4h1.4v1.4h-1.4zM305.3 795.0h1.4v1.4h-1.4zM305.6 795.6h1.4v1.4h-1.4zM305.9 798.0h1.4v1.4h-1.4zM306.1 794.9h1.4v1.4h-1.4zM306.3 795.8h1.4v1.4h-1.4zM307.1 796.0h1.4v1.4h-1.4zM306.2 794.8h1.4v1.4h-1.4zM305.9 797.1h1.4v1.4h-1.4zM306.7 793.2h1.4v1.4h-1.4zM307.5 798.7h1.4v1.4h-1.4zM307.4 794.3h1.4v1.4h-1.4zM307.5 796.3h1.4v1.4h-1.4zM308.0 794.7h1.4v1.4h-1.4zM307.0 799.5h1.4v1.4h-1.4zM307.7 796.7h1.4v1.4h-1.4zM308.5 797.9h1.4v1.4h-1.4zM307.9 795.6h1.4v1.4h-1.4zM309.0 796.0h1.4v1.4h-1.4zM308.9 798.3h1.4v1.4h-1.4zM309.8 799.8h1.4v1.4h-1.4zM309.1 799.4h1.4v1.4h-1.4zM309.5 798.5h1.4v1.4h-1.4zM309.4 794.7h1.4v1.4h-1.4zM309.8 790.5h1.4v1.4h-1.4zM310.7 798.1h1.4v1.4h-1.4zM310.9 796.7h1.4v1.4h-1.4zM310.1 793.8h1.4v1.4h-1.4zM311.1 802.2h1.4v1.4h-1.4zM309.9 795.7h1.4v1.4h-1.4zM310.2 797.2h1.4v1.4h-1.4zM310.0 796.5h1.4v1.4h-1.4zM310.1 795.3h1.4v1.4h-1.4zM311.1 794.7h1.4v1.4h-1.4zM310.9 796.3h1.4v1.4h-1.4zM311.4 796.3h1.4v1.4h-1.4zM312.0 799.8h1.4v1.4h-1.4zM311.1 794.6h1.4v1.4h-1.4zM311.2 793.8h1.4v1.4h-1.4zM311.9 797.5h1.4v1.4h-1.4zM311.2 799.7h1.4v1.4h-1.4zM312.1 797.7h1.4v1.4h-1.4zM312.1 797.9h1.4v1.4h-1.4zM312.1 791.0h1.4v1.4h-1.4zM312.1 797.1h1.4v1.4h-1.4zM312.6 797.5h1.4v1.4h-1.4zM313.0 793.0h1.4v1.4h-1.4zM312.9 801.8h1.4v1.4h-1.4zM313.7 794.6h1.4v1.4h-1.4zM313.3 800.7h1.4v1.4h-1.4zM313.4 799.0h1.4v1.4h-1.4zM313.3 801.0h1.4v1.4h-1.4zM313.7 804.3h1.4v1.4h-1.4zM313.7 800.5h1.4v1.4h-1.4zM313.7 796.6h1.4v1.4h-1.4zM314.9 799.7h1.4v1.4h-1.4zM314.4 802.3h1.4v1.4h-1.4zM314.5 802.4h1.4v1.4h-1.4zM314.3 792.6h1.4v1.4h-1.4zM315.0 800.4h1.4v1.4h-1.4zM315.3 806.2h1.4v1.4h-1.4zM316.0 805.3h1.4v1.4h-1.4zM315.6 805.7h1.4v1.4h-1.4zM315.8 812.5h1.4v1.4h-1.4zM315.0 809.6h1.4v1.4h-1.4zM315.9 803.5h1.4v1.4h-1.4zM315.9 805.9h1.4v1.4h-1.4zM315.2 804.0h1.4v1.4h-1.4zM315.4 803.0h1.4v1.4h-1.4zM316.6 811.5h1.4v1.4h-1.4zM316.7 812.4h1.4v1.4h-1.4zM316.7 813.5h1.4v1.4h-1.4zM317.0 818.9h1.4v1.4h-1.4zM316.9 810.3h1.4v1.4h-1.4zM316.1 804.1h1.4v1.4h-1.4zM316.6 814.0h1.4v1.4h-1.4zM318.3 814.7h1.4v1.4h-1.4zM318.4 813.4h1.4v1.4h-1.4zM318.1 817.8h1.4v1.4h-1.4zM319.1 812.9h1.4v1.4h-1.4zM318.5 814.4h1.4v1.4h-1.4zM320.4 815.7h1.4v1.4h-1.4zM320.6 814.6h1.4v1.4h-1.4zM320.7 810.3h1.4v1.4h-1.4zM319.9 814.8h1.4v1.4h-1.4zM321.8 809.3h1.4v1.4h-1.4zM321.3 809.2h1.4v1.4h-1.4zM322.3 807.6h1.4v1.4h-1.4zM321.3 810.3h1.4v1.4h-1.4zM321.6 804.7h1.4v1.4h-1.4zM322.5 816.9h1.4v1.4h-1.4zM323.1 809.4h1.4v1.4h-1.4zM323.6 805.4h1.4v1.4h-1.4zM323.2 810.3h1.4v1.4h-1.4zM323.0 804.7h1.4v1.4h-1.4zM323.0 813.7h1.4v1.4h-1.4zM324.6 805.3h1.4v1.4h-1.4zM324.7 811.0h1.4v1.4h-1.4zM324.1 813.3h1.4v1.4h-1.4zM324.8 807.9h1.4v1.4h-1.4zM324.0 805.8h1.4v1.4h-1.4zM324.7 812.8h1.4v1.4h-1.4zM325.6 811.3h1.4v1.4h-1.4zM326.0 808.8h1.4v1.4h-1.4zM325.1 816.8h1.4v1.4h-1.4zM326.2 804.0h1.4v1.4h-1.4zM325.4 802.4h1.4v1.4h-1.4zM326.6 806.5h1.4v1.4h-1.4zM327.2 806.6h1.4v1.4h-1.4zM326.4 801.2h1.4v1.4h-1.4zM326.7 803.0h1.4v1.4h-1.4zM327.2 806.0h1.4v1.4h-1.4zM327.8 806.1h1.4v1.4h-1.4zM328.5 799.0h1.4v1.4h-1.4zM328.3 806.4h1.4v1.4h-1.4zM328.0 809.8h1.4v1.4h-1.4zM328.3 804.6h1.4v1.4h-1.4zM328.0 803.8h1.4v1.4h-1.4zM328.6 798.4h1.4v1.4h-1.4zM328.6 805.2h1.4v1.4h-1.4zM329.2 805.5h1.4v1.4h-1.4zM329.1 801.5h1.4v1.4h-1.4zM329.2 804.5h1.4v1.4h-1.4zM329.7 805.0h1.4v1.4h-1.4zM329.2 805.1h1.4v1.4h-1.4zM329.4 805.2h1.4v1.4h-1.4zM330.3 804.7h1.4v1.4h-1.4zM330.5 815.4h1.4v1.4h-1.4zM330.9 810.5h1.4v1.4h-1.4zM330.4 802.9h1.4v1.4h-1.4zM332.1 808.5h1.4v1.4h-1.4zM332.1 813.1h1.4v1.4h-1.4zM332.1 804.1h1.4v1.4h-1.4zM332.2 807.4h1.4v1.4h-1.4zM333.7 812.9h1.4v1.4h-1.4zM333.8 810.4h1.4v1.4h-1.4zM333.1 815.4h1.4v1.4h-1.4zM332.9 816.3h1.4v1.4h-1.4zM333.6 807.2h1.4v1.4h-1.4zM333.6 808.8h1.4v1.4h-1.4zM332.9 810.2h1.4v1.4h-1.4zM334.2 810.4h1.4v1.4h-1.4zM334.6 818.0h1.4v1.4h-1.4zM335.0 808.8h1.4v1.4h-1.4zM334.3 812.4h1.4v1.4h-1.4zM335.0 813.9h1.4v1.4h-1.4zM335.5 811.0h1.4v1.4h-1.4zM336.5 804.5h1.4v1.4h-1.4zM335.5 808.0h1.4v1.4h-1.4zM335.9 804.5h1.4v1.4h-1.4zM335.9 813.1h1.4v1.4h-1.4zM336.5 807.2h1.4v1.4h-1.4zM337.0 810.8h1.4v1.4h-1.4zM337.4 808.8h1.4v1.4h-1.4zM337.3 806.4h1.4v1.4h-1.4zM337.5 802.6h1.4v1.4h-1.4zM337.6 811.2h1.4v1.4h-1.4zM337.6 812.8h1.4v1.4h-1.4zM337.7 808.0h1.4v1.4h-1.4zM337.9 805.2h1.4v1.4h-1.4zM337.0 804.7h1.4v1.4h-1.4zM338.2 810.0h1.4v1.4h-1.4zM339.1 813.2h1.4v1.4h-1.4zM338.7 806.5h1.4v1.4h-1.4zM338.7 805.1h1.4v1.4h-1.4zM338.4 813.4h1.4v1.4h-1.4zM338.8 816.2h1.4v1.4h-1.4zM339.8 802.3h1.4v1.4h-1.4zM339.6 816.8h1.4v1.4h-1.4zM339.4 805.3h1.4v1.4h-1.4zM340.1 809.7h1.4v1.4h-1.4zM340.0 808.1h1.4v1.4h-1.4zM339.3 805.7h1.4v1.4h-1.4zM339.3 815.2h1.4v1.4h-1.4zM339.9 812.2h1.4v1.4h-1.4zM340.7 806.4h1.4v1.4h-1.4zM341.3 811.0h1.4v1.4h-1.4zM341.2 812.3h1.4v1.4h-1.4zM341.6 801.4h1.4v1.4h-1.4zM340.9 803.3h1.4v1.4h-1.4zM341.8 799.5h1.4v1.4h-1.4zM340.8 805.4h1.4v1.4h-1.4zM342.8 810.6h1.4v1.4h-1.4zM342.5 800.5h1.4v1.4h-1.4zM342.1 808.1h1.4v1.4h-1.4zM342.6 808.1h1.4v1.4h-1.4zM342.1 810.6h1.4v1.4h-1.4zM344.0 809.3h1.4v1.4h-1.4zM344.3 802.2h1.4v1.4h-1.4zM344.4 805.7h1.4v1.4h-1.4zM344.4 814.6h1.4v1.4h-1.4zM344.3 810.3h1.4v1.4h-1.4zM344.0 812.0h1.4v1.4h-1.4zM343.8 810.1h1.4v1.4h-1.4zM343.6 804.6h1.4v1.4h-1.4zM344.9 814.8h1.4v1.4h-1.4zM344.6 806.5h1.4v1.4h-1.4zM344.8 817.3h1.4v1.4h-1.4zM344.6 805.9h1.4v1.4h-1.4zM346.2 813.5h1.4v1.4h-1.4zM346.5 811.1h1.4v1.4h-1.4zM347.6 808.1h1.4v1.4h-1.4zM347.7 811.5h1.4v1.4h-1.4zM347.3 816.0h1.4v1.4h-1.4zM347.8 814.6h1.4v1.4h-1.4zM348.2 810.7h1.4v1.4h-1.4zM348.9 812.6h1.4v1.4h-1.4zM349.2 811.9h1.4v1.4h-1.4zM349.6 808.6h1.4v1.4h-1.4zM348.9 810.3h1.4v1.4h-1.4zM348.9 812.1h1.4v1.4h-1.4zM348.6 818.0h1.4v1.4h-1.4zM349.2 807.2h1.4v1.4h-1.4zM350.0 806.4h1.4v1.4h-1.4zM350.2 803.2h1.4v1.4h-1.4zM350.4 809.4h1.4v1.4h-1.4zM349.9 813.4h1.4v1.4h-1.4zM349.7 809.3h1.4v1.4h-1.4zM350.3 803.0h1.4v1.4h-1.4zM351.2 807.6h1.4v1.4h-1.4zM351.1 803.5h1.4v1.4h-1.4zM351.8 814.8h1.4v1.4h-1.4zM352.1 814.8h1.4v1.4h-1.4zM353.0 819.0h1.4v1.4h-1.4zM352.3 813.0h1.4v1.4h-1.4zM352.9 806.7h1.4v1.4h-1.4zM353.5 808.1h1.4v1.4h-1.4zM352.7 808.3h1.4v1.4h-1.4zM352.6 815.4h1.4v1.4h-1.4zM352.4 810.5h1.4v1.4h-1.4zM354.8 807.9h1.4v1.4h-1.4zM353.9 817.5h1.4v1.4h-1.4zM354.0 811.5h1.4v1.4h-1.4zM354.8 812.6h1.4v1.4h-1.4zM354.3 817.6h1.4v1.4h-1.4zM354.9 817.7h1.4v1.4h-1.4zM355.4 814.5h1.4v1.4h-1.4zM356.0 816.0h1.4v1.4h-1.4zM355.4 814.8h1.4v1.4h-1.4zM355.1 816.4h1.4v1.4h-1.4zM356.0 811.1h1.4v1.4h-1.4zM355.2 812.1h1.4v1.4h-1.4zM355.3 812.4h1.4v1.4h-1.4zM355.2 812.4h1.4v1.4h-1.4zM357.3 816.6h1.4v1.4h-1.4zM357.0 808.3h1.4v1.4h-1.4zM357.1 805.9h1.4v1.4h-1.4zM356.4 814.2h1.4v1.4h-1.4zM357.1 804.0h1.4v1.4h-1.4zM358.7 812.5h1.4v1.4h-1.4zM357.8 807.8h1.4v1.4h-1.4zM357.8 807.4h1.4v1.4h-1.4zM358.0 809.5h1.4v1.4h-1.4zM357.7 809.3h1.4v1.4h-1.4zM359.4 808.2h1.4v1.4h-1.4zM359.4 810.5h1.4v1.4h-1.4zM359.6 813.5h1.4v1.4h-1.4zM359.9 809.8h1.4v1.4h-1.4zM360.6 805.4h1.4v1.4h-1.4zM360.8 809.0h1.4v1.4h-1.4zM360.3 807.3h1.4v1.4h-1.4zM360.5 808.0h1.4v1.4h-1.4zM360.7 808.8h1.4v1.4h-1.4zM360.7 806.5h1.4v1.4h-1.4zM360.4 803.1h1.4v1.4h-1.4zM361.2 800.5h1.4v1.4h-1.4zM361.4 801.9h1.4v1.4h-1.4zM362.3 804.8h1.4v1.4h-1.4zM362.4 803.3h1.4v1.4h-1.4zM361.8 805.7h1.4v1.4h-1.4zM362.6 801.5h1.4v1.4h-1.4zM363.7 808.9h1.4v1.4h-1.4zM363.7 804.0h1.4v1.4h-1.4zM362.7 806.7h1.4v1.4h-1.4zM363.7 802.1h1.4v1.4h-1.4zM363.7 804.6h1.4v1.4h-1.4zM363.1 805.9h1.4v1.4h-1.4zM363.6 809.0h1.4v1.4h-1.4zM364.3 809.0h1.4v1.4h-1.4zM364.9 807.3h1.4v1.4h-1.4zM364.9 803.7h1.4v1.4h-1.4zM364.8 806.7h1.4v1.4h-1.4zM364.4 802.5h1.4v1.4h-1.4zM364.8 802.7h1.4v1.4h-1.4zM364.4 800.5h1.4v1.4h-1.4zM365.5 806.7h1.4v1.4h-1.4zM366.0 799.5h1.4v1.4h-1.4zM367.1 799.3h1.4v1.4h-1.4zM367.2 798.8h1.4v1.4h-1.4zM367.6 809.3h1.4v1.4h-1.4zM367.0 801.8h1.4v1.4h-1.4zM366.9 799.4h1.4v1.4h-1.4zM368.2 799.1h1.4v1.4h-1.4zM368.9 807.5h1.4v1.4h-1.4zM368.1 798.7h1.4v1.4h-1.4zM368.3 800.3h1.4v1.4h-1.4zM368.7 798.0h1.4v1.4h-1.4zM368.8 804.4h1.4v1.4h-1.4zM369.8 793.6h1.4v1.4h-1.4zM370.2 797.8h1.4v1.4h-1.4zM369.2 800.5h1.4v1.4h-1.4zM370.9 795.9h1.4v1.4h-1.4zM372.8 797.3h1.4v1.4h-1.4zM372.8 801.4h1.4v1.4h-1.4zM372.2 799.6h1.4v1.4h-1.4zM372.7 801.9h1.4v1.4h-1.4zM372.6 803.6h1.4v1.4h-1.4zM373.5 802.4h1.4v1.4h-1.4zM374.1 804.1h1.4v1.4h-1.4zM375.2 792.8h1.4v1.4h-1.4zM375.1 799.6h1.4v1.4h-1.4zM374.7 802.6h1.4v1.4h-1.4zM375.3 802.0h1.4v1.4h-1.4zM374.5 793.2h1.4v1.4h-1.4zM376.5 802.4h1.4v1.4h-1.4zM376.1 795.4h1.4v1.4h-1.4zM376.7 807.9h1.4v1.4h-1.4zM376.6 799.2h1.4v1.4h-1.4zM377.7 798.2h1.4v1.4h-1.4zM377.1 802.6h1.4v1.4h-1.4zM377.7 808.0h1.4v1.4h-1.4zM378.2 804.1h1.4v1.4h-1.4zM377.6 795.7h1.4v1.4h-1.4zM379.4 793.6h1.4v1.4h-1.4zM379.0 797.7h1.4v1.4h-1.4zM378.7 801.4h1.4v1.4h-1.4zM379.4 802.2h1.4v1.4h-1.4zM378.8 801.2h1.4v1.4h-1.4zM380.2 803.2h1.4v1.4h-1.4zM379.6 813.4h1.4v1.4h-1.4zM379.6 810.9h1.4v1.4h-1.4zM379.9 795.2h1.4v1.4h-1.4zM379.9 806.0h1.4v1.4h-1.4zM380.0 797.9h1.4v1.4h-1.4zM380.1 803.8h1.4v1.4h-1.4zM381.7 808.8h1.4v1.4h-1.4zM381.0 803.9h1.4v1.4h-1.4zM381.7 816.5h1.4v1.4h-1.4zM381.7 804.1h1.4v1.4h-1.4zM380.9 799.1h1.4v1.4h-1.4zM381.8 807.8h1.4v1.4h-1.4zM382.5 808.0h1.4v1.4h-1.4zM382.3 799.5h1.4v1.4h-1.4zM383.0 808.3h1.4v1.4h-1.4zM383.2 811.3h1.4v1.4h-1.4zM383.3 808.8h1.4v1.4h-1.4zM383.6 815.3h1.4v1.4h-1.4zM384.5 807.3h1.4v1.4h-1.4zM383.8 812.5h1.4v1.4h-1.4zM383.9 810.2h1.4v1.4h-1.4zM384.7 807.9h1.4v1.4h-1.4zM383.8 814.0h1.4v1.4h-1.4zM384.6 806.7h1.4v1.4h-1.4zM384.5 805.2h1.4v1.4h-1.4zM383.7 813.2h1.4v1.4h-1.4zM385.6 809.6h1.4v1.4h-1.4zM385.6 806.7h1.4v1.4h-1.4zM385.4 808.6h1.4v1.4h-1.4zM385.2 813.3h1.4v1.4h-1.4zM385.1 816.1h1.4v1.4h-1.4zM385.6 809.8h1.4v1.4h-1.4zM385.1 814.5h1.4v1.4h-1.4zM385.4 809.9h1.4v1.4h-1.4zM385.6 800.7h1.4v1.4h-1.4zM386.4 804.6h1.4v1.4h-1.4zM387.2 810.7h1.4v1.4h-1.4zM386.7 799.7h1.4v1.4h-1.4zM386.9 799.4h1.4v1.4h-1.4zM387.0 808.6h1.4v1.4h-1.4zM386.5 811.3h1.4v1.4h-1.4zM386.3 807.2h1.4v1.4h-1.4zM386.4 814.8h1.4v1.4h-1.4zM386.8 807.4h1.4v1.4h-1.4zM387.9 814.2h1.4v1.4h-1.4zM387.8 802.4h1.4v1.4h-1.4zM387.8 806.0h1.4v1.4h-1.4zM388.2 806.3h1.4v1.4h-1.4zM387.5 805.0h1.4v1.4h-1.4zM387.6 816.7h1.4v1.4h-1.4zM389.8 808.1h1.4v1.4h-1.4zM389.4 801.4h1.4v1.4h-1.4zM389.8 801.6h1.4v1.4h-1.4zM389.8 810.7h1.4v1.4h-1.4zM389.4 808.7h1.4v1.4h-1.4zM388.9 809.2h1.4v1.4h-1.4zM389.8 802.7h1.4v1.4h-1.4zM389.1 807.6h1.4v1.4h-1.4zM390.4 802.0h1.4v1.4h-1.4zM390.3 803.3h1.4v1.4h-1.4zM391.0 797.9h1.4v1.4h-1.4zM390.6 805.5h1.4v1.4h-1.4zM391.1 807.9h1.4v1.4h-1.4zM391.1 800.6h1.4v1.4h-1.4zM390.4 807.2h1.4v1.4h-1.4zM390.5 806.7h1.4v1.4h-1.4zM390.9 803.5h1.4v1.4h-1.4zM390.2 796.0h1.4v1.4h-1.4zM390.2 810.4h1.4v1.4h-1.4zM392.5 812.1h1.4v1.4h-1.4zM391.7 803.1h1.4v1.4h-1.4zM392.4 796.2h1.4v1.4h-1.4zM391.4 797.4h1.4v1.4h-1.4zM391.3 809.5h1.4v1.4h-1.4zM391.9 806.8h1.4v1.4h-1.4zM391.9 804.6h1.4v1.4h-1.4zM393.1 802.1h1.4v1.4h-1.4zM392.9 802.5h1.4v1.4h-1.4zM392.7 798.8h1.4v1.4h-1.4zM393.7 802.7h1.4v1.4h-1.4zM393.4 805.3h1.4v1.4h-1.4zM394.2 797.0h1.4v1.4h-1.4zM394.2 800.9h1.4v1.4h-1.4zM394.0 808.9h1.4v1.4h-1.4zM395.9 803.4h1.4v1.4h-1.4zM396.0 803.4h1.4v1.4h-1.4zM395.8 807.0h1.4v1.4h-1.4zM396.0 807.6h1.4v1.4h-1.4zM395.4 804.4h1.4v1.4h-1.4zM396.0 802.6h1.4v1.4h-1.4zM395.6 798.2h1.4v1.4h-1.4zM396.7 806.3h1.4v1.4h-1.4zM397.1 804.8h1.4v1.4h-1.4zM397.0 798.5h1.4v1.4h-1.4zM397.0 805.3h1.4v1.4h-1.4zM398.2 809.0h1.4v1.4h-1.4zM398.1 799.4h1.4v1.4h-1.4zM398.3 811.6h1.4v1.4h-1.4zM400.1 800.1h1.4v1.4h-1.4zM399.6 810.1h1.4v1.4h-1.4zM399.5 806.3h1.4v1.4h-1.4zM400.2 806.6h1.4v1.4h-1.4zM401.0 806.7h1.4v1.4h-1.4zM400.4 803.8h1.4v1.4h-1.4zM401.0 813.9h1.4v1.4h-1.4zM400.7 802.5h1.4v1.4h-1.4zM401.1 807.3h1.4v1.4h-1.4zM401.2 800.2h1.4v1.4h-1.4zM401.5 816.5h1.4v1.4h-1.4zM401.0 805.1h1.4v1.4h-1.4zM401.0 806.7h1.4v1.4h-1.4zM401.8 803.3h1.4v1.4h-1.4zM402.9 814.6h1.4v1.4h-1.4zM402.0 807.6h1.4v1.4h-1.4zM402.6 812.8h1.4v1.4h-1.4zM402.0 798.7h1.4v1.4h-1.4zM402.7 815.7h1.4v1.4h-1.4zM402.2 802.5h1.4v1.4h-1.4zM403.7 812.2h1.4v1.4h-1.4zM403.2 805.6h1.4v1.4h-1.4zM403.6 806.6h1.4v1.4h-1.4zM403.9 802.3h1.4v1.4h-1.4zM404.2 807.7h1.4v1.4h-1.4zM403.7 805.1h1.4v1.4h-1.4zM403.3 812.0h1.4v1.4h-1.4zM403.9 809.1h1.4v1.4h-1.4zM403.9 804.3h1.4v1.4h-1.4zM405.3 808.5h1.4v1.4h-1.4zM404.6 808.1h1.4v1.4h-1.4zM405.5 805.6h1.4v1.4h-1.4zM405.9 811.6h1.4v1.4h-1.4zM406.5 807.9h1.4v1.4h-1.4zM406.6 804.8h1.4v1.4h-1.4zM405.7 806.7h1.4v1.4h-1.4zM405.6 806.1h1.4v1.4h-1.4zM406.7 803.6h1.4v1.4h-1.4zM406.3 811.3h1.4v1.4h-1.4zM407.7 812.2h1.4v1.4h-1.4zM408.0 800.0h1.4v1.4h-1.4zM407.0 809.4h1.4v1.4h-1.4zM407.2 811.8h1.4v1.4h-1.4zM409.1 804.0h1.4v1.4h-1.4zM409.2 812.1h1.4v1.4h-1.4zM409.9 815.3h1.4v1.4h-1.4zM410.1 815.9h1.4v1.4h-1.4zM409.8 816.2h1.4v1.4h-1.4zM409.8 807.1h1.4v1.4h-1.4zM410.5 812.9h1.4v1.4h-1.4zM410.4 801.8h1.4v1.4h-1.4zM411.2 813.8h1.4v1.4h-1.4zM411.8 808.7h1.4v1.4h-1.4zM411.5 809.4h1.4v1.4h-1.4zM411.0 801.4h1.4v1.4h-1.4zM412.2 813.5h1.4v1.4h-1.4zM412.8 813.8h1.4v1.4h-1.4zM412.6 809.1h1.4v1.4h-1.4zM412.9 808.1h1.4v1.4h-1.4zM414.4 799.9h1.4v1.4h-1.4zM414.0 811.7h1.4v1.4h-1.4zM413.9 806.1h1.4v1.4h-1.4zM413.5 803.1h1.4v1.4h-1.4zM415.7 807.5h1.4v1.4h-1.4zM414.8 809.6h1.4v1.4h-1.4zM415.8 813.9h1.4v1.4h-1.4zM415.4 809.0h1.4v1.4h-1.4zM416.7 804.4h1.4v1.4h-1.4zM416.5 812.6h1.4v1.4h-1.4zM416.7 809.0h1.4v1.4h-1.4zM416.7 807.7h1.4v1.4h-1.4zM417.0 811.2h1.4v1.4h-1.4zM417.7 815.0h1.4v1.4h-1.4zM417.6 802.8h1.4v1.4h-1.4zM417.4 809.7h1.4v1.4h-1.4zM418.1 812.0h1.4v1.4h-1.4zM417.6 809.8h1.4v1.4h-1.4zM418.3 808.2h1.4v1.4h-1.4zM419.7 814.2h1.4v1.4h-1.4zM418.6 808.2h1.4v1.4h-1.4zM418.9 810.0h1.4v1.4h-1.4zM418.8 803.7h1.4v1.4h-1.4zM420.2 806.6h1.4v1.4h-1.4zM420.5 801.8h1.4v1.4h-1.4zM420.2 810.7h1.4v1.4h-1.4zM420.7 801.8h1.4v1.4h-1.4zM420.9 811.6h1.4v1.4h-1.4zM421.0 806.9h1.4v1.4h-1.4zM422.4 810.1h1.4v1.4h-1.4zM421.4 810.9h1.4v1.4h-1.4zM422.2 811.5h1.4v1.4h-1.4zM422.3 811.3h1.4v1.4h-1.4zM422.8 803.3h1.4v1.4h-1.4zM423.2 802.9h1.4v1.4h-1.4zM422.7 813.1h1.4v1.4h-1.4zM423.2 809.8h1.4v1.4h-1.4zM424.7 809.1h1.4v1.4h-1.4zM424.2 805.9h1.4v1.4h-1.4zM424.2 803.7h1.4v1.4h-1.4zM425.2 795.8h1.4v1.4h-1.4zM425.8 796.7h1.4v1.4h-1.4zM426.0 803.7h1.4v1.4h-1.4zM426.1 800.7h1.4v1.4h-1.4zM427.6 804.7h1.4v1.4h-1.4zM426.7 798.0h1.4v1.4h-1.4zM427.5 799.6h1.4v1.4h-1.4zM427.4 792.5h1.4v1.4h-1.4zM427.3 795.0h1.4v1.4h-1.4zM426.9 804.0h1.4v1.4h-1.4zM426.6 799.5h1.4v1.4h-1.4zM426.9 795.8h1.4v1.4h-1.4zM427.9 794.3h1.4v1.4h-1.4zM427.7 803.6h1.4v1.4h-1.4zM428.8 801.3h1.4v1.4h-1.4zM428.3 800.0h1.4v1.4h-1.4zM430.1 802.6h1.4v1.4h-1.4zM429.4 802.0h1.4v1.4h-1.4zM429.0 803.8h1.4v1.4h-1.4zM430.0 794.4h1.4v1.4h-1.4zM429.2 801.8h1.4v1.4h-1.4zM429.8 800.1h1.4v1.4h-1.4zM430.7 797.0h1.4v1.4h-1.4zM430.3 800.2h1.4v1.4h-1.4zM430.6 802.6h1.4v1.4h-1.4zM431.2 802.4h1.4v1.4h-1.4zM431.0 803.3h1.4v1.4h-1.4zM430.8 797.8h1.4v1.4h-1.4zM430.9 801.2h1.4v1.4h-1.4zM432.2 798.1h1.4v1.4h-1.4zM432.2 804.0h1.4v1.4h-1.4zM433.4 790.2h1.4v1.4h-1.4zM433.8 794.4h1.4v1.4h-1.4zM433.0 799.1h1.4v1.4h-1.4zM432.9 794.2h1.4v1.4h-1.4zM433.9 796.4h1.4v1.4h-1.4zM435.0 793.5h1.4v1.4h-1.4zM435.1 794.4h1.4v1.4h-1.4zM435.3 795.6h1.4v1.4h-1.4zM434.5 797.6h1.4v1.4h-1.4zM436.1 799.3h1.4v1.4h-1.4zM436.7 798.0h1.4v1.4h-1.4zM437.1 796.8h1.4v1.4h-1.4zM436.8 794.3h1.4v1.4h-1.4zM437.6 793.5h1.4v1.4h-1.4zM439.0 796.5h1.4v1.4h-1.4zM439.2 800.7h1.4v1.4h-1.4zM438.8 788.3h1.4v1.4h-1.4zM438.1 795.8h1.4v1.4h-1.4zM440.0 795.8h1.4v1.4h-1.4zM440.0 797.7h1.4v1.4h-1.4zM440.3 796.7h1.4v1.4h-1.4zM439.4 793.0h1.4v1.4h-1.4zM440.1 795.3h1.4v1.4h-1.4zM439.6 799.7h1.4v1.4h-1.4zM440.8 792.8h1.4v1.4h-1.4zM441.4 799.7h1.4v1.4h-1.4zM440.8 799.3h1.4v1.4h-1.4zM444.2 807.8h1.4v1.4h-1.4zM443.4 802.7h1.4v1.4h-1.4zM444.4 803.1h1.4v1.4h-1.4zM444.7 805.3h1.4v1.4h-1.4zM444.8 804.5h1.4v1.4h-1.4zM445.0 804.6h1.4v1.4h-1.4zM445.4 811.0h1.4v1.4h-1.4zM445.0 805.8h1.4v1.4h-1.4zM447.0 808.4h1.4v1.4h-1.4zM447.0 808.8h1.4v1.4h-1.4zM446.4 806.4h1.4v1.4h-1.4zM446.2 809.3h1.4v1.4h-1.4zM448.1 809.9h1.4v1.4h-1.4zM447.8 808.5h1.4v1.4h-1.4zM447.6 805.4h1.4v1.4h-1.4zM448.0 811.9h1.4v1.4h-1.4zM447.9 808.5h1.4v1.4h-1.4zM447.4 809.7h1.4v1.4h-1.4zM448.8 811.6h1.4v1.4h-1.4zM449.1 809.8h1.4v1.4h-1.4zM450.4 806.1h1.4v1.4h-1.4zM450.4 807.4h1.4v1.4h-1.4zM451.0 806.2h1.4v1.4h-1.4zM450.5 810.0h1.4v1.4h-1.4zM450.3 808.1h1.4v1.4h-1.4zM451.6 815.0h1.4v1.4h-1.4zM451.8 811.9h1.4v1.4h-1.4zM451.4 812.0h1.4v1.4h-1.4zM452.3 807.7h1.4v1.4h-1.4zM454.9 807.9h1.4v1.4h-1.4zM454.6 816.1h1.4v1.4h-1.4zM455.8 811.2h1.4v1.4h-1.4zM455.7 818.8h1.4v1.4h-1.4zM455.1 813.7h1.4v1.4h-1.4zM457.1 813.9h1.4v1.4h-1.4zM456.5 815.5h1.4v1.4h-1.4zM456.4 811.6h1.4v1.4h-1.4zM456.4 814.2h1.4v1.4h-1.4zM458.1 812.7h1.4v1.4h-1.4zM458.0 814.6h1.4v1.4h-1.4zM458.2 821.1h1.4v1.4h-1.4zM457.8 817.9h1.4v1.4h-1.4zM458.6 813.2h1.4v1.4h-1.4zM458.8 815.0h1.4v1.4h-1.4zM459.5 820.5h1.4v1.4h-1.4zM459.8 814.5h1.4v1.4h-1.4zM459.1 818.0h1.4v1.4h-1.4zM461.3 819.3h1.4v1.4h-1.4zM461.3 817.8h1.4v1.4h-1.4zM460.9 817.6h1.4v1.4h-1.4zM460.3 816.8h1.4v1.4h-1.4zM461.8 811.2h1.4v1.4h-1.4zM462.6 818.1h1.4v1.4h-1.4zM462.4 822.1h1.4v1.4h-1.4zM463.7 816.3h1.4v1.4h-1.4zM463.3 817.3h1.4v1.4h-1.4zM464.2 816.1h1.4v1.4h-1.4zM464.6 821.2h1.4v1.4h-1.4zM464.6 815.1h1.4v1.4h-1.4zM466.0 814.2h1.4v1.4h-1.4zM466.4 823.9h1.4v1.4h-1.4zM467.1 820.7h1.4v1.4h-1.4zM466.8 819.3h1.4v1.4h-1.4zM468.1 817.5h1.4v1.4h-1.4zM469.0 813.1h1.4v1.4h-1.4zM468.8 822.9h1.4v1.4h-1.4zM469.9 820.1h1.4v1.4h-1.4zM470.7 817.4h1.4v1.4h-1.4zM470.9 819.4h1.4v1.4h-1.4zM472.3 821.4h1.4v1.4h-1.4zM473.0 821.0h1.4v1.4h-1.4zM472.4 822.6h1.4v1.4h-1.4zM472.6 822.1h1.4v1.4h-1.4zM473.6 822.8h1.4v1.4h-1.4zM473.9 822.5h1.4v1.4h-1.4zM475.7 821.3h1.4v1.4h-1.4zM475.1 816.6h1.4v1.4h-1.4zM475.7 823.6h1.4v1.4h-1.4zM474.5 818.8h1.4v1.4h-1.4zM475.4 822.2h1.4v1.4h-1.4zM474.5 823.4h1.4v1.4h-1.4zM475.3 823.0h1.4v1.4h-1.4zM476.6 825.7h1.4v1.4h-1.4zM476.9 819.0h1.4v1.4h-1.4zM475.8 821.6h1.4v1.4h-1.4zM477.7 818.7h1.4v1.4h-1.4zM477.7 823.4h1.4v1.4h-1.4zM478.6 822.2h1.4v1.4h-1.4zM479.4 824.5h1.4v1.4h-1.4zM480.3 824.6h1.4v1.4h-1.4zM480.8 826.4h1.4v1.4h-1.4zM480.5 826.8h1.4v1.4h-1.4zM482.0 830.9h1.4v1.4h-1.4zM481.6 826.2h1.4v1.4h-1.4zM482.6 820.3h1.4v1.4h-1.4zM482.6 825.0h1.4v1.4h-1.4zM482.4 824.7h1.4v1.4h-1.4zM482.3 826.2h1.4v1.4h-1.4zM483.2 822.5h1.4v1.4h-1.4zM482.7 825.8h1.4v1.4h-1.4zM484.1 824.3h1.4v1.4h-1.4zM484.7 822.5h1.4v1.4h-1.4zM484.1 823.5h1.4v1.4h-1.4zM483.9 821.0h1.4v1.4h-1.4zM484.7 818.8h1.4v1.4h-1.4zM484.3 821.3h1.4v1.4h-1.4zM483.6 819.7h1.4v1.4h-1.4zM484.4 827.3h1.4v1.4h-1.4zM486.1 828.8h1.4v1.4h-1.4zM485.1 819.1h1.4v1.4h-1.4zM485.2 822.7h1.4v1.4h-1.4zM485.1 828.4h1.4v1.4h-1.4zM485.8 829.6h1.4v1.4h-1.4zM486.4 823.7h1.4v1.4h-1.4zM487.3 827.9h1.4v1.4h-1.4zM486.8 819.1h1.4v1.4h-1.4zM487.0 826.8h1.4v1.4h-1.4zM487.6 832.7h1.4v1.4h-1.4zM488.5 827.5h1.4v1.4h-1.4zM488.0 827.3h1.4v1.4h-1.4zM487.7 833.0h1.4v1.4h-1.4zM487.8 822.5h1.4v1.4h-1.4zM487.6 829.1h1.4v1.4h-1.4zM489.9 827.5h1.4v1.4h-1.4zM489.5 815.4h1.4v1.4h-1.4zM489.0 826.2h1.4v1.4h-1.4zM489.1 824.8h1.4v1.4h-1.4zM489.0 824.7h1.4v1.4h-1.4zM489.3 827.4h1.4v1.4h-1.4zM491.3 820.4h1.4v1.4h-1.4zM490.3 828.5h1.4v1.4h-1.4zM490.6 824.2h1.4v1.4h-1.4zM490.4 830.4h1.4v1.4h-1.4zM490.4 830.5h1.4v1.4h-1.4zM491.3 825.3h1.4v1.4h-1.4zM490.8 820.6h1.4v1.4h-1.4zM491.4 831.7h1.4v1.4h-1.4zM492.3 826.7h1.4v1.4h-1.4zM491.5 827.0h1.4v1.4h-1.4zM491.8 820.7h1.4v1.4h-1.4zM491.7 828.7h1.4v1.4h-1.4zM492.7 820.3h1.4v1.4h-1.4zM493.6 829.7h1.4v1.4h-1.4zM493.1 826.7h1.4v1.4h-1.4zM493.8 828.3h1.4v1.4h-1.4zM494.7 821.9h1.4v1.4h-1.4zM494.3 824.8h1.4v1.4h-1.4zM494.3 830.5h1.4v1.4h-1.4zM494.9 827.6h1.4v1.4h-1.4zM495.0 819.9h1.4v1.4h-1.4zM494.2 826.3h1.4v1.4h-1.4zM495.2 834.0h1.4v1.4h-1.4zM494.7 822.9h1.4v1.4h-1.4zM496.3 834.5h1.4v1.4h-1.4zM495.7 829.7h1.4v1.4h-1.4zM495.6 831.2h1.4v1.4h-1.4zM495.7 826.6h1.4v1.4h-1.4zM496.3 826.6h1.4v1.4h-1.4zM495.7 828.2h1.4v1.4h-1.4zM496.3 827.5h1.4v1.4h-1.4zM495.9 818.2h1.4v1.4h-1.4zM495.5 820.3h1.4v1.4h-1.4zM495.8 826.3h1.4v1.4h-1.4zM495.8 823.9h1.4v1.4h-1.4zM496.9 825.0h1.4v1.4h-1.4zM497.4 820.8h1.4v1.4h-1.4zM497.6 822.4h1.4v1.4h-1.4zM496.9 825.1h1.4v1.4h-1.4zM497.2 829.3h1.4v1.4h-1.4zM499.0 834.6h1.4v1.4h-1.4zM498.5 831.0h1.4v1.4h-1.4zM498.5 836.2h1.4v1.4h-1.4zM498.6 824.7h1.4v1.4h-1.4zM498.3 820.1h1.4v1.4h-1.4zM498.5 833.4h1.4v1.4h-1.4zM499.9 826.5h1.4v1.4h-1.4zM500.2 824.6h1.4v1.4h-1.4zM499.4 820.6h1.4v1.4h-1.4zM499.7 831.3h1.4v1.4h-1.4zM499.4 833.2h1.4v1.4h-1.4zM499.5 828.5h1.4v1.4h-1.4zM500.3 830.1h1.4v1.4h-1.4zM499.2 831.8h1.4v1.4h-1.4zM501.2 825.1h1.4v1.4h-1.4zM500.9 825.0h1.4v1.4h-1.4zM500.8 827.9h1.4v1.4h-1.4zM500.8 826.6h1.4v1.4h-1.4zM502.7 830.1h1.4v1.4h-1.4zM503.8 830.7h1.4v1.4h-1.4zM504.2 832.5h1.4v1.4h-1.4zM504.0 826.2h1.4v1.4h-1.4zM503.6 830.2h1.4v1.4h-1.4zM504.2 833.1h1.4v1.4h-1.4zM504.1 829.8h1.4v1.4h-1.4zM505.2 831.8h1.4v1.4h-1.4zM504.6 827.0h1.4v1.4h-1.4zM504.7 828.7h1.4v1.4h-1.4zM505.2 831.9h1.4v1.4h-1.4zM504.8 826.2h1.4v1.4h-1.4zM505.3 821.8h1.4v1.4h-1.4zM506.8 830.3h1.4v1.4h-1.4zM506.3 832.2h1.4v1.4h-1.4zM507.7 831.2h1.4v1.4h-1.4zM507.2 832.2h1.4v1.4h-1.4zM507.9 834.5h1.4v1.4h-1.4zM507.4 829.8h1.4v1.4h-1.4zM509.3 834.0h1.4v1.4h-1.4zM508.8 832.7h1.4v1.4h-1.4zM509.0 830.6h1.4v1.4h-1.4zM508.4 834.5h1.4v1.4h-1.4zM509.9 826.0h1.4v1.4h-1.4zM510.3 830.5h1.4v1.4h-1.4zM510.2 835.4h1.4v1.4h-1.4zM509.8 828.4h1.4v1.4h-1.4zM510.0 834.5h1.4v1.4h-1.4zM511.0 843.8h1.4v1.4h-1.4zM512.1 825.3h1.4v1.4h-1.4zM512.0 832.5h1.4v1.4h-1.4zM512.0 834.0h1.4v1.4h-1.4zM511.9 833.3h1.4v1.4h-1.4zM513.1 840.7h1.4v1.4h-1.4zM513.2 840.2h1.4v1.4h-1.4zM512.9 832.7h1.4v1.4h-1.4zM512.6 829.4h1.4v1.4h-1.4zM512.7 826.4h1.4v1.4h-1.4zM514.4 838.3h1.4v1.4h-1.4zM514.5 836.6h1.4v1.4h-1.4zM513.9 835.1h1.4v1.4h-1.4zM515.7 838.8h1.4v1.4h-1.4zM515.5 838.6h1.4v1.4h-1.4zM515.1 827.4h1.4v1.4h-1.4zM515.8 839.1h1.4v1.4h-1.4zM515.8 841.2h1.4v1.4h-1.4zM515.1 832.2h1.4v1.4h-1.4zM515.9 834.1h1.4v1.4h-1.4zM514.8 838.2h1.4v1.4h-1.4zM517.2 842.5h1.4v1.4h-1.4zM516.1 848.3h1.4v1.4h-1.4zM517.2 838.4h1.4v1.4h-1.4zM516.4 837.4h1.4v1.4h-1.4zM516.7 845.5h1.4v1.4h-1.4zM516.5 844.5h1.4v1.4h-1.4zM517.8 842.7h1.4v1.4h-1.4zM518.2 839.7h1.4v1.4h-1.4zM517.4 830.5h1.4v1.4h-1.4zM517.8 843.6h1.4v1.4h-1.4zM517.8 847.7h1.4v1.4h-1.4zM519.0 843.6h1.4v1.4h-1.4zM519.5 855.8h1.4v1.4h-1.4zM519.6 847.9h1.4v1.4h-1.4zM519.5 837.9h1.4v1.4h-1.4zM519.2 847.2h1.4v1.4h-1.4zM521.1 841.1h1.4v1.4h-1.4zM520.4 838.4h1.4v1.4h-1.4zM520.0 846.8h1.4v1.4h-1.4zM520.7 850.6h1.4v1.4h-1.4zM520.7 842.9h1.4v1.4h-1.4zM520.7 857.2h1.4v1.4h-1.4zM520.2 845.8h1.4v1.4h-1.4zM520.1 839.5h1.4v1.4h-1.4zM522.1 845.4h1.4v1.4h-1.4zM521.8 857.4h1.4v1.4h-1.4zM521.7 855.3h1.4v1.4h-1.4zM521.5 852.5h1.4v1.4h-1.4zM521.5 859.6h1.4v1.4h-1.4zM521.6 855.7h1.4v1.4h-1.4zM523.3 849.1h1.4v1.4h-1.4zM523.5 856.4h1.4v1.4h-1.4zM523.4 842.3h1.4v1.4h-1.4zM523.4 843.3h1.4v1.4h-1.4zM523.7 843.1h1.4v1.4h-1.4zM523.1 846.4h1.4v1.4h-1.4zM523.1 848.0h1.4v1.4h-1.4zM522.7 856.3h1.4v1.4h-1.4zM524.1 838.9h1.4v1.4h-1.4zM524.6 850.4h1.4v1.4h-1.4zM523.9 851.5h1.4v1.4h-1.4zM524.6 851.0h1.4v1.4h-1.4zM524.0 851.4h1.4v1.4h-1.4zM524.5 855.2h1.4v1.4h-1.4zM526.1 861.7h1.4v1.4h-1.4zM525.9 855.2h1.4v1.4h-1.4zM525.9 854.0h1.4v1.4h-1.4zM525.4 855.6h1.4v1.4h-1.4zM525.9 856.8h1.4v1.4h-1.4zM526.2 859.2h1.4v1.4h-1.4zM525.3 846.7h1.4v1.4h-1.4zM525.4 861.8h1.4v1.4h-1.4zM526.1 849.2h1.4v1.4h-1.4zM526.2 850.3h1.4v1.4h-1.4zM525.7 845.6h1.4v1.4h-1.4zM527.5 849.5h1.4v1.4h-1.4zM526.7 850.0h1.4v1.4h-1.4zM527.1 839.8h1.4v1.4h-1.4zM527.1 842.9h1.4v1.4h-1.4zM526.9 845.5h1.4v1.4h-1.4zM526.5 855.9h1.4v1.4h-1.4zM529.0 846.0h1.4v1.4h-1.4zM528.6 858.1h1.4v1.4h-1.4zM528.7 852.3h1.4v1.4h-1.4zM528.8 844.8h1.4v1.4h-1.4zM529.0 855.7h1.4v1.4h-1.4zM528.1 849.1h1.4v1.4h-1.4zM528.9 857.2h1.4v1.4h-1.4zM527.9 837.0h1.4v1.4h-1.4zM529.8 856.2h1.4v1.4h-1.4zM529.5 842.6h1.4v1.4h-1.4zM530.0 851.0h1.4v1.4h-1.4zM530.2 857.6h1.4v1.4h-1.4zM529.2 847.8h1.4v1.4h-1.4zM529.8 858.9h1.4v1.4h-1.4zM529.4 851.8h1.4v1.4h-1.4zM529.4 848.3h1.4v1.4h-1.4zM529.3 837.6h1.4v1.4h-1.4zM530.9 857.3h1.4v1.4h-1.4zM530.7 841.6h1.4v1.4h-1.4zM530.5 863.3h1.4v1.4h-1.4zM531.0 851.5h1.4v1.4h-1.4zM531.6 839.7h1.4v1.4h-1.4zM531.0 853.9h1.4v1.4h-1.4zM530.6 848.9h1.4v1.4h-1.4zM531.5 851.7h1.4v1.4h-1.4zM530.7 839.5h1.4v1.4h-1.4zM532.4 851.8h1.4v1.4h-1.4zM531.7 861.8h1.4v1.4h-1.4zM532.3 847.6h1.4v1.4h-1.4zM532.0 857.3h1.4v1.4h-1.4zM532.3 851.6h1.4v1.4h-1.4zM532.3 849.5h1.4v1.4h-1.4zM532.7 864.8h1.4v1.4h-1.4zM531.7 844.0h1.4v1.4h-1.4zM532.7 859.6h1.4v1.4h-1.4zM532.4 857.1h1.4v1.4h-1.4zM532.5 861.9h1.4v1.4h-1.4zM532.8 858.0h1.4v1.4h-1.4zM532.6 849.2h1.4v1.4h-1.4zM533.0 871.4h1.4v1.4h-1.4zM534.2 851.5h1.4v1.4h-1.4zM534.0 860.7h1.4v1.4h-1.4zM533.1 849.8h1.4v1.4h-1.4zM533.4 852.7h1.4v1.4h-1.4zM534.1 861.2h1.4v1.4h-1.4zM533.1 850.4h1.4v1.4h-1.4zM534.0 871.3h1.4v1.4h-1.4zM535.5 863.0h1.4v1.4h-1.4zM535.0 851.7h1.4v1.4h-1.4zM534.5 845.3h1.4v1.4h-1.4zM534.7 849.8h1.4v1.4h-1.4zM535.4 855.5h1.4v1.4h-1.4zM534.9 857.4h1.4v1.4h-1.4zM535.0 843.7h1.4v1.4h-1.4zM536.6 877.2h1.4v1.4h-1.4zM535.7 849.5h1.4v1.4h-1.4zM536.4 858.1h1.4v1.4h-1.4zM535.8 877.2h1.4v1.4h-1.4zM535.7 854.1h1.4v1.4h-1.4zM536.1 870.1h1.4v1.4h-1.4zM535.7 866.8h1.4v1.4h-1.4zM535.7 855.5h1.4v1.4h-1.4zM536.0 860.1h1.4v1.4h-1.4zM536.7 848.0h1.4v1.4h-1.4zM536.0 859.3h1.4v1.4h-1.4zM535.8 844.7h1.4v1.4h-1.4zM536.5 866.1h1.4v1.4h-1.4zM535.6 857.3h1.4v1.4h-1.4zM535.8 856.2h1.4v1.4h-1.4zM536.5 858.2h1.4v1.4h-1.4zM536.0 876.3h1.4v1.4h-1.4zM536.6 856.1h1.4v1.4h-1.4zM537.4 856.0h1.4v1.4h-1.4zM537.1 840.3h1.4v1.4h-1.4zM537.0 855.0h1.4v1.4h-1.4zM537.8 853.0h1.4v1.4h-1.4zM537.7 855.4h1.4v1.4h-1.4zM536.9 840.3h1.4v1.4h-1.4zM538.0 849.5h1.4v1.4h-1.4zM537.3 850.9h1.4v1.4h-1.4zM538.0 855.0h1.4v1.4h-1.4zM537.8 847.7h1.4v1.4h-1.4zM538.0 844.9h1.4v1.4h-1.4zM537.1 844.5h1.4v1.4h-1.4z"/>
<path fill="#4A5352" opacity="0.9" d="M106.4 763.6h1.4v1.4h-1.4zM109.1 766.6h1.4v1.4h-1.4zM109.5 761.6h1.4v1.4h-1.4zM110.7 767.0h1.4v1.4h-1.4zM110.8 767.7h1.4v1.4h-1.4zM110.8 766.2h1.4v1.4h-1.4zM110.8 765.2h1.4v1.4h-1.4zM111.1 768.7h1.4v1.4h-1.4zM112.0 767.9h1.4v1.4h-1.4zM113.0 762.8h1.4v1.4h-1.4zM114.2 761.0h1.4v1.4h-1.4zM114.5 762.5h1.4v1.4h-1.4zM115.9 768.1h1.4v1.4h-1.4zM117.0 765.2h1.4v1.4h-1.4zM118.6 774.5h1.4v1.4h-1.4zM118.4 768.7h1.4v1.4h-1.4zM119.5 765.6h1.4v1.4h-1.4zM120.4 768.5h1.4v1.4h-1.4zM120.1 769.1h1.4v1.4h-1.4zM121.9 768.1h1.4v1.4h-1.4zM123.0 766.3h1.4v1.4h-1.4zM122.9 763.8h1.4v1.4h-1.4zM123.2 762.2h1.4v1.4h-1.4zM126.3 764.6h1.4v1.4h-1.4zM129.3 764.2h1.4v1.4h-1.4zM129.4 763.9h1.4v1.4h-1.4zM131.0 761.8h1.4v1.4h-1.4zM130.6 764.3h1.4v1.4h-1.4zM131.8 763.9h1.4v1.4h-1.4zM133.2 765.9h1.4v1.4h-1.4zM133.3 762.9h1.4v1.4h-1.4zM134.5 760.5h1.4v1.4h-1.4zM136.3 764.7h1.4v1.4h-1.4zM136.9 760.3h1.4v1.4h-1.4zM137.1 762.0h1.4v1.4h-1.4zM138.9 763.3h1.4v1.4h-1.4zM139.0 768.9h1.4v1.4h-1.4zM140.4 766.3h1.4v1.4h-1.4zM141.7 771.6h1.4v1.4h-1.4zM141.6 767.0h1.4v1.4h-1.4zM143.4 765.9h1.4v1.4h-1.4zM143.1 766.9h1.4v1.4h-1.4zM143.0 769.0h1.4v1.4h-1.4zM146.9 769.7h1.4v1.4h-1.4zM147.2 768.1h1.4v1.4h-1.4zM147.9 773.3h1.4v1.4h-1.4zM148.3 770.1h1.4v1.4h-1.4zM150.7 769.5h1.4v1.4h-1.4zM150.6 776.8h1.4v1.4h-1.4zM152.0 771.9h1.4v1.4h-1.4zM153.8 771.5h1.4v1.4h-1.4zM154.7 771.6h1.4v1.4h-1.4zM155.7 772.1h1.4v1.4h-1.4zM156.7 772.5h1.4v1.4h-1.4zM157.0 769.5h1.4v1.4h-1.4zM157.2 764.7h1.4v1.4h-1.4zM157.8 773.0h1.4v1.4h-1.4zM158.4 767.7h1.4v1.4h-1.4zM159.5 771.2h1.4v1.4h-1.4zM159.2 769.3h1.4v1.4h-1.4zM160.4 765.9h1.4v1.4h-1.4zM161.5 767.2h1.4v1.4h-1.4zM162.3 762.5h1.4v1.4h-1.4zM162.6 769.3h1.4v1.4h-1.4zM162.3 762.0h1.4v1.4h-1.4zM163.2 766.1h1.4v1.4h-1.4zM163.9 767.2h1.4v1.4h-1.4zM164.4 768.2h1.4v1.4h-1.4zM165.7 766.4h1.4v1.4h-1.4zM166.9 759.2h1.4v1.4h-1.4zM166.1 766.4h1.4v1.4h-1.4zM167.9 762.6h1.4v1.4h-1.4zM167.4 762.2h1.4v1.4h-1.4zM169.0 760.7h1.4v1.4h-1.4zM169.9 759.5h1.4v1.4h-1.4zM171.6 757.7h1.4v1.4h-1.4zM172.1 762.1h1.4v1.4h-1.4zM172.7 760.2h1.4v1.4h-1.4zM173.7 757.2h1.4v1.4h-1.4zM174.6 752.4h1.4v1.4h-1.4zM174.5 755.2h1.4v1.4h-1.4zM174.0 758.6h1.4v1.4h-1.4zM175.0 753.3h1.4v1.4h-1.4zM176.1 757.1h1.4v1.4h-1.4zM175.3 757.6h1.4v1.4h-1.4zM177.5 753.6h1.4v1.4h-1.4zM178.6 756.4h1.4v1.4h-1.4zM178.7 748.6h1.4v1.4h-1.4zM178.8 755.6h1.4v1.4h-1.4zM180.1 756.0h1.4v1.4h-1.4zM180.0 753.4h1.4v1.4h-1.4zM181.7 752.9h1.4v1.4h-1.4zM180.9 752.3h1.4v1.4h-1.4zM183.0 754.8h1.4v1.4h-1.4zM183.7 752.1h1.4v1.4h-1.4zM185.0 748.0h1.4v1.4h-1.4zM184.9 752.5h1.4v1.4h-1.4zM184.4 751.9h1.4v1.4h-1.4zM185.5 753.3h1.4v1.4h-1.4zM186.3 748.9h1.4v1.4h-1.4zM187.6 743.1h1.4v1.4h-1.4zM188.0 753.9h1.4v1.4h-1.4zM188.7 747.2h1.4v1.4h-1.4zM189.8 747.5h1.4v1.4h-1.4zM190.6 748.0h1.4v1.4h-1.4zM191.0 747.9h1.4v1.4h-1.4zM194.0 747.7h1.4v1.4h-1.4zM194.3 745.4h1.4v1.4h-1.4zM195.1 744.4h1.4v1.4h-1.4zM195.1 745.6h1.4v1.4h-1.4zM196.2 744.3h1.4v1.4h-1.4zM196.9 747.7h1.4v1.4h-1.4zM196.9 744.2h1.4v1.4h-1.4zM198.5 748.5h1.4v1.4h-1.4zM198.9 747.1h1.4v1.4h-1.4zM199.9 744.0h1.4v1.4h-1.4zM200.2 743.2h1.4v1.4h-1.4zM200.4 746.5h1.4v1.4h-1.4zM201.8 746.6h1.4v1.4h-1.4zM201.9 749.4h1.4v1.4h-1.4zM203.6 744.9h1.4v1.4h-1.4zM204.8 745.9h1.4v1.4h-1.4zM204.6 749.1h1.4v1.4h-1.4zM205.6 748.4h1.4v1.4h-1.4zM205.4 745.8h1.4v1.4h-1.4zM206.7 747.5h1.4v1.4h-1.4zM207.7 746.3h1.4v1.4h-1.4zM208.8 747.9h1.4v1.4h-1.4zM208.9 749.8h1.4v1.4h-1.4zM209.3 746.8h1.4v1.4h-1.4zM209.3 748.6h1.4v1.4h-1.4zM210.3 749.4h1.4v1.4h-1.4zM211.5 752.9h1.4v1.4h-1.4zM210.9 749.1h1.4v1.4h-1.4zM211.7 751.6h1.4v1.4h-1.4zM211.5 747.6h1.4v1.4h-1.4zM213.0 751.2h1.4v1.4h-1.4zM213.7 750.6h1.4v1.4h-1.4zM214.5 750.1h1.4v1.4h-1.4zM215.9 749.9h1.4v1.4h-1.4zM216.7 755.4h1.4v1.4h-1.4zM216.9 750.6h1.4v1.4h-1.4zM218.4 754.4h1.4v1.4h-1.4zM221.5 757.0h1.4v1.4h-1.4zM222.1 761.5h1.4v1.4h-1.4zM223.5 760.1h1.4v1.4h-1.4zM223.9 756.1h1.4v1.4h-1.4zM225.0 755.5h1.4v1.4h-1.4zM224.4 759.2h1.4v1.4h-1.4zM225.6 760.0h1.4v1.4h-1.4zM225.9 759.6h1.4v1.4h-1.4zM226.0 760.8h1.4v1.4h-1.4zM224.9 760.9h1.4v1.4h-1.4zM227.1 762.5h1.4v1.4h-1.4zM227.5 761.2h1.4v1.4h-1.4zM228.9 764.2h1.4v1.4h-1.4zM229.1 762.3h1.4v1.4h-1.4zM231.5 768.5h1.4v1.4h-1.4zM231.5 769.4h1.4v1.4h-1.4zM232.2 763.5h1.4v1.4h-1.4zM232.1 767.5h1.4v1.4h-1.4zM233.0 770.9h1.4v1.4h-1.4zM235.0 764.4h1.4v1.4h-1.4zM235.4 767.6h1.4v1.4h-1.4zM237.0 773.1h1.4v1.4h-1.4zM239.0 766.7h1.4v1.4h-1.4zM238.9 770.9h1.4v1.4h-1.4zM239.5 769.5h1.4v1.4h-1.4zM240.5 775.1h1.4v1.4h-1.4zM241.1 769.2h1.4v1.4h-1.4zM240.3 769.2h1.4v1.4h-1.4zM241.9 773.9h1.4v1.4h-1.4zM242.0 775.3h1.4v1.4h-1.4zM243.7 771.2h1.4v1.4h-1.4zM244.1 772.9h1.4v1.4h-1.4zM244.6 774.3h1.4v1.4h-1.4zM244.3 774.0h1.4v1.4h-1.4zM244.8 773.6h1.4v1.4h-1.4zM244.2 774.8h1.4v1.4h-1.4zM244.7 773.9h1.4v1.4h-1.4zM245.8 770.2h1.4v1.4h-1.4zM245.9 773.6h1.4v1.4h-1.4zM245.7 769.4h1.4v1.4h-1.4zM245.7 771.5h1.4v1.4h-1.4zM246.4 771.9h1.4v1.4h-1.4zM245.6 771.5h1.4v1.4h-1.4zM245.6 777.2h1.4v1.4h-1.4zM245.9 772.8h1.4v1.4h-1.4zM246.3 775.1h1.4v1.4h-1.4zM246.2 773.3h1.4v1.4h-1.4zM246.3 771.7h1.4v1.4h-1.4zM246.4 777.6h1.4v1.4h-1.4zM246.5 774.9h1.4v1.4h-1.4zM246.5 772.0h1.4v1.4h-1.4zM247.4 776.4h1.4v1.4h-1.4zM246.3 774.0h1.4v1.4h-1.4zM247.4 777.5h1.4v1.4h-1.4zM248.2 772.6h1.4v1.4h-1.4zM247.4 772.3h1.4v1.4h-1.4zM249.1 776.6h1.4v1.4h-1.4zM248.2 778.3h1.4v1.4h-1.4zM248.9 779.4h1.4v1.4h-1.4zM248.8 775.0h1.4v1.4h-1.4zM248.3 773.8h1.4v1.4h-1.4zM248.4 775.9h1.4v1.4h-1.4zM248.9 773.8h1.4v1.4h-1.4zM248.4 774.6h1.4v1.4h-1.4zM249.4 775.1h1.4v1.4h-1.4zM249.7 775.0h1.4v1.4h-1.4zM249.4 776.8h1.4v1.4h-1.4zM249.8 771.8h1.4v1.4h-1.4zM249.7 776.3h1.4v1.4h-1.4zM249.4 776.5h1.4v1.4h-1.4zM250.1 775.3h1.4v1.4h-1.4zM250.3 778.0h1.4v1.4h-1.4zM250.4 770.9h1.4v1.4h-1.4zM250.7 776.3h1.4v1.4h-1.4zM250.9 777.3h1.4v1.4h-1.4zM251.4 775.3h1.4v1.4h-1.4zM250.4 774.6h1.4v1.4h-1.4zM251.3 776.2h1.4v1.4h-1.4zM250.8 775.8h1.4v1.4h-1.4zM251.4 771.5h1.4v1.4h-1.4zM251.2 773.1h1.4v1.4h-1.4zM251.1 778.1h1.4v1.4h-1.4zM251.2 775.5h1.4v1.4h-1.4zM251.9 781.0h1.4v1.4h-1.4zM251.5 773.2h1.4v1.4h-1.4zM252.2 780.1h1.4v1.4h-1.4zM252.4 780.5h1.4v1.4h-1.4zM252.3 777.6h1.4v1.4h-1.4zM252.5 776.6h1.4v1.4h-1.4zM252.2 774.6h1.4v1.4h-1.4zM252.9 776.0h1.4v1.4h-1.4zM253.5 778.1h1.4v1.4h-1.4zM252.9 779.9h1.4v1.4h-1.4zM253.2 773.2h1.4v1.4h-1.4zM252.9 780.1h1.4v1.4h-1.4zM253.6 783.1h1.4v1.4h-1.4zM253.7 777.4h1.4v1.4h-1.4zM253.3 779.0h1.4v1.4h-1.4zM253.0 781.4h1.4v1.4h-1.4zM253.3 775.1h1.4v1.4h-1.4zM254.6 774.9h1.4v1.4h-1.4zM253.7 777.7h1.4v1.4h-1.4zM254.4 782.3h1.4v1.4h-1.4zM253.9 774.4h1.4v1.4h-1.4zM254.1 777.6h1.4v1.4h-1.4zM254.1 775.5h1.4v1.4h-1.4zM254.5 777.8h1.4v1.4h-1.4zM253.9 774.0h1.4v1.4h-1.4zM255.1 780.7h1.4v1.4h-1.4zM254.5 777.6h1.4v1.4h-1.4zM254.9 772.8h1.4v1.4h-1.4zM255.9 782.5h1.4v1.4h-1.4zM256.1 774.3h1.4v1.4h-1.4zM256.1 774.4h1.4v1.4h-1.4zM256.0 776.6h1.4v1.4h-1.4zM255.1 773.4h1.4v1.4h-1.4zM255.9 775.4h1.4v1.4h-1.4zM256.0 780.0h1.4v1.4h-1.4zM255.6 772.9h1.4v1.4h-1.4zM256.2 781.8h1.4v1.4h-1.4zM256.9 778.0h1.4v1.4h-1.4zM256.3 778.6h1.4v1.4h-1.4zM257.0 783.3h1.4v1.4h-1.4zM256.8 777.0h1.4v1.4h-1.4zM256.7 778.7h1.4v1.4h-1.4zM256.9 784.7h1.4v1.4h-1.4zM257.2 785.3h1.4v1.4h-1.4zM257.0 771.3h1.4v1.4h-1.4zM257.8 774.2h1.4v1.4h-1.4zM257.1 784.1h1.4v1.4h-1.4zM257.5 778.4h1.4v1.4h-1.4zM257.4 783.3h1.4v1.4h-1.4zM257.2 774.3h1.4v1.4h-1.4zM257.4 776.6h1.4v1.4h-1.4zM257.6 781.4h1.4v1.4h-1.4zM258.1 772.0h1.4v1.4h-1.4zM258.5 777.4h1.4v1.4h-1.4zM258.2 776.0h1.4v1.4h-1.4zM258.0 780.3h1.4v1.4h-1.4zM257.5 776.1h1.4v1.4h-1.4zM257.6 780.3h1.4v1.4h-1.4zM258.7 781.4h1.4v1.4h-1.4zM257.6 770.7h1.4v1.4h-1.4zM257.8 782.1h1.4v1.4h-1.4zM258.9 779.2h1.4v1.4h-1.4zM259.4 777.4h1.4v1.4h-1.4zM259.4 777.9h1.4v1.4h-1.4zM258.5 780.0h1.4v1.4h-1.4zM259.1 777.8h1.4v1.4h-1.4zM259.0 783.1h1.4v1.4h-1.4zM259.2 775.2h1.4v1.4h-1.4zM258.4 777.5h1.4v1.4h-1.4zM260.0 772.3h1.4v1.4h-1.4zM260.1 777.5h1.4v1.4h-1.4zM259.9 771.5h1.4v1.4h-1.4zM259.7 776.3h1.4v1.4h-1.4zM259.5 783.2h1.4v1.4h-1.4zM260.6 773.3h1.4v1.4h-1.4zM260.4 782.8h1.4v1.4h-1.4zM260.2 785.3h1.4v1.4h-1.4zM260.5 777.8h1.4v1.4h-1.4zM261.0 785.9h1.4v1.4h-1.4zM261.8 775.1h1.4v1.4h-1.4zM261.5 779.5h1.4v1.4h-1.4zM261.1 777.0h1.4v1.4h-1.4zM261.5 783.6h1.4v1.4h-1.4zM261.8 782.3h1.4v1.4h-1.4zM261.7 775.6h1.4v1.4h-1.4zM262.5 777.7h1.4v1.4h-1.4zM261.8 778.0h1.4v1.4h-1.4zM262.1 780.3h1.4v1.4h-1.4zM261.5 780.7h1.4v1.4h-1.4zM261.8 774.3h1.4v1.4h-1.4zM262.4 773.0h1.4v1.4h-1.4zM261.9 777.7h1.4v1.4h-1.4zM262.4 772.7h1.4v1.4h-1.4zM262.4 777.4h1.4v1.4h-1.4zM262.3 773.0h1.4v1.4h-1.4zM261.8 777.3h1.4v1.4h-1.4zM262.5 778.1h1.4v1.4h-1.4zM262.1 779.5h1.4v1.4h-1.4zM261.7 778.5h1.4v1.4h-1.4zM262.3 782.6h1.4v1.4h-1.4zM262.8 780.9h1.4v1.4h-1.4zM263.2 773.1h1.4v1.4h-1.4zM263.4 782.0h1.4v1.4h-1.4zM263.3 774.5h1.4v1.4h-1.4zM263.1 783.7h1.4v1.4h-1.4zM263.3 780.7h1.4v1.4h-1.4zM263.2 775.8h1.4v1.4h-1.4zM263.3 785.8h1.4v1.4h-1.4zM264.1 776.5h1.4v1.4h-1.4zM263.5 778.4h1.4v1.4h-1.4zM264.1 776.2h1.4v1.4h-1.4zM263.2 782.8h1.4v1.4h-1.4zM264.2 776.9h1.4v1.4h-1.4zM263.7 775.0h1.4v1.4h-1.4zM263.4 780.3h1.4v1.4h-1.4zM263.5 776.2h1.4v1.4h-1.4zM263.5 774.8h1.4v1.4h-1.4zM264.2 777.5h1.4v1.4h-1.4zM263.1 779.6h1.4v1.4h-1.4zM263.7 771.5h1.4v1.4h-1.4zM264.1 783.5h1.4v1.4h-1.4zM264.5 778.1h1.4v1.4h-1.4zM264.9 779.3h1.4v1.4h-1.4zM264.7 776.3h1.4v1.4h-1.4zM264.4 776.8h1.4v1.4h-1.4zM264.3 778.2h1.4v1.4h-1.4zM264.1 780.1h1.4v1.4h-1.4zM264.1 784.1h1.4v1.4h-1.4zM265.9 780.2h1.4v1.4h-1.4zM265.1 778.1h1.4v1.4h-1.4zM265.0 774.5h1.4v1.4h-1.4zM265.6 777.1h1.4v1.4h-1.4zM265.1 773.9h1.4v1.4h-1.4zM266.3 785.3h1.4v1.4h-1.4zM266.3 779.3h1.4v1.4h-1.4zM266.5 784.5h1.4v1.4h-1.4zM266.2 781.3h1.4v1.4h-1.4zM266.6 782.7h1.4v1.4h-1.4zM265.5 781.9h1.4v1.4h-1.4zM266.6 782.2h1.4v1.4h-1.4zM266.5 781.1h1.4v1.4h-1.4zM266.8 787.1h1.4v1.4h-1.4zM266.6 783.1h1.4v1.4h-1.4zM267.3 780.8h1.4v1.4h-1.4zM267.3 780.1h1.4v1.4h-1.4zM267.2 784.8h1.4v1.4h-1.4zM266.6 781.9h1.4v1.4h-1.4zM267.7 780.7h1.4v1.4h-1.4zM267.3 786.6h1.4v1.4h-1.4zM268.2 783.2h1.4v1.4h-1.4zM268.0 780.3h1.4v1.4h-1.4zM267.3 787.0h1.4v1.4h-1.4zM267.5 783.5h1.4v1.4h-1.4zM267.5 776.8h1.4v1.4h-1.4zM267.7 776.2h1.4v1.4h-1.4zM267.9 780.6h1.4v1.4h-1.4zM267.3 776.9h1.4v1.4h-1.4zM268.2 776.8h1.4v1.4h-1.4zM269.0 777.2h1.4v1.4h-1.4zM270.8 783.7h1.4v1.4h-1.4zM270.0 779.6h1.4v1.4h-1.4zM270.5 775.6h1.4v1.4h-1.4zM270.1 782.2h1.4v1.4h-1.4zM271.2 782.7h1.4v1.4h-1.4zM271.0 785.9h1.4v1.4h-1.4zM271.0 780.9h1.4v1.4h-1.4zM271.0 783.9h1.4v1.4h-1.4zM272.9 779.9h1.4v1.4h-1.4zM273.0 782.5h1.4v1.4h-1.4zM273.1 783.3h1.4v1.4h-1.4zM274.1 780.4h1.4v1.4h-1.4zM274.0 779.7h1.4v1.4h-1.4zM273.3 781.3h1.4v1.4h-1.4zM273.3 777.3h1.4v1.4h-1.4zM274.3 778.7h1.4v1.4h-1.4zM274.8 778.2h1.4v1.4h-1.4zM275.5 779.3h1.4v1.4h-1.4zM275.1 778.4h1.4v1.4h-1.4zM275.2 777.9h1.4v1.4h-1.4zM275.2 779.2h1.4v1.4h-1.4zM276.8 779.1h1.4v1.4h-1.4zM276.3 781.5h1.4v1.4h-1.4zM276.1 779.8h1.4v1.4h-1.4zM279.1 782.3h1.4v1.4h-1.4zM278.5 781.8h1.4v1.4h-1.4zM279.6 781.1h1.4v1.4h-1.4zM279.6 782.6h1.4v1.4h-1.4zM279.7 780.2h1.4v1.4h-1.4zM280.8 782.3h1.4v1.4h-1.4zM281.3 782.5h1.4v1.4h-1.4zM281.8 784.4h1.4v1.4h-1.4zM281.6 782.3h1.4v1.4h-1.4zM282.0 783.5h1.4v1.4h-1.4zM281.9 785.5h1.4v1.4h-1.4zM284.0 781.7h1.4v1.4h-1.4zM283.2 787.5h1.4v1.4h-1.4zM283.5 786.3h1.4v1.4h-1.4zM283.8 785.3h1.4v1.4h-1.4zM284.3 783.4h1.4v1.4h-1.4zM284.4 785.9h1.4v1.4h-1.4zM284.6 785.8h1.4v1.4h-1.4zM285.8 786.7h1.4v1.4h-1.4zM285.9 785.5h1.4v1.4h-1.4zM285.3 786.3h1.4v1.4h-1.4zM285.1 788.6h1.4v1.4h-1.4zM286.3 786.6h1.4v1.4h-1.4zM286.0 785.9h1.4v1.4h-1.4zM286.2 784.0h1.4v1.4h-1.4zM287.9 787.3h1.4v1.4h-1.4zM288.2 784.2h1.4v1.4h-1.4zM288.3 785.9h1.4v1.4h-1.4zM290.9 789.3h1.4v1.4h-1.4zM291.3 789.7h1.4v1.4h-1.4zM291.5 785.4h1.4v1.4h-1.4zM291.1 785.7h1.4v1.4h-1.4zM291.6 792.0h1.4v1.4h-1.4zM292.2 790.1h1.4v1.4h-1.4zM292.2 792.6h1.4v1.4h-1.4zM293.9 791.6h1.4v1.4h-1.4zM293.0 792.4h1.4v1.4h-1.4zM293.5 789.6h1.4v1.4h-1.4zM293.3 789.8h1.4v1.4h-1.4zM294.2 793.7h1.4v1.4h-1.4zM294.3 792.9h1.4v1.4h-1.4zM294.9 792.0h1.4v1.4h-1.4zM294.1 790.5h1.4v1.4h-1.4zM295.9 791.9h1.4v1.4h-1.4zM295.8 787.9h1.4v1.4h-1.4zM296.7 794.0h1.4v1.4h-1.4zM297.1 789.1h1.4v1.4h-1.4zM296.2 790.4h1.4v1.4h-1.4zM297.5 793.9h1.4v1.4h-1.4zM298.3 794.0h1.4v1.4h-1.4zM298.9 796.5h1.4v1.4h-1.4zM299.1 791.9h1.4v1.4h-1.4zM299.0 793.2h1.4v1.4h-1.4zM299.0 792.0h1.4v1.4h-1.4zM299.9 792.9h1.4v1.4h-1.4zM299.0 792.9h1.4v1.4h-1.4zM299.3 795.6h1.4v1.4h-1.4zM300.4 794.5h1.4v1.4h-1.4zM300.4 796.5h1.4v1.4h-1.4zM300.1 795.3h1.4v1.4h-1.4zM300.5 794.7h1.4v1.4h-1.4zM300.1 794.0h1.4v1.4h-1.4zM300.2 794.6h1.4v1.4h-1.4zM300.7 792.2h1.4v1.4h-1.4zM301.8 793.9h1.4v1.4h-1.4zM301.7 795.8h1.4v1.4h-1.4zM301.7 795.3h1.4v1.4h-1.4zM302.2 791.9h1.4v1.4h-1.4zM302.0 794.1h1.4v1.4h-1.4zM302.5 797.7h1.4v1.4h-1.4zM303.2 794.9h1.4v1.4h-1.4zM303.7 792.8h1.4v1.4h-1.4zM303.8 796.3h1.4v1.4h-1.4zM304.1 792.5h1.4v1.4h-1.4zM305.1 794.2h1.4v1.4h-1.4zM305.9 792.8h1.4v1.4h-1.4zM305.2 796.1h1.4v1.4h-1.4zM305.7 792.7h1.4v1.4h-1.4zM305.7 797.7h1.4v1.4h-1.4zM305.8 793.2h1.4v1.4h-1.4zM306.8 796.7h1.4v1.4h-1.4zM306.8 797.6h1.4v1.4h-1.4zM306.7 797.8h1.4v1.4h-1.4zM306.3 796.6h1.4v1.4h-1.4zM306.2 791.9h1.4v1.4h-1.4zM306.3 798.8h1.4v1.4h-1.4zM306.3 799.3h1.4v1.4h-1.4zM307.2 797.4h1.4v1.4h-1.4zM307.1 794.6h1.4v1.4h-1.4zM307.5 797.6h1.4v1.4h-1.4zM307.2 794.6h1.4v1.4h-1.4zM307.5 792.8h1.4v1.4h-1.4zM307.1 793.1h1.4v1.4h-1.4zM308.3 794.2h1.4v1.4h-1.4zM308.3 792.4h1.4v1.4h-1.4zM309.0 799.3h1.4v1.4h-1.4zM308.8 795.2h1.4v1.4h-1.4zM308.5 794.3h1.4v1.4h-1.4zM308.7 796.9h1.4v1.4h-1.4zM308.7 794.6h1.4v1.4h-1.4zM309.5 796.5h1.4v1.4h-1.4zM309.1 799.5h1.4v1.4h-1.4zM309.0 798.0h1.4v1.4h-1.4zM309.8 799.6h1.4v1.4h-1.4zM309.5 791.9h1.4v1.4h-1.4zM309.3 795.5h1.4v1.4h-1.4zM309.9 791.6h1.4v1.4h-1.4zM311.1 794.9h1.4v1.4h-1.4zM310.9 795.6h1.4v1.4h-1.4zM311.0 799.7h1.4v1.4h-1.4zM310.9 794.8h1.4v1.4h-1.4zM310.2 795.8h1.4v1.4h-1.4zM310.4 792.8h1.4v1.4h-1.4zM311.5 803.5h1.4v1.4h-1.4zM311.3 792.6h1.4v1.4h-1.4zM311.7 797.5h1.4v1.4h-1.4zM311.5 792.8h1.4v1.4h-1.4zM311.0 800.1h1.4v1.4h-1.4zM311.8 798.6h1.4v1.4h-1.4zM311.1 792.7h1.4v1.4h-1.4zM312.7 795.0h1.4v1.4h-1.4zM312.3 801.6h1.4v1.4h-1.4zM312.1 797.0h1.4v1.4h-1.4zM313.0 795.4h1.4v1.4h-1.4zM312.5 799.2h1.4v1.4h-1.4zM313.0 804.0h1.4v1.4h-1.4zM312.9 799.3h1.4v1.4h-1.4zM312.8 793.9h1.4v1.4h-1.4zM313.9 792.6h1.4v1.4h-1.4zM313.2 798.4h1.4v1.4h-1.4zM313.1 798.8h1.4v1.4h-1.4zM314.0 796.2h1.4v1.4h-1.4zM314.0 798.4h1.4v1.4h-1.4zM314.0 797.1h1.4v1.4h-1.4zM314.5 799.8h1.4v1.4h-1.4zM314.4 796.6h1.4v1.4h-1.4zM314.4 795.3h1.4v1.4h-1.4zM314.7 798.0h1.4v1.4h-1.4zM314.8 800.2h1.4v1.4h-1.4zM314.0 801.3h1.4v1.4h-1.4zM314.6 796.3h1.4v1.4h-1.4zM315.7 802.1h1.4v1.4h-1.4zM315.2 805.4h1.4v1.4h-1.4zM315.1 802.9h1.4v1.4h-1.4zM315.5 804.0h1.4v1.4h-1.4zM315.2 808.2h1.4v1.4h-1.4zM315.0 800.5h1.4v1.4h-1.4zM315.4 802.7h1.4v1.4h-1.4zM315.2 800.6h1.4v1.4h-1.4zM316.0 801.6h1.4v1.4h-1.4zM316.7 813.6h1.4v1.4h-1.4zM317.1 820.0h1.4v1.4h-1.4zM316.6 808.4h1.4v1.4h-1.4zM317.3 820.1h1.4v1.4h-1.4zM318.2 810.7h1.4v1.4h-1.4zM317.5 812.9h1.4v1.4h-1.4zM318.3 809.8h1.4v1.4h-1.4zM317.2 807.4h1.4v1.4h-1.4zM318.2 815.6h1.4v1.4h-1.4zM319.3 809.8h1.4v1.4h-1.4zM319.4 810.4h1.4v1.4h-1.4zM319.0 815.8h1.4v1.4h-1.4zM318.6 807.7h1.4v1.4h-1.4zM319.4 804.8h1.4v1.4h-1.4zM318.8 817.1h1.4v1.4h-1.4zM318.9 809.5h1.4v1.4h-1.4zM320.2 806.3h1.4v1.4h-1.4zM320.7 814.1h1.4v1.4h-1.4zM321.0 805.6h1.4v1.4h-1.4zM320.1 804.3h1.4v1.4h-1.4zM321.3 808.9h1.4v1.4h-1.4zM321.8 802.1h1.4v1.4h-1.4zM321.5 809.3h1.4v1.4h-1.4zM322.8 813.5h1.4v1.4h-1.4zM323.0 807.9h1.4v1.4h-1.4zM323.0 817.2h1.4v1.4h-1.4zM323.0 813.0h1.4v1.4h-1.4zM322.9 811.6h1.4v1.4h-1.4zM323.0 807.1h1.4v1.4h-1.4zM323.9 812.7h1.4v1.4h-1.4zM325.6 806.6h1.4v1.4h-1.4zM325.7 813.2h1.4v1.4h-1.4zM326.9 804.4h1.4v1.4h-1.4zM326.6 798.7h1.4v1.4h-1.4zM327.0 800.5h1.4v1.4h-1.4zM327.9 800.8h1.4v1.4h-1.4zM328.9 807.0h1.4v1.4h-1.4zM329.8 801.1h1.4v1.4h-1.4zM329.0 807.3h1.4v1.4h-1.4zM329.7 799.1h1.4v1.4h-1.4zM330.9 803.2h1.4v1.4h-1.4zM331.0 799.4h1.4v1.4h-1.4zM331.4 807.5h1.4v1.4h-1.4zM331.2 802.6h1.4v1.4h-1.4zM331.3 802.6h1.4v1.4h-1.4zM331.6 815.9h1.4v1.4h-1.4zM332.4 811.8h1.4v1.4h-1.4zM331.6 811.9h1.4v1.4h-1.4zM333.6 812.9h1.4v1.4h-1.4zM333.0 807.9h1.4v1.4h-1.4zM332.9 804.7h1.4v1.4h-1.4zM334.4 815.3h1.4v1.4h-1.4zM334.1 814.3h1.4v1.4h-1.4zM334.2 810.3h1.4v1.4h-1.4zM335.2 818.2h1.4v1.4h-1.4zM335.1 808.6h1.4v1.4h-1.4zM336.0 811.5h1.4v1.4h-1.4zM336.6 816.6h1.4v1.4h-1.4zM335.9 809.2h1.4v1.4h-1.4zM336.0 809.9h1.4v1.4h-1.4zM335.8 807.4h1.4v1.4h-1.4zM337.3 800.3h1.4v1.4h-1.4zM337.5 802.2h1.4v1.4h-1.4zM339.1 799.2h1.4v1.4h-1.4zM338.4 814.1h1.4v1.4h-1.4zM338.5 812.8h1.4v1.4h-1.4zM338.8 808.0h1.4v1.4h-1.4zM338.2 805.5h1.4v1.4h-1.4zM339.2 811.2h1.4v1.4h-1.4zM340.3 797.5h1.4v1.4h-1.4zM340.0 805.3h1.4v1.4h-1.4zM340.3 810.2h1.4v1.4h-1.4zM340.3 803.6h1.4v1.4h-1.4zM339.5 808.1h1.4v1.4h-1.4zM340.2 799.5h1.4v1.4h-1.4zM340.7 798.9h1.4v1.4h-1.4zM341.2 799.7h1.4v1.4h-1.4zM341.6 804.4h1.4v1.4h-1.4zM340.9 800.2h1.4v1.4h-1.4zM340.7 810.3h1.4v1.4h-1.4zM340.7 807.6h1.4v1.4h-1.4zM340.8 803.5h1.4v1.4h-1.4zM342.5 803.5h1.4v1.4h-1.4zM342.8 804.0h1.4v1.4h-1.4zM342.8 801.8h1.4v1.4h-1.4zM342.5 806.3h1.4v1.4h-1.4zM343.0 817.7h1.4v1.4h-1.4zM343.4 815.8h1.4v1.4h-1.4zM343.2 801.2h1.4v1.4h-1.4zM343.3 811.1h1.4v1.4h-1.4zM344.3 803.6h1.4v1.4h-1.4zM344.3 808.1h1.4v1.4h-1.4zM343.5 807.5h1.4v1.4h-1.4zM345.2 812.2h1.4v1.4h-1.4zM344.9 805.7h1.4v1.4h-1.4zM345.6 808.1h1.4v1.4h-1.4zM344.6 803.0h1.4v1.4h-1.4zM345.4 812.2h1.4v1.4h-1.4zM345.6 816.0h1.4v1.4h-1.4zM345.2 816.8h1.4v1.4h-1.4zM345.5 810.9h1.4v1.4h-1.4zM344.6 806.1h1.4v1.4h-1.4zM344.7 810.3h1.4v1.4h-1.4zM346.7 817.5h1.4v1.4h-1.4zM346.3 817.7h1.4v1.4h-1.4zM346.9 819.9h1.4v1.4h-1.4zM346.9 809.2h1.4v1.4h-1.4zM345.9 815.0h1.4v1.4h-1.4zM346.8 805.6h1.4v1.4h-1.4zM346.9 805.9h1.4v1.4h-1.4zM347.0 811.9h1.4v1.4h-1.4zM348.1 802.9h1.4v1.4h-1.4zM348.1 809.4h1.4v1.4h-1.4zM347.4 811.1h1.4v1.4h-1.4zM348.1 807.8h1.4v1.4h-1.4zM347.7 818.0h1.4v1.4h-1.4zM347.8 808.1h1.4v1.4h-1.4zM349.3 815.0h1.4v1.4h-1.4zM349.4 806.9h1.4v1.4h-1.4zM349.3 812.5h1.4v1.4h-1.4zM348.7 812.0h1.4v1.4h-1.4zM348.7 812.6h1.4v1.4h-1.4zM350.4 814.5h1.4v1.4h-1.4zM350.6 811.1h1.4v1.4h-1.4zM349.8 804.3h1.4v1.4h-1.4zM350.3 809.4h1.4v1.4h-1.4zM350.7 807.5h1.4v1.4h-1.4zM351.8 809.6h1.4v1.4h-1.4zM351.1 810.9h1.4v1.4h-1.4zM351.8 803.3h1.4v1.4h-1.4zM353.4 817.3h1.4v1.4h-1.4zM352.9 805.8h1.4v1.4h-1.4zM354.2 804.9h1.4v1.4h-1.4zM354.6 815.7h1.4v1.4h-1.4zM354.7 822.4h1.4v1.4h-1.4zM354.7 818.3h1.4v1.4h-1.4zM355.1 813.8h1.4v1.4h-1.4zM356.0 817.2h1.4v1.4h-1.4zM355.3 820.0h1.4v1.4h-1.4zM355.8 813.1h1.4v1.4h-1.4zM355.3 812.3h1.4v1.4h-1.4zM356.3 813.9h1.4v1.4h-1.4zM356.7 803.5h1.4v1.4h-1.4zM357.0 806.3h1.4v1.4h-1.4zM357.9 806.7h1.4v1.4h-1.4zM358.3 819.6h1.4v1.4h-1.4zM358.3 807.6h1.4v1.4h-1.4zM358.0 804.4h1.4v1.4h-1.4zM358.7 811.8h1.4v1.4h-1.4zM358.7 806.7h1.4v1.4h-1.4zM359.5 807.7h1.4v1.4h-1.4zM359.5 800.5h1.4v1.4h-1.4zM359.9 814.0h1.4v1.4h-1.4zM359.7 811.6h1.4v1.4h-1.4zM359.4 810.6h1.4v1.4h-1.4zM359.5 805.0h1.4v1.4h-1.4zM360.7 808.8h1.4v1.4h-1.4zM360.4 808.4h1.4v1.4h-1.4zM361.3 804.0h1.4v1.4h-1.4zM360.2 809.5h1.4v1.4h-1.4zM361.5 801.1h1.4v1.4h-1.4zM362.4 804.6h1.4v1.4h-1.4zM362.3 803.7h1.4v1.4h-1.4zM362.5 798.6h1.4v1.4h-1.4zM361.5 801.8h1.4v1.4h-1.4zM363.7 809.0h1.4v1.4h-1.4zM362.7 803.3h1.4v1.4h-1.4zM363.7 799.8h1.4v1.4h-1.4zM363.5 803.0h1.4v1.4h-1.4zM363.0 804.8h1.4v1.4h-1.4zM363.8 804.7h1.4v1.4h-1.4zM363.8 804.1h1.4v1.4h-1.4zM364.1 804.6h1.4v1.4h-1.4zM364.3 801.9h1.4v1.4h-1.4zM364.6 801.7h1.4v1.4h-1.4zM364.7 810.8h1.4v1.4h-1.4zM365.8 806.6h1.4v1.4h-1.4zM366.2 808.0h1.4v1.4h-1.4zM366.5 805.0h1.4v1.4h-1.4zM365.5 800.2h1.4v1.4h-1.4zM366.0 805.7h1.4v1.4h-1.4zM365.8 806.2h1.4v1.4h-1.4zM365.3 806.6h1.4v1.4h-1.4zM365.6 793.5h1.4v1.4h-1.4zM367.0 801.0h1.4v1.4h-1.4zM366.7 799.6h1.4v1.4h-1.4zM366.6 807.7h1.4v1.4h-1.4zM368.2 802.2h1.4v1.4h-1.4zM368.8 801.0h1.4v1.4h-1.4zM368.8 798.1h1.4v1.4h-1.4zM369.0 801.0h1.4v1.4h-1.4zM368.6 799.6h1.4v1.4h-1.4zM369.8 800.6h1.4v1.4h-1.4zM369.8 799.6h1.4v1.4h-1.4zM370.2 796.0h1.4v1.4h-1.4zM369.5 796.8h1.4v1.4h-1.4zM370.7 805.4h1.4v1.4h-1.4zM370.7 801.4h1.4v1.4h-1.4zM370.8 799.3h1.4v1.4h-1.4zM372.6 801.0h1.4v1.4h-1.4zM372.9 797.8h1.4v1.4h-1.4zM371.8 800.7h1.4v1.4h-1.4zM373.2 799.8h1.4v1.4h-1.4zM374.0 800.0h1.4v1.4h-1.4zM373.3 800.1h1.4v1.4h-1.4zM373.4 794.5h1.4v1.4h-1.4zM374.1 800.2h1.4v1.4h-1.4zM373.2 794.4h1.4v1.4h-1.4zM374.2 796.9h1.4v1.4h-1.4zM374.9 800.3h1.4v1.4h-1.4zM375.5 795.5h1.4v1.4h-1.4zM374.6 799.7h1.4v1.4h-1.4zM375.2 796.6h1.4v1.4h-1.4zM375.1 800.6h1.4v1.4h-1.4zM375.6 794.2h1.4v1.4h-1.4zM376.9 802.1h1.4v1.4h-1.4zM375.9 798.8h1.4v1.4h-1.4zM376.8 799.6h1.4v1.4h-1.4zM376.3 795.4h1.4v1.4h-1.4zM376.8 804.9h1.4v1.4h-1.4zM376.8 797.2h1.4v1.4h-1.4zM376.8 800.7h1.4v1.4h-1.4zM377.8 798.1h1.4v1.4h-1.4zM377.0 802.0h1.4v1.4h-1.4zM377.8 803.7h1.4v1.4h-1.4zM377.5 797.1h1.4v1.4h-1.4zM377.1 804.3h1.4v1.4h-1.4zM377.8 800.0h1.4v1.4h-1.4zM377.7 796.6h1.4v1.4h-1.4zM378.0 795.0h1.4v1.4h-1.4zM379.5 794.6h1.4v1.4h-1.4zM378.7 803.5h1.4v1.4h-1.4zM379.3 801.4h1.4v1.4h-1.4zM380.6 807.8h1.4v1.4h-1.4zM380.0 804.3h1.4v1.4h-1.4zM380.2 803.4h1.4v1.4h-1.4zM379.8 800.5h1.4v1.4h-1.4zM379.9 806.9h1.4v1.4h-1.4zM381.3 802.7h1.4v1.4h-1.4zM381.1 805.9h1.4v1.4h-1.4zM381.8 811.0h1.4v1.4h-1.4zM381.3 812.0h1.4v1.4h-1.4zM381.1 807.7h1.4v1.4h-1.4zM382.1 803.3h1.4v1.4h-1.4zM381.2 797.7h1.4v1.4h-1.4zM382.8 803.8h1.4v1.4h-1.4zM382.5 806.4h1.4v1.4h-1.4zM383.2 797.3h1.4v1.4h-1.4zM383.1 802.8h1.4v1.4h-1.4zM384.4 805.2h1.4v1.4h-1.4zM384.0 803.0h1.4v1.4h-1.4zM384.0 807.1h1.4v1.4h-1.4zM383.7 813.4h1.4v1.4h-1.4zM384.1 811.0h1.4v1.4h-1.4zM383.7 810.5h1.4v1.4h-1.4zM384.7 815.1h1.4v1.4h-1.4zM385.3 810.5h1.4v1.4h-1.4zM385.4 813.6h1.4v1.4h-1.4zM385.5 804.3h1.4v1.4h-1.4zM385.6 804.4h1.4v1.4h-1.4zM385.4 819.4h1.4v1.4h-1.4zM385.5 821.8h1.4v1.4h-1.4zM387.0 800.3h1.4v1.4h-1.4zM386.8 804.9h1.4v1.4h-1.4zM387.2 815.1h1.4v1.4h-1.4zM386.8 808.0h1.4v1.4h-1.4zM386.3 804.3h1.4v1.4h-1.4zM387.9 800.8h1.4v1.4h-1.4zM387.7 806.0h1.4v1.4h-1.4zM387.5 807.7h1.4v1.4h-1.4zM388.0 804.3h1.4v1.4h-1.4zM387.5 803.2h1.4v1.4h-1.4zM388.7 805.5h1.4v1.4h-1.4zM389.6 806.2h1.4v1.4h-1.4zM388.9 799.6h1.4v1.4h-1.4zM389.4 804.5h1.4v1.4h-1.4zM390.1 803.8h1.4v1.4h-1.4zM390.4 798.8h1.4v1.4h-1.4zM390.7 797.3h1.4v1.4h-1.4zM391.8 794.5h1.4v1.4h-1.4zM391.7 808.1h1.4v1.4h-1.4zM392.2 802.3h1.4v1.4h-1.4zM391.4 797.0h1.4v1.4h-1.4zM392.5 799.7h1.4v1.4h-1.4zM391.8 793.6h1.4v1.4h-1.4zM392.3 803.1h1.4v1.4h-1.4zM393.5 803.7h1.4v1.4h-1.4zM393.7 794.7h1.4v1.4h-1.4zM392.8 802.0h1.4v1.4h-1.4zM392.7 800.3h1.4v1.4h-1.4zM393.5 802.6h1.4v1.4h-1.4zM393.2 807.1h1.4v1.4h-1.4zM393.8 800.4h1.4v1.4h-1.4zM393.6 808.0h1.4v1.4h-1.4zM394.8 795.7h1.4v1.4h-1.4zM394.7 799.7h1.4v1.4h-1.4zM394.4 804.7h1.4v1.4h-1.4zM394.1 803.3h1.4v1.4h-1.4zM394.6 802.3h1.4v1.4h-1.4zM394.7 796.7h1.4v1.4h-1.4zM394.2 797.6h1.4v1.4h-1.4zM394.1 796.9h1.4v1.4h-1.4zM393.9 801.0h1.4v1.4h-1.4zM394.8 808.5h1.4v1.4h-1.4zM395.7 807.1h1.4v1.4h-1.4zM396.2 798.5h1.4v1.4h-1.4zM395.8 811.5h1.4v1.4h-1.4zM395.8 808.4h1.4v1.4h-1.4zM397.6 810.2h1.4v1.4h-1.4zM397.3 803.9h1.4v1.4h-1.4zM397.5 806.4h1.4v1.4h-1.4zM397.4 808.0h1.4v1.4h-1.4zM397.6 809.4h1.4v1.4h-1.4zM398.8 804.3h1.4v1.4h-1.4zM398.5 806.5h1.4v1.4h-1.4zM398.7 805.0h1.4v1.4h-1.4zM398.6 812.5h1.4v1.4h-1.4zM398.7 805.2h1.4v1.4h-1.4zM398.0 800.5h1.4v1.4h-1.4zM399.5 811.1h1.4v1.4h-1.4zM400.1 807.3h1.4v1.4h-1.4zM399.4 800.9h1.4v1.4h-1.4zM399.8 798.9h1.4v1.4h-1.4zM399.5 809.4h1.4v1.4h-1.4zM399.8 806.3h1.4v1.4h-1.4zM401.0 799.2h1.4v1.4h-1.4zM401.0 811.7h1.4v1.4h-1.4zM400.5 801.7h1.4v1.4h-1.4zM400.8 805.0h1.4v1.4h-1.4zM401.9 812.4h1.4v1.4h-1.4zM402.2 801.6h1.4v1.4h-1.4zM402.1 816.8h1.4v1.4h-1.4zM402.0 806.1h1.4v1.4h-1.4zM402.4 798.4h1.4v1.4h-1.4zM402.0 803.8h1.4v1.4h-1.4zM402.2 799.7h1.4v1.4h-1.4zM401.8 808.0h1.4v1.4h-1.4zM403.5 806.6h1.4v1.4h-1.4zM403.7 811.8h1.4v1.4h-1.4zM403.1 807.0h1.4v1.4h-1.4zM403.3 799.7h1.4v1.4h-1.4zM403.8 809.7h1.4v1.4h-1.4zM404.5 808.8h1.4v1.4h-1.4zM404.8 807.1h1.4v1.4h-1.4zM404.9 802.6h1.4v1.4h-1.4zM404.5 812.9h1.4v1.4h-1.4zM404.4 811.4h1.4v1.4h-1.4zM405.9 812.3h1.4v1.4h-1.4zM406.1 808.2h1.4v1.4h-1.4zM405.8 813.3h1.4v1.4h-1.4zM407.8 811.1h1.4v1.4h-1.4zM407.2 808.7h1.4v1.4h-1.4zM408.1 814.3h1.4v1.4h-1.4zM407.8 809.7h1.4v1.4h-1.4zM407.1 810.4h1.4v1.4h-1.4zM408.0 815.7h1.4v1.4h-1.4zM406.9 818.9h1.4v1.4h-1.4zM407.0 809.5h1.4v1.4h-1.4zM408.6 809.8h1.4v1.4h-1.4zM409.2 818.1h1.4v1.4h-1.4zM409.0 815.6h1.4v1.4h-1.4zM409.8 813.0h1.4v1.4h-1.4zM409.9 803.8h1.4v1.4h-1.4zM411.5 813.3h1.4v1.4h-1.4zM411.8 807.2h1.4v1.4h-1.4zM411.7 811.8h1.4v1.4h-1.4zM411.2 812.1h1.4v1.4h-1.4zM413.1 806.2h1.4v1.4h-1.4zM413.0 803.0h1.4v1.4h-1.4zM413.1 814.1h1.4v1.4h-1.4zM412.8 811.7h1.4v1.4h-1.4zM412.8 811.7h1.4v1.4h-1.4zM412.5 804.1h1.4v1.4h-1.4zM413.1 806.5h1.4v1.4h-1.4zM413.1 806.5h1.4v1.4h-1.4zM414.4 799.3h1.4v1.4h-1.4zM413.5 803.6h1.4v1.4h-1.4zM413.6 810.6h1.4v1.4h-1.4zM414.0 806.7h1.4v1.4h-1.4zM414.0 808.3h1.4v1.4h-1.4zM413.7 806.6h1.4v1.4h-1.4zM414.1 807.2h1.4v1.4h-1.4zM413.9 812.2h1.4v1.4h-1.4zM414.8 806.8h1.4v1.4h-1.4zM415.0 806.4h1.4v1.4h-1.4zM414.9 811.5h1.4v1.4h-1.4zM415.8 802.0h1.4v1.4h-1.4zM415.7 802.9h1.4v1.4h-1.4zM416.2 807.8h1.4v1.4h-1.4zM416.0 813.1h1.4v1.4h-1.4zM416.0 803.4h1.4v1.4h-1.4zM416.9 806.9h1.4v1.4h-1.4zM417.4 803.9h1.4v1.4h-1.4zM418.8 803.4h1.4v1.4h-1.4zM421.0 804.2h1.4v1.4h-1.4zM420.6 813.2h1.4v1.4h-1.4zM420.4 807.8h1.4v1.4h-1.4zM420.1 808.1h1.4v1.4h-1.4zM422.2 811.7h1.4v1.4h-1.4zM421.5 811.8h1.4v1.4h-1.4zM421.8 809.3h1.4v1.4h-1.4zM423.2 806.3h1.4v1.4h-1.4zM422.9 809.0h1.4v1.4h-1.4zM423.4 807.7h1.4v1.4h-1.4zM422.5 800.8h1.4v1.4h-1.4zM422.5 813.1h1.4v1.4h-1.4zM423.3 812.0h1.4v1.4h-1.4zM424.6 800.8h1.4v1.4h-1.4zM424.6 799.2h1.4v1.4h-1.4zM424.3 804.8h1.4v1.4h-1.4zM424.6 801.7h1.4v1.4h-1.4zM424.9 796.7h1.4v1.4h-1.4zM423.9 802.3h1.4v1.4h-1.4zM424.3 797.0h1.4v1.4h-1.4zM426.2 800.0h1.4v1.4h-1.4zM425.7 801.7h1.4v1.4h-1.4zM426.2 801.5h1.4v1.4h-1.4zM425.5 797.4h1.4v1.4h-1.4zM425.9 793.1h1.4v1.4h-1.4zM426.6 794.9h1.4v1.4h-1.4zM427.4 795.6h1.4v1.4h-1.4zM427.1 803.6h1.4v1.4h-1.4zM427.0 799.5h1.4v1.4h-1.4zM428.5 799.7h1.4v1.4h-1.4zM428.2 796.3h1.4v1.4h-1.4zM428.0 796.9h1.4v1.4h-1.4zM428.7 800.5h1.4v1.4h-1.4zM429.4 798.3h1.4v1.4h-1.4zM431.4 799.4h1.4v1.4h-1.4zM430.9 802.1h1.4v1.4h-1.4zM430.7 804.3h1.4v1.4h-1.4zM432.0 796.4h1.4v1.4h-1.4zM432.0 799.4h1.4v1.4h-1.4zM432.4 801.8h1.4v1.4h-1.4zM432.1 796.8h1.4v1.4h-1.4zM432.1 799.1h1.4v1.4h-1.4zM434.0 798.6h1.4v1.4h-1.4zM434.0 798.3h1.4v1.4h-1.4zM433.8 800.7h1.4v1.4h-1.4zM433.1 798.5h1.4v1.4h-1.4zM434.5 791.6h1.4v1.4h-1.4zM434.2 794.6h1.4v1.4h-1.4zM434.6 791.7h1.4v1.4h-1.4zM435.6 794.2h1.4v1.4h-1.4zM435.5 795.6h1.4v1.4h-1.4zM435.6 797.2h1.4v1.4h-1.4zM436.6 791.4h1.4v1.4h-1.4zM436.4 797.8h1.4v1.4h-1.4zM437.1 799.2h1.4v1.4h-1.4zM438.0 799.1h1.4v1.4h-1.4zM437.8 792.4h1.4v1.4h-1.4zM437.9 789.8h1.4v1.4h-1.4zM438.3 796.0h1.4v1.4h-1.4zM438.3 793.7h1.4v1.4h-1.4zM438.5 790.9h1.4v1.4h-1.4zM438.3 793.1h1.4v1.4h-1.4zM438.1 795.5h1.4v1.4h-1.4zM439.8 798.7h1.4v1.4h-1.4zM439.4 794.6h1.4v1.4h-1.4zM440.4 797.6h1.4v1.4h-1.4zM440.9 797.4h1.4v1.4h-1.4zM441.2 800.7h1.4v1.4h-1.4zM441.7 796.4h1.4v1.4h-1.4zM441.2 796.3h1.4v1.4h-1.4zM442.7 800.6h1.4v1.4h-1.4zM443.2 801.1h1.4v1.4h-1.4zM442.9 806.8h1.4v1.4h-1.4zM442.5 799.7h1.4v1.4h-1.4zM444.2 806.2h1.4v1.4h-1.4zM443.7 802.2h1.4v1.4h-1.4zM443.6 795.9h1.4v1.4h-1.4zM446.7 807.5h1.4v1.4h-1.4zM446.0 807.6h1.4v1.4h-1.4zM448.1 814.4h1.4v1.4h-1.4zM448.1 805.9h1.4v1.4h-1.4zM449.7 810.9h1.4v1.4h-1.4zM448.9 810.0h1.4v1.4h-1.4zM449.0 807.3h1.4v1.4h-1.4zM450.5 806.8h1.4v1.4h-1.4zM450.5 815.4h1.4v1.4h-1.4zM451.6 812.2h1.4v1.4h-1.4zM451.4 808.6h1.4v1.4h-1.4zM452.1 816.5h1.4v1.4h-1.4zM451.1 811.1h1.4v1.4h-1.4zM453.4 814.7h1.4v1.4h-1.4zM453.6 814.1h1.4v1.4h-1.4zM452.5 814.6h1.4v1.4h-1.4zM452.8 812.9h1.4v1.4h-1.4zM452.7 811.2h1.4v1.4h-1.4zM452.5 812.6h1.4v1.4h-1.4zM453.8 817.4h1.4v1.4h-1.4zM454.5 810.9h1.4v1.4h-1.4zM453.7 813.7h1.4v1.4h-1.4zM455.4 814.7h1.4v1.4h-1.4zM455.5 813.8h1.4v1.4h-1.4zM455.9 807.6h1.4v1.4h-1.4zM455.7 811.0h1.4v1.4h-1.4zM456.6 811.5h1.4v1.4h-1.4zM457.1 809.0h1.4v1.4h-1.4zM458.6 810.1h1.4v1.4h-1.4zM459.1 822.3h1.4v1.4h-1.4zM460.9 811.6h1.4v1.4h-1.4zM461.2 820.5h1.4v1.4h-1.4zM460.4 816.5h1.4v1.4h-1.4zM462.5 819.2h1.4v1.4h-1.4zM462.5 814.0h1.4v1.4h-1.4zM464.0 813.3h1.4v1.4h-1.4zM463.6 819.1h1.4v1.4h-1.4zM463.8 821.0h1.4v1.4h-1.4zM463.9 817.2h1.4v1.4h-1.4zM463.6 815.1h1.4v1.4h-1.4zM465.1 818.3h1.4v1.4h-1.4zM464.9 814.5h1.4v1.4h-1.4zM464.4 818.0h1.4v1.4h-1.4zM464.8 816.7h1.4v1.4h-1.4zM466.3 816.8h1.4v1.4h-1.4zM465.9 822.9h1.4v1.4h-1.4zM465.4 820.5h1.4v1.4h-1.4zM467.9 817.7h1.4v1.4h-1.4zM466.8 821.3h1.4v1.4h-1.4zM467.6 818.5h1.4v1.4h-1.4zM468.5 814.2h1.4v1.4h-1.4zM469.1 817.9h1.4v1.4h-1.4zM470.0 824.3h1.4v1.4h-1.4zM469.9 821.6h1.4v1.4h-1.4zM470.1 821.2h1.4v1.4h-1.4zM469.8 818.8h1.4v1.4h-1.4zM469.6 819.8h1.4v1.4h-1.4zM471.2 817.4h1.4v1.4h-1.4zM471.2 815.7h1.4v1.4h-1.4zM471.7 817.7h1.4v1.4h-1.4zM471.0 816.3h1.4v1.4h-1.4zM472.5 819.5h1.4v1.4h-1.4zM472.2 821.0h1.4v1.4h-1.4zM472.5 821.5h1.4v1.4h-1.4zM472.1 818.2h1.4v1.4h-1.4zM474.4 820.7h1.4v1.4h-1.4zM473.4 818.5h1.4v1.4h-1.4zM473.7 824.9h1.4v1.4h-1.4zM474.3 820.8h1.4v1.4h-1.4zM473.9 818.0h1.4v1.4h-1.4zM475.6 825.3h1.4v1.4h-1.4zM476.1 822.2h1.4v1.4h-1.4zM476.5 828.1h1.4v1.4h-1.4zM476.4 819.6h1.4v1.4h-1.4zM476.7 823.3h1.4v1.4h-1.4zM478.2 822.4h1.4v1.4h-1.4zM477.5 825.4h1.4v1.4h-1.4zM478.8 820.9h1.4v1.4h-1.4zM478.6 822.9h1.4v1.4h-1.4zM479.5 825.8h1.4v1.4h-1.4zM478.8 826.3h1.4v1.4h-1.4zM480.4 827.6h1.4v1.4h-1.4zM480.1 826.1h1.4v1.4h-1.4zM481.2 822.9h1.4v1.4h-1.4zM481.9 828.2h1.4v1.4h-1.4zM481.9 827.4h1.4v1.4h-1.4zM484.4 824.8h1.4v1.4h-1.4zM484.1 824.9h1.4v1.4h-1.4zM485.2 828.0h1.4v1.4h-1.4zM485.0 827.1h1.4v1.4h-1.4zM486.6 825.9h1.4v1.4h-1.4zM487.2 816.2h1.4v1.4h-1.4zM487.1 829.1h1.4v1.4h-1.4zM488.1 816.4h1.4v1.4h-1.4zM488.0 825.9h1.4v1.4h-1.4zM487.5 822.4h1.4v1.4h-1.4zM488.0 821.7h1.4v1.4h-1.4zM489.6 817.3h1.4v1.4h-1.4zM489.3 822.9h1.4v1.4h-1.4zM489.3 822.5h1.4v1.4h-1.4zM490.9 829.0h1.4v1.4h-1.4zM490.7 819.3h1.4v1.4h-1.4zM491.2 821.1h1.4v1.4h-1.4zM490.8 828.2h1.4v1.4h-1.4zM491.7 823.8h1.4v1.4h-1.4zM492.6 824.0h1.4v1.4h-1.4zM491.9 823.8h1.4v1.4h-1.4zM492.5 830.0h1.4v1.4h-1.4zM491.5 826.9h1.4v1.4h-1.4zM491.7 820.8h1.4v1.4h-1.4zM492.9 822.7h1.4v1.4h-1.4zM493.3 823.6h1.4v1.4h-1.4zM492.9 834.9h1.4v1.4h-1.4zM492.9 828.4h1.4v1.4h-1.4zM493.4 831.2h1.4v1.4h-1.4zM494.4 831.9h1.4v1.4h-1.4zM494.6 819.5h1.4v1.4h-1.4zM494.1 838.2h1.4v1.4h-1.4zM494.3 821.0h1.4v1.4h-1.4zM494.6 830.8h1.4v1.4h-1.4zM494.0 830.5h1.4v1.4h-1.4zM494.9 825.4h1.4v1.4h-1.4zM496.2 827.9h1.4v1.4h-1.4zM495.8 823.4h1.4v1.4h-1.4zM496.4 833.4h1.4v1.4h-1.4zM497.6 832.9h1.4v1.4h-1.4zM496.7 835.3h1.4v1.4h-1.4zM497.6 832.2h1.4v1.4h-1.4zM497.3 823.2h1.4v1.4h-1.4zM497.6 831.7h1.4v1.4h-1.4zM498.1 829.7h1.4v1.4h-1.4zM498.1 825.9h1.4v1.4h-1.4zM498.5 824.1h1.4v1.4h-1.4zM498.6 824.5h1.4v1.4h-1.4zM498.5 831.5h1.4v1.4h-1.4zM498.3 834.6h1.4v1.4h-1.4zM500.1 823.9h1.4v1.4h-1.4zM499.9 830.4h1.4v1.4h-1.4zM499.7 827.6h1.4v1.4h-1.4zM500.7 831.2h1.4v1.4h-1.4zM501.0 821.9h1.4v1.4h-1.4zM501.0 832.8h1.4v1.4h-1.4zM500.7 835.3h1.4v1.4h-1.4zM500.7 824.4h1.4v1.4h-1.4zM500.5 827.4h1.4v1.4h-1.4zM501.4 831.8h1.4v1.4h-1.4zM502.7 825.0h1.4v1.4h-1.4zM502.3 829.2h1.4v1.4h-1.4zM502.2 827.4h1.4v1.4h-1.4zM502.2 830.3h1.4v1.4h-1.4zM501.9 831.9h1.4v1.4h-1.4zM502.3 824.5h1.4v1.4h-1.4zM502.9 832.8h1.4v1.4h-1.4zM503.5 832.2h1.4v1.4h-1.4zM503.7 826.5h1.4v1.4h-1.4zM503.1 824.5h1.4v1.4h-1.4zM503.8 833.5h1.4v1.4h-1.4zM504.7 834.6h1.4v1.4h-1.4zM505.6 827.2h1.4v1.4h-1.4zM505.5 833.3h1.4v1.4h-1.4zM505.3 828.3h1.4v1.4h-1.4zM506.7 835.4h1.4v1.4h-1.4zM505.7 828.0h1.4v1.4h-1.4zM506.1 832.3h1.4v1.4h-1.4zM505.7 834.2h1.4v1.4h-1.4zM506.3 832.4h1.4v1.4h-1.4zM508.0 833.5h1.4v1.4h-1.4zM507.3 836.3h1.4v1.4h-1.4zM507.5 834.5h1.4v1.4h-1.4zM507.4 825.2h1.4v1.4h-1.4zM507.3 839.4h1.4v1.4h-1.4zM508.8 841.0h1.4v1.4h-1.4zM509.0 833.7h1.4v1.4h-1.4zM509.4 833.5h1.4v1.4h-1.4zM508.7 828.7h1.4v1.4h-1.4zM509.2 836.9h1.4v1.4h-1.4zM509.1 824.8h1.4v1.4h-1.4zM510.4 832.1h1.4v1.4h-1.4zM509.7 831.3h1.4v1.4h-1.4zM510.1 837.3h1.4v1.4h-1.4zM510.3 831.2h1.4v1.4h-1.4zM510.4 829.0h1.4v1.4h-1.4zM511.6 831.6h1.4v1.4h-1.4zM511.3 836.3h1.4v1.4h-1.4zM511.3 827.0h1.4v1.4h-1.4zM511.7 827.8h1.4v1.4h-1.4zM513.3 840.8h1.4v1.4h-1.4zM513.0 836.3h1.4v1.4h-1.4zM513.3 839.0h1.4v1.4h-1.4zM512.4 827.8h1.4v1.4h-1.4zM512.8 834.4h1.4v1.4h-1.4zM513.1 838.3h1.4v1.4h-1.4zM512.4 839.2h1.4v1.4h-1.4zM512.9 834.7h1.4v1.4h-1.4zM514.1 839.0h1.4v1.4h-1.4zM514.2 842.0h1.4v1.4h-1.4zM514.5 837.2h1.4v1.4h-1.4zM514.0 834.0h1.4v1.4h-1.4zM514.5 837.9h1.4v1.4h-1.4zM514.2 839.7h1.4v1.4h-1.4zM514.5 835.0h1.4v1.4h-1.4zM513.6 834.3h1.4v1.4h-1.4zM514.0 834.9h1.4v1.4h-1.4zM513.6 845.6h1.4v1.4h-1.4zM514.6 842.4h1.4v1.4h-1.4zM515.6 838.8h1.4v1.4h-1.4zM515.3 831.6h1.4v1.4h-1.4zM515.7 838.6h1.4v1.4h-1.4zM515.6 833.3h1.4v1.4h-1.4zM515.1 840.7h1.4v1.4h-1.4zM516.6 840.3h1.4v1.4h-1.4zM516.5 842.5h1.4v1.4h-1.4zM516.3 841.0h1.4v1.4h-1.4zM516.2 838.3h1.4v1.4h-1.4zM516.4 840.7h1.4v1.4h-1.4zM518.6 837.6h1.4v1.4h-1.4zM518.2 846.9h1.4v1.4h-1.4zM517.7 833.7h1.4v1.4h-1.4zM517.6 838.7h1.4v1.4h-1.4zM518.0 840.5h1.4v1.4h-1.4zM517.9 836.7h1.4v1.4h-1.4zM517.8 844.1h1.4v1.4h-1.4zM518.4 836.8h1.4v1.4h-1.4zM518.0 841.1h1.4v1.4h-1.4zM518.8 846.8h1.4v1.4h-1.4zM519.2 839.1h1.4v1.4h-1.4zM519.2 845.7h1.4v1.4h-1.4zM519.0 836.9h1.4v1.4h-1.4zM519.2 843.8h1.4v1.4h-1.4zM519.5 835.9h1.4v1.4h-1.4zM520.9 849.7h1.4v1.4h-1.4zM520.6 845.4h1.4v1.4h-1.4zM520.6 843.6h1.4v1.4h-1.4zM520.2 842.6h1.4v1.4h-1.4zM520.9 851.1h1.4v1.4h-1.4zM521.6 843.5h1.4v1.4h-1.4zM521.9 842.2h1.4v1.4h-1.4zM521.9 858.3h1.4v1.4h-1.4zM521.9 849.5h1.4v1.4h-1.4zM522.3 842.6h1.4v1.4h-1.4zM521.3 859.6h1.4v1.4h-1.4zM522.0 851.5h1.4v1.4h-1.4zM522.5 847.4h1.4v1.4h-1.4zM523.7 846.0h1.4v1.4h-1.4zM523.8 837.6h1.4v1.4h-1.4zM523.1 845.2h1.4v1.4h-1.4zM522.8 860.8h1.4v1.4h-1.4zM524.3 856.9h1.4v1.4h-1.4zM524.3 847.8h1.4v1.4h-1.4zM523.9 850.7h1.4v1.4h-1.4zM523.9 843.8h1.4v1.4h-1.4zM524.5 848.8h1.4v1.4h-1.4zM524.0 842.6h1.4v1.4h-1.4zM524.0 842.7h1.4v1.4h-1.4zM524.2 849.3h1.4v1.4h-1.4zM525.6 845.4h1.4v1.4h-1.4zM526.1 856.4h1.4v1.4h-1.4zM525.7 861.8h1.4v1.4h-1.4zM525.4 850.1h1.4v1.4h-1.4zM525.8 847.9h1.4v1.4h-1.4zM526.3 863.5h1.4v1.4h-1.4zM526.3 856.6h1.4v1.4h-1.4zM525.3 842.3h1.4v1.4h-1.4zM525.5 850.3h1.4v1.4h-1.4zM526.6 859.0h1.4v1.4h-1.4zM527.6 845.1h1.4v1.4h-1.4zM527.5 864.1h1.4v1.4h-1.4zM527.5 852.2h1.4v1.4h-1.4zM527.4 857.4h1.4v1.4h-1.4zM527.7 853.2h1.4v1.4h-1.4zM526.6 861.1h1.4v1.4h-1.4zM527.5 852.5h1.4v1.4h-1.4zM527.7 851.7h1.4v1.4h-1.4zM526.8 853.9h1.4v1.4h-1.4zM528.3 846.7h1.4v1.4h-1.4zM528.9 836.5h1.4v1.4h-1.4zM528.2 862.2h1.4v1.4h-1.4zM528.3 853.5h1.4v1.4h-1.4zM529.0 839.9h1.4v1.4h-1.4zM528.3 857.8h1.4v1.4h-1.4zM529.3 866.7h1.4v1.4h-1.4zM529.5 845.5h1.4v1.4h-1.4zM529.8 865.5h1.4v1.4h-1.4zM529.6 863.3h1.4v1.4h-1.4zM529.5 852.4h1.4v1.4h-1.4zM529.5 839.8h1.4v1.4h-1.4zM529.9 859.7h1.4v1.4h-1.4zM529.7 846.4h1.4v1.4h-1.4zM529.1 841.7h1.4v1.4h-1.4zM529.9 852.2h1.4v1.4h-1.4zM530.1 852.3h1.4v1.4h-1.4zM531.3 861.0h1.4v1.4h-1.4zM530.6 846.9h1.4v1.4h-1.4zM531.4 858.2h1.4v1.4h-1.4zM531.6 853.0h1.4v1.4h-1.4zM531.2 854.5h1.4v1.4h-1.4zM531.5 855.2h1.4v1.4h-1.4zM530.9 855.8h1.4v1.4h-1.4zM531.3 857.6h1.4v1.4h-1.4zM531.0 856.1h1.4v1.4h-1.4zM530.4 843.6h1.4v1.4h-1.4zM531.0 856.8h1.4v1.4h-1.4zM531.2 859.0h1.4v1.4h-1.4zM531.1 850.3h1.4v1.4h-1.4zM531.9 853.5h1.4v1.4h-1.4zM531.8 865.7h1.4v1.4h-1.4zM532.2 858.0h1.4v1.4h-1.4zM532.3 858.1h1.4v1.4h-1.4zM532.8 851.8h1.4v1.4h-1.4zM532.5 848.7h1.4v1.4h-1.4zM531.9 871.6h1.4v1.4h-1.4zM532.4 861.4h1.4v1.4h-1.4zM532.8 859.3h1.4v1.4h-1.4zM532.9 864.4h1.4v1.4h-1.4zM532.7 855.8h1.4v1.4h-1.4zM531.8 836.8h1.4v1.4h-1.4zM534.1 857.0h1.4v1.4h-1.4zM533.4 844.9h1.4v1.4h-1.4zM534.1 874.8h1.4v1.4h-1.4zM533.8 872.9h1.4v1.4h-1.4zM533.8 865.0h1.4v1.4h-1.4zM533.4 860.3h1.4v1.4h-1.4zM533.1 848.4h1.4v1.4h-1.4zM533.5 859.6h1.4v1.4h-1.4zM533.3 847.2h1.4v1.4h-1.4zM533.3 865.1h1.4v1.4h-1.4zM533.4 862.9h1.4v1.4h-1.4zM533.5 842.4h1.4v1.4h-1.4zM533.6 859.7h1.4v1.4h-1.4zM534.1 844.6h1.4v1.4h-1.4zM534.5 862.6h1.4v1.4h-1.4zM534.7 859.0h1.4v1.4h-1.4zM534.5 860.8h1.4v1.4h-1.4zM535.0 848.9h1.4v1.4h-1.4zM534.5 866.7h1.4v1.4h-1.4zM534.4 860.2h1.4v1.4h-1.4zM534.9 852.5h1.4v1.4h-1.4zM535.2 860.5h1.4v1.4h-1.4zM535.4 857.4h1.4v1.4h-1.4zM535.1 845.1h1.4v1.4h-1.4zM534.6 858.2h1.4v1.4h-1.4zM534.9 862.4h1.4v1.4h-1.4zM534.7 859.3h1.4v1.4h-1.4zM534.6 838.2h1.4v1.4h-1.4zM534.9 864.4h1.4v1.4h-1.4zM534.9 855.8h1.4v1.4h-1.4zM534.6 866.1h1.4v1.4h-1.4zM535.3 863.5h1.4v1.4h-1.4zM535.3 859.2h1.4v1.4h-1.4zM536.2 849.1h1.4v1.4h-1.4zM536.3 847.0h1.4v1.4h-1.4zM535.9 850.1h1.4v1.4h-1.4zM536.4 871.0h1.4v1.4h-1.4zM535.9 832.1h1.4v1.4h-1.4zM536.4 860.1h1.4v1.4h-1.4zM536.4 867.5h1.4v1.4h-1.4zM536.6 854.6h1.4v1.4h-1.4zM536.0 854.0h1.4v1.4h-1.4zM536.2 845.6h1.4v1.4h-1.4zM535.7 856.2h1.4v1.4h-1.4zM536.5 860.5h1.4v1.4h-1.4zM537.6 840.9h1.4v1.4h-1.4zM537.9 839.9h1.4v1.4h-1.4zM537.3 875.4h1.4v1.4h-1.4zM537.4 863.6h1.4v1.4h-1.4zM537.6 852.6h1.4v1.4h-1.4zM537.3 846.9h1.4v1.4h-1.4zM538.0 874.2h1.4v1.4h-1.4zM538.0 866.5h1.4v1.4h-1.4zM537.8 858.4h1.4v1.4h-1.4zM537.6 846.3h1.4v1.4h-1.4zM538.0 867.2h1.4v1.4h-1.4zM537.2 870.9h1.4v1.4h-1.4zM538.0 838.3h1.4v1.4h-1.4z"/>
<rect x="173.4" y="738.2" width="1.5" height="16" fill="#5E6463"/>
<rect x="262.0" y="764.4" width="1.5" height="12" fill="#5E6463"/>
<line x1="174.6" y1="777.5" x2="174.6" y2="841.0" stroke="#2A2220" stroke-width="1.2"/>
<path d="M174.6,771.5 L179.2,779.9 L170.0,779.9 Z" fill="#2A2220"/>
<line x1="199.5" y1="766.0" x2="199.5" y2="792.5" stroke="#2A2220" stroke-width="1.2"/>
<path d="M199.5,760.0 L204.1,768.4 L194.9,768.4 Z" fill="#2A2220"/>
<line x1="370.2" y1="828.0" x2="370.2" y2="842.0" stroke="#2A2220" stroke-width="1.2"/>
<path d="M370.2,822.0 L374.8,830.4 L365.59999999999997,830.4 Z" fill="#2A2220"/>
<line x1="437.8" y1="820.6" x2="437.8" y2="833.2" stroke="#2A2220" stroke-width="1.2"/>
<path d="M437.8,814.6 L442.40000000000003,823.0 L433.2,823.0 Z" fill="#2A2220"/>
<text x="235.6" y="807.3" font-size="12" fill="#231F20" text-anchor="middle" stroke="#231F20" stroke-width="0.22">Early-Eocene</text>
<text x="235.6" y="821.0" font-size="12" fill="#231F20" text-anchor="middle" stroke="#231F20" stroke-width="0.22">Climate Optimum</text>
<text x="175.0" y="856.2" font-size="12" fill="#231F20" text-anchor="middle" stroke="#231F20" stroke-width="0.22">Palaeocene-Eocene</text>
<text x="175.0" y="870.8" font-size="12" fill="#231F20" text-anchor="middle" stroke="#231F20" stroke-width="0.22">Thermal Maximum</text>
<text x="361.6" y="854.7" font-size="12" fill="#231F20" text-anchor="middle" stroke="#231F20" stroke-width="0.22">Late-Oligocene</text>
<text x="361.6" y="869.5" font-size="12" fill="#231F20" text-anchor="middle" stroke="#231F20" stroke-width="0.22">Warming</text>
<text x="462.7" y="848.9" font-size="12" fill="#231F20" text-anchor="middle" stroke="#231F20" stroke-width="0.22">Mid-Miocene</text>
<text x="462.7" y="863.3" font-size="12" fill="#231F20" text-anchor="middle" stroke="#231F20" stroke-width="0.22">Climate Optimum</text>
<text transform="translate(453.5,791.5) rotate(24)" font-size="12" fill="#231F20" stroke="#231F20" stroke-width="0.22">Cooling</text></svg>
</body></html>
